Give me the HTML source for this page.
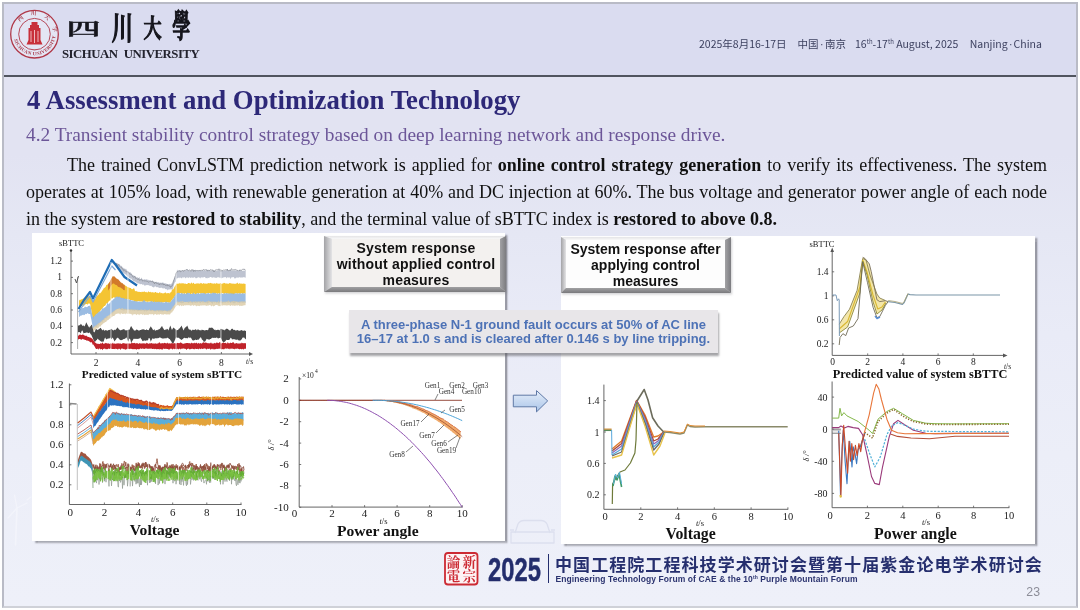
<!DOCTYPE html>
<html><head><meta charset="utf-8">
<style>
*{margin:0;padding:0;box-sizing:border-box}
html,body{width:1080px;height:610px;overflow:hidden;background:#fff;position:relative}
#slide{position:absolute;left:2px;top:2px;width:1076px;height:606px;border:2px solid #b9bbc6;border-bottom-color:#cfd1d8;background:linear-gradient(180deg,#e2e3f2 0px,#e2e3f2 150px,#e5e7f4 230px,#e9ebf7 330px,#eceef8 450px,#eef0f9 600px);overflow:hidden}
.abs{position:absolute}
#hdr{position:absolute;left:0;top:0;width:1072px;height:73px;background:#dadcf0;border-bottom:2px solid #50545f}
#title{left:23px;top:80.7px;font:bold 26.75px "Liberation Serif",serif;color:#2d2878;white-space:nowrap}
#sub{left:22px;top:120px;font:19.35px "Liberation Serif",serif;color:#6c5698;white-space:nowrap}
#para{left:22px;top:148px;width:1021px;font:18px/26.9px "Liberation Serif",serif;color:#111;text-align:justify}
#para .l{display:block;text-align-last:justify;white-space:nowrap}
#para .l3{display:inline-block;white-space:nowrap}
.panel{position:absolute;background:#fff;box-shadow:2.5px 2px 1.5px rgba(75,75,85,.5)}
.pg{position:absolute;white-space:nowrap;line-height:1}
.bevel{position:absolute;border-style:solid;text-align:center;font:bold 14px/16px "Liberation Sans",sans-serif;color:#111}
#boxA{left:324px;top:236px;width:182px;height:56px;border-width:3px 6px 5px 8px;border-color:transparent;padding-top:0.5px;letter-spacing:0.2px}
#boxB{left:561px;top:237px;width:170px;height:56px;border-width:3px 6px 5px 5px;border-color:transparent;padding-top:1px}
#fault{left:349px;top:310px;width:369px;height:43px;background:#e8e6e9;box-shadow:1px 2.5px 2px rgba(90,90,95,.55);font:bold 13px/14.4px "Liberation Sans",sans-serif;color:#4d72b6;text-align:center;padding-top:7.8px}
.cjk{font-family:"Noto Sans CJK SC",sans-serif}
#date span{position:absolute;top:0;white-space:nowrap;font:10.5px/1 "Noto Sans CJK SC","Liberation Sans",sans-serif;color:#3b3f5e;transform-origin:0 0}
#date sup{font-size:6px;vertical-align:4px}
</style></head><body>
<div id="slide">
  <div id="hdr"></div>
  <div id="title" class="abs">4 Assessment and Optimization Technology</div>
  <div id="sub" class="abs">4.2 Transient stability control strategy based on deep learning network and response drive.</div>
  <div id="para" class="abs"><span class="l" style="padding-left:41px">The trained ConvLSTM prediction network is applied for <b>online control strategy generation</b> to verify its effectiveness. The system</span><span class="l">operates at 105% load, with renewable generation at 40% and DC injection at 60%. The bus voltage and generator power angle of each node</span><span class="l3" id="l3">in the system are <b>restored to stability</b>, and the terminal value of sBTTC index is <b>restored to above 0.8.</b></span></div>
  <div class="panel" style="left:28px;top:229px;width:473px;height:308px"></div>
  <div class="panel" style="left:557px;top:232px;width:474px;height:308px"></div>
</div>
<svg id="charts" width="1080" height="610" viewBox="0 0 1080 610" style="position:absolute;left:0;top:0">
<path d="M71,250.5 L71,354 L249,354" fill="none" stroke="#555" stroke-width="0.9" stroke-linejoin="round"/>
<path d="M249,352 L253,354 L249,356Z" fill="#555"/>
<circle cx="71" cy="250.5" r="1.2" fill="#333"/>
<text x="71.5" y="246" font-family='"Liberation Serif",serif' font-size="8.5" text-anchor="middle" font-weight="normal" fill="#222">sBTTC</text>
<text x="62" y="264.1" font-family='"Liberation Serif",serif' font-size="9.5" text-anchor="end" font-weight="normal" fill="#222">1.2</text>
<path d="M71,261.1 L73,261.1" fill="none" stroke="#555" stroke-width="0.8" stroke-linejoin="round"/>
<text x="62" y="280.4" font-family='"Liberation Serif",serif' font-size="9.5" text-anchor="end" font-weight="normal" fill="#222">1</text>
<path d="M71,277.4 L73,277.4" fill="none" stroke="#555" stroke-width="0.8" stroke-linejoin="round"/>
<text x="62" y="296.7" font-family='"Liberation Serif",serif' font-size="9.5" text-anchor="end" font-weight="normal" fill="#222">0.8</text>
<path d="M71,293.7 L73,293.7" fill="none" stroke="#555" stroke-width="0.8" stroke-linejoin="round"/>
<text x="62" y="313" font-family='"Liberation Serif",serif' font-size="9.5" text-anchor="end" font-weight="normal" fill="#222">0.6</text>
<path d="M71,310 L73,310" fill="none" stroke="#555" stroke-width="0.8" stroke-linejoin="round"/>
<text x="62" y="329.3" font-family='"Liberation Serif",serif' font-size="9.5" text-anchor="end" font-weight="normal" fill="#222">0.4</text>
<path d="M71,326.3 L73,326.3" fill="none" stroke="#555" stroke-width="0.8" stroke-linejoin="round"/>
<text x="62" y="345.6" font-family='"Liberation Serif",serif' font-size="9.5" text-anchor="end" font-weight="normal" fill="#222">0.2</text>
<path d="M71,342.6 L73,342.6" fill="none" stroke="#555" stroke-width="0.8" stroke-linejoin="round"/>
<text x="96" y="366" font-family='"Liberation Serif",serif' font-size="9.5" text-anchor="middle" font-weight="normal" fill="#222">2</text>
<path d="M96,354 L96,352" fill="none" stroke="#555" stroke-width="0.8" stroke-linejoin="round"/>
<text x="137.8" y="366" font-family='"Liberation Serif",serif' font-size="9.5" text-anchor="middle" font-weight="normal" fill="#222">4</text>
<path d="M137.8,354 L137.8,352" fill="none" stroke="#555" stroke-width="0.8" stroke-linejoin="round"/>
<text x="179.6" y="366" font-family='"Liberation Serif",serif' font-size="9.5" text-anchor="middle" font-weight="normal" fill="#222">6</text>
<path d="M179.6,354 L179.6,352" fill="none" stroke="#555" stroke-width="0.8" stroke-linejoin="round"/>
<text x="221.4" y="366" font-family='"Liberation Serif",serif' font-size="9.5" text-anchor="middle" font-weight="normal" fill="#222">8</text>
<path d="M221.4,354 L221.4,352" fill="none" stroke="#555" stroke-width="0.8" stroke-linejoin="round"/>
<text x="246" y="364" font-family='"Liberation Serif",serif' font-size="7.5" text-anchor="start" font-weight="normal" fill="#222"><tspan font-style="italic">t</tspan>/s</text>
<text x="162" y="378" font-family='"Liberation Serif",serif' font-size="11.3" text-anchor="middle" font-weight="bold" fill="#111">Predicted value of system sBTTC</text>
<path d="M77.6,277 L77.6,349" fill="none" stroke="#999" stroke-width="0.8" stroke-linejoin="round"/>
<path d="M75,279 L76.5,283 L78.5,276" fill="none" stroke="#555" stroke-width="1.0" stroke-linejoin="round"/>
<path d="M112,261 L112.7,262.2 L113.4,261.6 L114.1,261.9 L114.8,262.8 L115.5,262.7 L116.2,263.4 L116.9,262.4 L117.6,263.6 L118.3,264.1 L119,263.8 L119.7,264.6 L120.4,265.7 L121.1,265.8 L121.8,266 L122.5,267.4 L123.2,267.8 L123.9,268.5 L124.6,268.5 L125.3,269.2 L126,268.5 L126.7,270.1 L127.4,270.9 L128.1,270.9 L128.8,271.7 L129.5,272.4 L130.2,272.2 L130.9,272.8 L131.6,273.8 L132.3,274.7 L133,275 L133.7,275.6 L134.4,275.9 L135.1,275.7 L135.8,276.8 L136.5,277.9 L137.2,277.3 L137.9,277.6 L138.6,278.4 L139.3,276.7 L140,279 L140.7,278.9 L141.4,277.4 L142.1,278.7 L142.8,279.5 L143.5,279.7 L144.2,279.6 L144.9,279.1 L145.6,279.8 L146.3,279.5 L147,278.9 L147.7,280.1 L148.4,279.8 L149.1,280.4 L149.8,279.9 L150.5,280.5 L151.2,280.7 L151.9,281 L152.6,280.6 L153.3,281.3 L154,281.8 L154.7,281.8 L155.4,282 L156.1,282.2 L156.8,281.5 L157.5,282.4 L158.2,282.1 L158.9,282.5 L159.6,282.7 L160.3,282.7 L161,282.4 L161.7,282.9 L162.4,282.2 L163.1,283.1 L163.8,282.6 L164.5,283.8 L165.2,283.3 L165.9,283.5 L166.6,283.8 L167.3,283.9 L168,284.1 L168.7,284.3 L169.4,283.8 L170.1,284.2 L170.8,284.2 L171.5,283.3 L172.2,283.9 L172.9,281.8 L173.6,280.5 L174.3,278.6 L175,276.4 L175.7,273.8 L176.4,272.2 L177.1,269.5 L177.8,270.7 L178.5,270.5 L179.2,270.7 L179.9,270.5 L180.6,270.1 L181.3,270.7 L182,270.3 L182.7,270.9 L183.4,270.8 L184.1,269.6 L184.8,270.7 L185.5,270.3 L186.2,270.3 L186.9,270.1 L187.6,268.7 L188.3,270.9 L189,270.6 L189.7,270.5 L190.4,270.9 L191.1,270.6 L191.8,270.6 L192.5,270.3 L193.2,269.4 L193.9,270.3 L194.6,270.8 L195.3,269.6 L196,270.6 L196.7,270.4 L197.4,270.8 L198.1,270.5 L198.8,270.5 L199.5,270.2 L200.2,270.2 L200.9,270.8 L201.6,270.9 L202.3,270.8 L203,269.8 L203.7,270.4 L204.4,270.2 L205.1,270.6 L205.8,270.9 L206.5,269.6 L207.2,269.5 L207.9,270.4 L208.6,271 L209.3,270.1 L210,270.9 L210.7,270.3 L211.4,270.3 L212.1,270.9 L212.8,269.2 L213.5,270.6 L214.2,270.8 L214.9,270 L215.6,270.6 L216.3,270.9 L217,270.8 L217.7,270.4 L218.4,270.1 L219.1,270.3 L219.8,270.3 L220.5,270.8 L221.2,270.4 L221.9,270.5 L222.6,270.5 L223.3,270.1 L224,271 L224.7,271 L225.4,270.7 L226.1,270 L226.8,270.6 L227.5,269.4 L228.2,270.5 L228.9,270.9 L229.6,270.5 L230.3,270.6 L231,270.7 L231.7,270.2 L232.4,270.4 L233.1,270.7 L233.8,270.8 L234.5,270.3 L235.2,270.4 L235.9,270.3 L236.6,270.8 L237.3,270.6 L238,270.7 L238.7,271 L239.4,269.6 L240.1,270 L240.8,270.5 L241.5,270.4 L242.2,271 L242.9,270.5 L243.6,270.7 L244.3,270.7 L245,270.6 L245.7,270.6 L245.7,277.7 L245,277.4 L244.3,277.3 L243.6,277.1 L242.9,277.7 L242.2,277.2 L241.5,277.4 L240.8,277.7 L240.1,277.3 L239.4,277.3 L238.7,277.3 L238,278.2 L237.3,277.2 L236.6,277.5 L235.9,278.1 L235.2,278.6 L234.5,278.6 L233.8,277.1 L233.1,277.3 L232.4,277.3 L231.7,277.6 L231,277.6 L230.3,279.3 L229.6,277.2 L228.9,277.3 L228.2,277.8 L227.5,277.1 L226.8,278.4 L226.1,277.5 L225.4,277.1 L224.7,277.3 L224,277.2 L223.3,277.5 L222.6,277.9 L221.9,277.4 L221.2,278.4 L220.5,277.7 L219.8,277.3 L219.1,277.9 L218.4,277.1 L217.7,277.3 L217,277.6 L216.3,278 L215.6,278.1 L214.9,277.1 L214.2,278.1 L213.5,277.1 L212.8,278.1 L212.1,277.3 L211.4,277.5 L210.7,277.1 L210,277 L209.3,277.7 L208.6,277.9 L207.9,277.4 L207.2,278.5 L206.5,278.1 L205.8,278.3 L205.1,277.3 L204.4,277.1 L203.7,277.1 L203,278.1 L202.3,277.3 L201.6,277.1 L200.9,278.4 L200.2,277.4 L199.5,277.7 L198.8,277.3 L198.1,277.2 L197.4,277.8 L196.7,277.9 L196,278.5 L195.3,277.7 L194.6,277.1 L193.9,277.8 L193.2,277.5 L192.5,277.8 L191.8,277.6 L191.1,277.6 L190.4,278.1 L189.7,277.3 L189,277.2 L188.3,278.3 L187.6,277.2 L186.9,277.8 L186.2,277.3 L185.5,278.4 L184.8,277.5 L184.1,277.1 L183.4,277.7 L182.7,277.1 L182,278.4 L181.3,277.9 L180.6,277.7 L179.9,277.2 L179.2,278.2 L178.5,277.5 L177.8,277.9 L177.1,278.6 L176.4,278.6 L175.7,282 L175,282 L174.3,283.6 L173.6,286 L172.9,288.6 L172.2,290 L171.5,289.3 L170.8,289.1 L170.1,289.7 L169.4,289.3 L168.7,289.7 L168,289.3 L167.3,290.5 L166.6,289.1 L165.9,289.2 L165.2,289 L164.5,287.9 L163.8,288.7 L163.1,287.7 L162.4,288.6 L161.7,287.7 L161,287.4 L160.3,288 L159.6,287.9 L158.9,287.5 L158.2,287.6 L157.5,286.9 L156.8,287.2 L156.1,287 L155.4,286.3 L154.7,286.5 L154,287.6 L153.3,287.3 L152.6,286.9 L151.9,286.6 L151.2,285.6 L150.5,286 L149.8,285.6 L149.1,285.7 L148.4,285.1 L147.7,285.1 L147,285.3 L146.3,285 L145.6,285.4 L144.9,285.3 L144.2,285.7 L143.5,284.2 L142.8,285 L142.1,284.3 L141.4,284 L140.7,284.1 L140,284.5 L139.3,283.4 L138.6,283.6 L137.9,283.3 L137.2,283.4 L136.5,282.6 L135.8,282.2 L135.1,281.6 L134.4,281.6 L133.7,281.5 L133,280.7 L132.3,280.1 L131.6,278.9 L130.9,278.2 L130.2,278.7 L129.5,278.1 L128.8,277.6 L128.1,276.3 L127.4,276.7 L126.7,275.4 L126,274.4 L125.3,274.2 L124.6,274.1 L123.9,272.8 L123.2,273 L122.5,272.1 L121.8,271.4 L121.1,270.6 L120.4,270.7 L119.7,269.6 L119,268.9 L118.3,268.4 L117.6,269.5 L116.9,267.3 L116.2,266.3 L115.5,266.2 L114.8,264.9 L114.1,265.2 L113.4,263.4 L112.7,263.3 L112,263.2Z" fill="#b7bccb" fill-opacity="0.9"/>
<path d="M116,263.2 L116.7,263.8 L117.4,265.9 L118.1,264.8 L118.8,264.7 L119.5,266.3 L120.2,266.7 L120.9,267.5 L121.6,267.4 L122.3,269 L123,269 L123.7,270.7 L124.4,270.1 L125.1,270.4 L125.8,271.6 L126.5,271.8 L127.2,271.3 L127.9,272.8 L128.6,272.4 L129.3,274.1 L130,273.5 L130.7,274.6 L131.4,274.4 L132.1,275.6 L132.8,276.8 L133.5,277.1 L134.2,276.6 L134.9,276.6 L135.6,278.4 L136.3,278.1 L137,278.5 L137.7,279.6 L138.4,278.6 L139.1,280 L139.8,280.3 L140.5,279.8 L141.2,279.4 L141.9,279.9 L142.6,281.1 L143.3,280.5 L144,281.3 L144.7,280.7 L145.4,280.9 L146.1,281.1 L146.8,281.2 L147.5,281.5 L148.2,281.9 L148.9,282.3 L149.6,281.6 L150.3,281.3 L151,281.6 L151.7,281.6 L152.4,281.1 L153.1,282.5 L153.8,282.1 L154.5,283.9 L155.2,282.6 L155.9,282.2 L156.6,283.5 L157.3,283.4 L158,284 L158.7,283.8 L159.4,285 L160.1,283.5 L160.8,284.3 L161.5,284 L162.2,284.1 L162.9,283.6 L163.6,285.1 L164.3,283.9 L165,285.2 L165.7,285.4 L166.4,285.6 L167.1,284.5 L167.8,286.1 L168.5,285.3 L169.2,286.2 L169.9,285.8 L170.6,287.4 L171.3,286 L172,286.4 L172.7,284.5 L173.4,281.1 L174.1,279.5 L174.8,277.4 L175.5,275.5 L176.2,272.9 L176.9,271.9 L177.6,271.7 L178.3,271.3 L179,270.5 L179.7,270.9 L180.4,271.8 L181.1,271.6 L181.8,270.9 L182.5,270.2 L183.2,271.2 L183.9,270.9 L184.6,270.5 L185.3,270.4 L186,269.6 L186.7,269.6 L187.4,269.7 L188.1,270.6 L188.8,270.6 L189.5,270 L190.2,270.3 L190.9,271.3 L191.6,269.7 L192.3,270.1 L193,269.7 L193.7,271.6 L194.4,270.2 L195.1,271.2 L195.8,270.8 L196.5,270 L197.2,270.8 L197.9,270.5 L198.6,270.7 L199.3,270.5 L200,270.7 L200.7,270.7 L201.4,269.9 L202.1,270.8 L202.8,269.9 L203.5,269.5 L204.2,270.1 L204.9,269.8 L205.6,269.9 L206.3,269.6 L207,270.8 L207.7,270.8 L208.4,269.9 L209.1,271.1 L209.8,270.2 L210.5,269.8 L211.2,269.6 L211.9,270.5 L212.6,270.2 L213.3,270.4 L214,272 L214.7,270.8 L215.4,270.2 L216.1,269.6 L216.8,270 L217.5,269.8 L218.2,269.8 L218.9,268.8 L219.6,270.3 L220.3,269.5 L221,271.5 L221.7,270 L222.4,270.7 L223.1,270.4 L223.8,269.7 L224.5,270.3 L225.2,269.9 L225.9,269.9 L226.6,270.1 L227.3,269 L228,271 L228.7,270.5 L229.4,270 L230.1,271 L230.8,269.5 L231.5,268.6 L232.2,270.3 L232.9,269.6 L233.6,270 L234.3,269.7 L235,269.9 L235.7,269.5 L236.4,270 L237.1,270.5 L237.8,270.3 L238.5,271.1 L239.2,270.4 L239.9,270.3 L240.6,270.2 L241.3,270.4 L242,269.9 L242.7,269.2 L243.4,269.4 L244.1,268.9 L244.8,269.9 L245.5,270.1" fill="none" stroke="#8c8f98" stroke-width="0.8" stroke-linejoin="round"/>
<path d="M79,299.4 L79.7,300.4 L80.4,299.8 L81.1,299.8 L81.8,299 L82.5,299.1 L83.2,298.5 L83.9,298.4 L84.6,297.6 L85.3,297.6 L86,297.7 L86.7,296.9 L87.4,296.1 L88.1,296 L88.8,296.5 L89.5,296.1 L90.2,293.9 L90.9,297.6 L91.6,298.2 L92.3,300.5 L93,301.9 L93.7,300 L94.4,299.9 L95.1,299.5 L95.8,297.9 L96.5,296.3 L97.2,295.7 L97.9,295.3 L98.6,294.8 L99.3,293.1 L100,293.6 L100.7,292.8 L101.4,292 L102.1,290.8 L102.8,289.9 L103.5,288.6 L104.2,287.9 L104.9,287.4 L105.6,287 L106.3,284.7 L107,285.3 L107.7,284.2 L108.4,283.5 L109.1,283 L109.8,281.9 L110.5,281.1 L111.2,279.9 L111.9,279.4 L112.6,278.7 L113.3,278.5 L114,279.3 L114.7,280 L115.4,279.4 L116.1,280.3 L116.8,281.3 L117.5,282.1 L118.2,282.2 L118.9,282.8 L119.6,282.9 L120.3,283 L121,283.1 L121.7,283.9 L122.4,284 L123.1,284.9 L123.8,284.4 L124.5,285 L125.2,285.6 L125.9,286.1 L126.6,286.2 L127.3,286.9 L128,286.9 L128.7,287.5 L129.4,287.7 L130.1,288 L130.8,288 L131.5,289.1 L132.2,289.2 L132.9,289.1 L133.6,288.3 L134.3,288.6 L135,290.9 L135.7,291.3 L136.4,290.8 L137.1,291.9 L137.8,291.3 L138.5,291.9 L139.2,291.8 L139.9,292.1 L140.6,291.9 L141.3,292.2 L142,291.5 L142.7,292 L143.4,292 L144.1,291.3 L144.8,291.7 L145.5,292.3 L146.2,291.8 L146.9,292.5 L147.6,292.4 L148.3,291.1 L149,292.3 L149.7,292.1 L150.4,291.8 L151.1,292.4 L151.8,292.3 L152.5,292.2 L153.2,292.3 L153.9,292.8 L154.6,292.6 L155.3,292 L156,292.1 L156.7,292.9 L157.4,292.6 L158.1,293.3 L158.8,293.1 L159.5,292.2 L160.2,292.3 L160.9,293.4 L161.6,292.8 L162.3,293.4 L163,293.1 L163.7,293.5 L164.4,292.9 L165.1,292.5 L165.8,292.5 L166.5,293.6 L167.2,293.3 L167.9,292.9 L168.6,293.1 L169.3,293.8 L170,292.5 L170.7,292.6 L171.4,291.7 L172.1,289.3 L172.8,289.8 L173.5,288.9 L174.2,287.5 L174.9,286.2 L175.6,285.3 L176.3,283.9 L177,283.3 L177.7,283.9 L178.4,283.4 L179.1,283.8 L179.8,282.8 L180.5,283.6 L181.2,283.8 L181.9,282.8 L182.6,283.6 L183.3,283.3 L184,283.6 L184.7,283.8 L185.4,283.4 L186.1,284 L186.8,283.9 L187.5,283.8 L188.2,283.1 L188.9,283 L189.6,283.2 L190.3,283.7 L191,283.2 L191.7,282.3 L192.4,283.9 L193.1,282.8 L193.8,283 L194.5,284 L195.2,284 L195.9,283.5 L196.6,283.4 L197.3,283.5 L198,283.3 L198.7,283.5 L199.4,284 L200.1,282.7 L200.8,283.4 L201.5,283 L202.2,283.7 L202.9,283.8 L203.6,283 L204.3,283.5 L205,283.8 L205.7,283.4 L206.4,283.8 L207.1,283.6 L207.8,283.4 L208.5,283.1 L209.2,283.3 L209.9,283.3 L210.6,282.7 L211.3,283.6 L212,283.1 L212.7,283.8 L213.4,283.7 L214.1,283.2 L214.8,283.6 L215.5,283.8 L216.2,283.5 L216.9,282.7 L217.6,283.7 L218.3,283.8 L219,283.5 L219.7,283.7 L220.4,283 L221.1,283.5 L221.8,283.9 L222.5,283.6 L223.2,283.5 L223.9,282.8 L224.6,283.1 L225.3,283.4 L226,283.6 L226.7,283.6 L227.4,283.5 L228.1,283.9 L228.8,283.6 L229.5,282.9 L230.2,283.2 L230.9,283.3 L231.6,283.4 L232.3,283.9 L233,282.9 L233.7,284 L234.4,283.7 L235.1,283.7 L235.8,283.7 L236.5,283.4 L237.2,282.5 L237.9,283.3 L238.6,283.9 L239.3,283.6 L240,282.7 L240.7,283.9 L241.4,283.5 L242.1,283.7 L242.8,283.8 L243.5,283.6 L244.2,283.7 L244.9,283.7 L245.6,284 L245.6,293.7 L244.9,293.4 L244.2,293.1 L243.5,293.5 L242.8,294 L242.1,293.6 L241.4,293.1 L240.7,293.7 L240,293.7 L239.3,293.5 L238.6,293.1 L237.9,294.6 L237.2,293.2 L236.5,293.2 L235.8,293.3 L235.1,293.6 L234.4,293.9 L233.7,294.9 L233,294.2 L232.3,294.2 L231.6,294.6 L230.9,293.4 L230.2,294.2 L229.5,293.8 L228.8,293.9 L228.1,293.5 L227.4,293.5 L226.7,294 L226,293.3 L225.3,293.3 L224.6,293.4 L223.9,294 L223.2,293.2 L222.5,293.1 L221.8,293.3 L221.1,293.5 L220.4,293.8 L219.7,294.7 L219,293.1 L218.3,293.5 L217.6,293.9 L216.9,293.3 L216.2,293.5 L215.5,293.3 L214.8,293.6 L214.1,294 L213.4,293.5 L212.7,293.1 L212,293.1 L211.3,293.9 L210.6,293.5 L209.9,293.2 L209.2,293.1 L208.5,293.1 L207.8,293.1 L207.1,293.6 L206.4,293.3 L205.7,294.1 L205,293.7 L204.3,294 L203.6,293.6 L202.9,293 L202.2,293.5 L201.5,293.1 L200.8,294 L200.1,293.1 L199.4,293 L198.7,294.8 L198,293.3 L197.3,293.2 L196.6,293.7 L195.9,294.2 L195.2,293.9 L194.5,293.5 L193.8,293.8 L193.1,293.8 L192.4,293.9 L191.7,293.2 L191,294 L190.3,294.4 L189.6,293.1 L188.9,293.1 L188.2,293.6 L187.5,294 L186.8,294.4 L186.1,294 L185.4,293.1 L184.7,293.8 L184,294.6 L183.3,293.1 L182.6,293.8 L181.9,293.8 L181.2,293.1 L180.5,293.2 L179.8,293 L179.1,293.7 L178.4,293.5 L177.7,293.5 L177,293.5 L176.3,294.3 L175.6,295.4 L174.9,296 L174.2,297.5 L173.5,298 L172.8,298.7 L172.1,300.6 L171.4,300.3 L170.7,301.7 L170,303.9 L169.3,302.3 L168.6,302.4 L167.9,302.4 L167.2,302 L166.5,302.4 L165.8,302.4 L165.1,302.2 L164.4,302 L163.7,302.3 L163,302.4 L162.3,302.6 L161.6,302.8 L160.9,301.9 L160.2,303.1 L159.5,302.3 L158.8,301.9 L158.1,302.3 L157.4,302.1 L156.7,302.4 L156,302.1 L155.3,302.7 L154.6,301.8 L153.9,302.4 L153.2,301.9 L152.5,301.5 L151.8,302.3 L151.1,301.8 L150.4,301.5 L149.7,301.5 L149,301.7 L148.3,301.5 L147.6,302 L146.9,301.6 L146.2,301.7 L145.5,301.4 L144.8,301.6 L144.1,301.5 L143.4,302.7 L142.7,302.1 L142,301.3 L141.3,301.6 L140.6,301.4 L139.9,301.6 L139.2,301.3 L138.5,301.1 L137.8,301.4 L137.1,301.5 L136.4,301.8 L135.7,301.7 L135,301.4 L134.3,301.4 L133.6,300.4 L132.9,300.7 L132.2,300.1 L131.5,300.1 L130.8,299.9 L130.1,300.1 L129.4,299.6 L128.7,299.4 L128,299.6 L127.3,299.3 L126.6,299.4 L125.9,299.3 L125.2,298.7 L124.5,299.3 L123.8,299 L123.1,299.4 L122.4,298.2 L121.7,298.4 L121,298.6 L120.3,297.8 L119.6,297.5 L118.9,297.5 L118.2,298.2 L117.5,297.5 L116.8,297.1 L116.1,297.2 L115.4,297.9 L114.7,297.9 L114,297.1 L113.3,297.5 L112.6,298.4 L111.9,298.1 L111.2,298.9 L110.5,300.6 L109.8,300.4 L109.1,300.9 L108.4,301.7 L107.7,303.2 L107,303.1 L106.3,303.8 L105.6,304.9 L104.9,305.9 L104.2,306 L103.5,307 L102.8,307.8 L102.1,308.5 L101.4,309.4 L100.7,310.3 L100,311.3 L99.3,311.9 L98.6,312.4 L97.9,313.9 L97.2,313.5 L96.5,314.3 L95.8,315.2 L95.1,316.8 L94.4,316.6 L93.7,318.8 L93,319.2 L92.3,316 L91.6,311.8 L90.9,307.9 L90.2,304.2 L89.5,303.5 L88.8,303.5 L88.1,303.7 L87.4,304.7 L86.7,304 L86,304.1 L85.3,304.5 L84.6,304.7 L83.9,306.9 L83.2,305.1 L82.5,305.2 L81.8,305.8 L81.1,306 L80.4,306.6 L79.7,305.9 L79,306.5Z" fill="#f3bf22" fill-opacity="0.92"/>
<path d="M108,284.6 L108.7,283.4 L109.4,282.3 L110.1,281 L110.8,279.6 L111.5,278.2 L112.2,277.3 L112.9,276.1 L113.6,276.5 L114.3,276.2 L115,277.1 L115.7,277.7 L116.4,278.5 L117.1,278.8 L117.8,279.3 L118.5,279.6 L119.2,280.4 L119.9,281.3 L120.6,282.2 L121.3,282.6 L122,283.4 L122.7,283 L123.4,284.6 L124.1,284.5 L124.8,285.4 L124.8,290.3 L124.1,289.9 L123.4,289.9 L122.7,288.9 L122,288.6 L121.3,288.2 L120.6,287.6 L119.9,287.6 L119.2,286.9 L118.5,287.1 L117.8,286.6 L117.1,285.6 L116.4,285 L115.7,284.7 L115,284.7 L114.3,283.8 L113.6,283.5 L112.9,283.5 L112.2,284.2 L111.5,285.1 L110.8,286.1 L110.1,287.6 L109.4,288.9 L108.7,289.4 L108,290.7Z" fill="#d27a2a"/>
<path d="M79,309.9 L79.7,309 L80.4,309.3 L81.1,307.7 L81.8,308.9 L82.5,307.8 L83.2,308 L83.9,307.9 L84.6,306.9 L85.3,306.4 L86,307.3 L86.7,307.1 L87.4,306.9 L88.1,306.1 L88.8,306.1 L89.5,305.8 L90.2,305.7 L90.9,307.8 L91.6,312.1 L92.3,314.8 L93,317.2 L93.7,316.9 L94.4,316 L95.1,315.5 L95.8,314.1 L96.5,314.2 L97.2,312.8 L97.9,313.5 L98.6,311.8 L99.3,311.6 L100,311.8 L100.7,310.8 L101.4,310.6 L102.1,308.6 L102.8,308.2 L103.5,308.4 L104.2,307.8 L104.9,307.4 L105.6,306.8 L106.3,306.2 L107,304.1 L107.7,302.3 L108.4,304.4 L109.1,303.7 L109.8,303 L110.5,302.3 L111.2,300.5 L111.9,300.7 L112.6,300.2 L113.3,299.3 L114,299 L114.7,298 L115.4,297.5 L116.1,296.6 L116.8,297.1 L117.5,296.2 L118.2,297.2 L118.9,296.6 L119.6,296.6 L120.3,297.6 L121,297.4 L121.7,297.9 L122.4,298 L123.1,298.2 L123.8,297.8 L124.5,298.9 L125.2,298.5 L125.9,298.8 L126.6,298.7 L127.3,299.3 L128,299.7 L128.7,298.7 L129.4,299.9 L130.1,300.1 L130.8,300.1 L131.5,300.5 L132.2,300.5 L132.9,300.5 L133.6,300.9 L134.3,300.7 L135,300.8 L135.7,301.6 L136.4,301.3 L137.1,301.5 L137.8,301.8 L138.5,301.6 L139.2,301.8 L139.9,301.6 L140.6,301.9 L141.3,301.7 L142,301.4 L142.7,301.8 L143.4,300.3 L144.1,300.5 L144.8,300.4 L145.5,301.7 L146.2,302.2 L146.9,301.8 L147.6,302.1 L148.3,302.3 L149,301.8 L149.7,302.3 L150.4,301.4 L151.1,300.9 L151.8,301.6 L152.5,301.2 L153.2,302.2 L153.9,302 L154.6,300.9 L155.3,302 L156,302.6 L156.7,301.2 L157.4,302.3 L158.1,301.2 L158.8,302 L159.5,301.4 L160.2,302.7 L160.9,301.6 L161.6,302.1 L162.3,302.7 L163,302 L163.7,302.8 L164.4,302.4 L165.1,302.6 L165.8,301.3 L166.5,302.1 L167.2,302.6 L167.9,302.3 L168.6,302.3 L169.3,302.7 L170,302.3 L170.7,301.9 L171.4,300.8 L172.1,299.5 L172.8,299.2 L173.5,298.1 L174.2,296.9 L174.9,295.5 L175.6,294.7 L176.3,294.3 L177,292.8 L177.7,293.2 L178.4,292.5 L179.1,293.3 L179.8,292.9 L180.5,293.9 L181.2,293 L181.9,293.1 L182.6,293.7 L183.3,293.9 L184,293.2 L184.7,293.6 L185.4,294 L186.1,293.7 L186.8,293.6 L187.5,292.5 L188.2,292.9 L188.9,293.3 L189.6,293 L190.3,293.9 L191,293.9 L191.7,293.9 L192.4,294 L193.1,293.3 L193.8,292.6 L194.5,294 L195.2,294 L195.9,294 L196.6,293.5 L197.3,293.5 L198,293.2 L198.7,293.2 L199.4,294 L200.1,293.5 L200.8,293.6 L201.5,292.9 L202.2,293.6 L202.9,292.9 L203.6,293.2 L204.3,292.8 L205,293.8 L205.7,293.7 L206.4,293.8 L207.1,293.3 L207.8,293.6 L208.5,292.7 L209.2,293.5 L209.9,294 L210.6,293.2 L211.3,293.6 L212,293.4 L212.7,292.5 L213.4,292.9 L214.1,292.5 L214.8,293.6 L215.5,292.7 L216.2,293.5 L216.9,293.8 L217.6,293.4 L218.3,293.9 L219,293.1 L219.7,293.6 L220.4,293.8 L221.1,293.5 L221.8,292.9 L222.5,293.9 L223.2,293.7 L223.9,294 L224.6,292.7 L225.3,293.8 L226,292.9 L226.7,293.3 L227.4,293.2 L228.1,293.7 L228.8,293.2 L229.5,293.6 L230.2,293.8 L230.9,292.7 L231.6,293.7 L232.3,293.3 L233,293.8 L233.7,293.7 L234.4,293.2 L235.1,293.9 L235.8,292.8 L236.5,293.6 L237.2,293.3 L237.9,293.8 L238.6,293.5 L239.3,293.3 L240,293.3 L240.7,293.8 L241.4,293.6 L242.1,293.4 L242.8,293.2 L243.5,293.5 L244.2,293.8 L244.9,292.8 L245.6,294 L245.6,303 L244.9,302.5 L244.2,302.5 L243.5,302.7 L242.8,302.6 L242.1,303.1 L241.4,302.2 L240.7,302.3 L240,303.5 L239.3,302.9 L238.6,302.2 L237.9,303.2 L237.2,302 L236.5,302.1 L235.8,302.3 L235.1,303.3 L234.4,303.2 L233.7,303.2 L233,303.3 L232.3,302.3 L231.6,302.2 L230.9,303.1 L230.2,303.2 L229.5,302.1 L228.8,302.2 L228.1,303 L227.4,302.4 L226.7,302 L226,302.6 L225.3,302.7 L224.6,302.8 L223.9,302.3 L223.2,302.8 L222.5,303.6 L221.8,303.3 L221.1,303.2 L220.4,302.6 L219.7,302.5 L219,303.8 L218.3,303.3 L217.6,302.1 L216.9,304 L216.2,302.6 L215.5,302.1 L214.8,302.9 L214.1,302.3 L213.4,302.1 L212.7,303.9 L212,303.2 L211.3,302.7 L210.6,302.1 L209.9,302.2 L209.2,302.3 L208.5,302.8 L207.8,303.2 L207.1,303.8 L206.4,302.5 L205.7,303 L205,302.6 L204.3,302.4 L203.6,302.5 L202.9,302.8 L202.2,302.3 L201.5,302.1 L200.8,302.9 L200.1,303.3 L199.4,302.5 L198.7,302.1 L198,302.5 L197.3,302.7 L196.6,302.6 L195.9,302.8 L195.2,303.1 L194.5,302.5 L193.8,302.6 L193.1,302.3 L192.4,303.9 L191.7,302.4 L191,303 L190.3,302.2 L189.6,302.3 L188.9,303.3 L188.2,303.1 L187.5,302.2 L186.8,302.3 L186.1,302.2 L185.4,302.2 L184.7,302 L184,302.6 L183.3,303 L182.6,303.1 L181.9,303.4 L181.2,303 L180.5,302.9 L179.8,302.8 L179.1,302.3 L178.4,302.7 L177.7,302.4 L177,302.3 L176.3,303 L175.6,304.4 L174.9,304.7 L174.2,305.9 L173.5,307.6 L172.8,308.2 L172.1,309.1 L171.4,309.4 L170.7,310.9 L170,311.7 L169.3,311.6 L168.6,311.3 L167.9,311.9 L167.2,311.6 L166.5,311.4 L165.8,311.1 L165.1,311.1 L164.4,311 L163.7,310.9 L163,311.2 L162.3,311.7 L161.6,310.9 L160.9,311.9 L160.2,310.8 L159.5,311.4 L158.8,311.9 L158.1,311 L157.4,311 L156.7,310.8 L156,312.2 L155.3,311 L154.6,311.5 L153.9,311.3 L153.2,311.1 L152.5,310.6 L151.8,311.1 L151.1,311.2 L150.4,311.1 L149.7,310.6 L149,310.7 L148.3,310.6 L147.6,311 L146.9,311.1 L146.2,311.8 L145.5,310.5 L144.8,311 L144.1,311.8 L143.4,310.3 L142.7,310.4 L142,310.5 L141.3,310.8 L140.6,310.7 L139.9,310.6 L139.2,310.8 L138.5,311.1 L137.8,310.6 L137.1,311.4 L136.4,310.1 L135.7,310.3 L135,310.5 L134.3,310.9 L133.6,310.2 L132.9,310.5 L132.2,310.4 L131.5,310.1 L130.8,310.5 L130.1,310.2 L129.4,310.1 L128.7,310.1 L128,309.7 L127.3,310.3 L126.6,310.3 L125.9,310 L125.2,309.8 L124.5,310.3 L123.8,311.2 L123.1,309.3 L122.4,310.5 L121.7,309.9 L121,309.8 L120.3,309.4 L119.6,309.3 L118.9,309.6 L118.2,309.1 L117.5,309.2 L116.8,309.8 L116.1,310.2 L115.4,310.6 L114.7,311.2 L114,312.2 L113.3,312.2 L112.6,313 L111.9,314.9 L111.2,314 L110.5,314.4 L109.8,315.5 L109.1,315.4 L108.4,316.1 L107.7,316.5 L107,318.4 L106.3,318.2 L105.6,318.2 L104.9,318.8 L104.2,320.5 L103.5,319.9 L102.8,321 L102.1,322.7 L101.4,321.6 L100.7,322.8 L100,323 L99.3,323.6 L98.6,325.2 L97.9,324.5 L97.2,326.6 L96.5,326.9 L95.8,326.7 L95.1,327.2 L94.4,326.9 L93.7,327.9 L93,328.2 L92.3,324.7 L91.6,320.8 L90.9,317.4 L90.2,313.9 L89.5,313.9 L88.8,314 L88.1,313.4 L87.4,313.1 L86.7,314.3 L86,313.7 L85.3,313.9 L84.6,315.2 L83.9,314.6 L83.2,315.3 L82.5,314.8 L81.8,315.6 L81.1,315.4 L80.4,315.7 L79.7,316.5 L79,317Z" fill="#93b6df" fill-opacity="0.92"/>
<path d="M93,328 L93.7,327.2 L94.4,326.3 L95.1,325.4 L95.8,325.7 L96.5,324.8 L97.2,324.5 L97.9,323.8 L98.6,323 L99.3,322.9 L100,322.1 L100.7,321.8 L101.4,321.2 L102.1,320.1 L102.8,319.9 L103.5,319.4 L104.2,318 L104.9,318.1 L105.6,317.4 L106.3,316.6 L107,316.3 L107.7,315.8 L108.4,315.5 L109.1,315.2 L109.8,313.9 L110.5,314 L111.2,313.1 L111.9,312.6 L112.6,312.1 L113.3,311.6 L114,310.8 L114.7,310.5 L115.4,310 L116.1,309.3 L116.8,309.1 L117.5,309 L118.2,308.8 L118.9,308.2 L119.6,307.9 L120.3,309 L121,308.7 L121.7,308.2 L122.4,308.1 L123.1,308.5 L123.8,309.2 L124.5,309.1 L125.2,308.3 L125.9,309.4 L126.6,309.1 L127.3,309.4 L128,309.5 L128.7,309 L129.4,309.6 L130.1,309.3 L130.8,309.5 L131.5,309.1 L132.2,309.7 L132.9,309.3 L133.6,309.7 L134.3,309.2 L135,309.9 L135.7,309.3 L136.4,310 L137.1,309.7 L137.8,309.6 L138.5,310 L139.2,309.9 L139.9,310 L140.6,309.4 L141.3,309.5 L142,309.4 L142.7,309.9 L143.4,309.9 L144.1,309.9 L144.8,309.1 L145.5,309.8 L146.2,310 L146.9,310 L147.6,309.8 L148.3,310.2 L149,310.1 L149.7,308.9 L150.4,310.3 L151.1,310.2 L151.8,309.6 L152.5,310.1 L153.2,310 L153.9,310.5 L154.6,310.5 L155.3,310.5 L156,310.4 L156.7,310.2 L157.4,310.1 L158.1,310.3 L158.8,310.4 L159.5,309.9 L160.2,310 L160.9,310.6 L161.6,310.2 L162.3,310.2 L163,310.4 L163.7,310.7 L164.4,309.7 L165.1,310.7 L165.8,310.3 L166.5,310.8 L167.2,310.8 L167.9,310.7 L168.6,310.3 L169.3,310.4 L170,309.9 L170.7,310.1 L171.4,308.9 L172.1,307.9 L172.8,306.5 L173.5,305.9 L174.2,305.4 L174.9,304.2 L175.6,302.5 L176.3,302.9 L177,301.7 L177.7,301.1 L178.4,301.8 L179.1,302 L179.8,301.4 L180.5,301.2 L181.2,301.6 L181.9,301.5 L182.6,300.7 L183.3,301.6 L184,301.8 L184.7,301.7 L185.4,301.9 L186.1,301.8 L186.8,301.7 L187.5,301.9 L188.2,301.5 L188.9,301.5 L189.6,301.8 L190.3,300.8 L191,301.6 L191.7,301.8 L192.4,301.9 L193.1,300.9 L193.8,301.7 L194.5,301.7 L195.2,301.4 L195.9,300.7 L196.6,301.9 L197.3,301.4 L198,301.6 L198.7,301.2 L199.4,301.6 L200.1,301.3 L200.8,301.3 L201.5,301.8 L202.2,301.6 L202.9,300.7 L203.6,301.5 L204.3,301.8 L205,301.9 L205.7,301.7 L206.4,301.7 L207.1,301 L207.8,301.8 L208.5,300.5 L209.2,300.7 L209.9,301.6 L210.6,301.6 L211.3,301.8 L212,301.2 L212.7,301.7 L213.4,301.6 L214.1,301.5 L214.8,301.7 L215.5,301.5 L216.2,301.7 L216.9,301.9 L217.6,301.9 L218.3,300.3 L219,301.7 L219.7,301.7 L220.4,301.2 L221.1,301.3 L221.8,301.1 L222.5,301.9 L223.2,301.7 L223.9,301.6 L224.6,301.7 L225.3,301.7 L226,301.3 L226.7,301.7 L227.4,301.5 L228.1,300.8 L228.8,300.5 L229.5,301.8 L230.2,301.4 L230.9,301.9 L231.6,301.1 L232.3,301.6 L233,301.1 L233.7,300.8 L234.4,301.2 L235.1,301.6 L235.8,301.3 L236.5,301.6 L237.2,301.2 L237.9,301.9 L238.6,301.7 L239.3,301.4 L240,301.5 L240.7,301.6 L241.4,301.4 L242.1,301 L242.8,301.5 L243.5,301.4 L244.2,301.4 L244.9,301.2 L245.6,301.2 L245.6,305 L244.9,305.5 L244.2,305 L243.5,305.4 L242.8,305.8 L242.1,305.8 L241.4,306.1 L240.7,305.4 L240,306.2 L239.3,305.7 L238.6,305.3 L237.9,305.1 L237.2,306 L236.5,305.3 L235.8,305.5 L235.1,305.7 L234.4,305.8 L233.7,305.7 L233,305 L232.3,306 L231.6,305.1 L230.9,305.8 L230.2,305.9 L229.5,305.3 L228.8,305.2 L228.1,305.2 L227.4,305.4 L226.7,305.4 L226,305.6 L225.3,305.3 L224.6,305.2 L223.9,305.6 L223.2,305 L222.5,305.8 L221.8,305.3 L221.1,305.7 L220.4,306.2 L219.7,305.9 L219,306.2 L218.3,305.7 L217.6,305.3 L216.9,305.1 L216.2,305.1 L215.5,305.1 L214.8,305.7 L214.1,305.9 L213.4,306.4 L212.7,305.4 L212,305.7 L211.3,306.4 L210.6,305.3 L209.9,305.3 L209.2,305.1 L208.5,305.7 L207.8,305.2 L207.1,306.1 L206.4,305.8 L205.7,305.7 L205,305.1 L204.3,305.4 L203.6,305.4 L202.9,305 L202.2,305.7 L201.5,305.4 L200.8,305.6 L200.1,305.5 L199.4,306.3 L198.7,305.8 L198,305.9 L197.3,305.6 L196.6,306.6 L195.9,305.6 L195.2,305.4 L194.5,305.1 L193.8,306 L193.1,305.4 L192.4,305 L191.7,305.4 L191,305.8 L190.3,305.8 L189.6,305.2 L188.9,305.3 L188.2,305.3 L187.5,305.3 L186.8,305.2 L186.1,305.3 L185.4,305.6 L184.7,305.1 L184,305.8 L183.3,306.1 L182.6,305.3 L181.9,306.2 L181.2,305.7 L180.5,305.1 L179.8,305.8 L179.1,306.2 L178.4,305 L177.7,305.1 L177,305.7 L176.3,306 L175.6,307.1 L174.9,307.7 L174.2,308.9 L173.5,310.6 L172.8,310.9 L172.1,312.4 L171.4,312.5 L170.7,313.3 L170,314.5 L169.3,314.5 L168.6,314.6 L167.9,314.1 L167.2,314.7 L166.5,314.5 L165.8,314.2 L165.1,314.2 L164.4,314.1 L163.7,314.7 L163,314.4 L162.3,314.6 L161.6,314.4 L160.9,314 L160.2,314.1 L159.5,314.7 L158.8,314.5 L158.1,314.3 L157.4,314.5 L156.7,315 L156,314.2 L155.3,314 L154.6,314 L153.9,315.4 L153.2,314.6 L152.5,314.1 L151.8,314.2 L151.1,314.2 L150.4,314.2 L149.7,314.3 L149,314.1 L148.3,315.3 L147.6,314.8 L146.9,314.7 L146.2,314.8 L145.5,314.8 L144.8,314.8 L144.1,315.2 L143.4,314 L142.7,315 L142,314.5 L141.3,314 L140.6,314.3 L139.9,314.2 L139.2,315.2 L138.5,314.4 L137.8,314.1 L137.1,314.6 L136.4,315.2 L135.7,314.1 L135,314.5 L134.3,313.9 L133.6,314.4 L132.9,314.3 L132.2,315.8 L131.5,313.9 L130.8,314 L130.1,313.8 L129.4,313.8 L128.7,313.7 L128,313.8 L127.3,314.1 L126.6,313.6 L125.9,313.5 L125.2,314.4 L124.5,313.5 L123.8,313.7 L123.1,314.1 L122.4,314 L121.7,313.5 L121,313.3 L120.3,314.7 L119.6,314 L118.9,313.3 L118.2,313.7 L117.5,313.6 L116.8,314 L116.1,313.8 L115.4,314.4 L114.7,315.4 L114,316 L113.3,316.1 L112.6,316.5 L111.9,316.8 L111.2,317.4 L110.5,318.6 L109.8,318.6 L109.1,319.1 L108.4,319.9 L107.7,320.3 L107,320.5 L106.3,321.8 L105.6,322 L104.9,322.2 L104.2,323.1 L103.5,323.2 L102.8,323.7 L102.1,324.7 L101.4,324.9 L100.7,326.4 L100,326.5 L99.3,326.6 L98.6,327.8 L97.9,328.7 L97.2,328.1 L96.5,328.5 L95.8,329.3 L95.1,330 L94.4,330.2 L93.7,330.7 L93,331.3Z" fill="#d9c9a4" fill-opacity="0.8"/>
<path d="M78.5,309 L84,300 L90,292 L93,298.5 L111.8,260 L115.5,264.5 L124.5,277 L137,285.5" fill="none" stroke="#1f6db5" stroke-width="2.2" stroke-linejoin="round"/>
<path d="M78.5,312 L84,304 L90,296 L93,302 L111.8,266 L115.5,270" fill="none" stroke="#7aa7d8" stroke-width="1.2" stroke-linejoin="round"/>
<path d="M78,325.9 L78.7,325.2 L79.4,325.2 L80.1,324.9 L80.8,323.7 L81.5,324.6 L82.2,325.6 L82.9,325.9 L83.6,325.3 L84.3,326.4 L85,325.4 L85.7,323.7 L86.4,322.2 L87.1,323.9 L87.8,325.3 L88.5,326.5 L89.2,327.8 L89.9,326.6 L90.6,326.2 L91.3,324.8 L92,325 L92.7,328 L93.4,331.3 L94.1,332.5 L94.8,331.8 L95.5,329.8 L96.2,329 L96.9,329.6 L97.6,330 L98.3,329.6 L99,329.2 L99.7,328.5 L100.4,327.8 L101.1,328.4 L101.8,329.5 L102.5,330.6 L103.2,329.2 L103.9,330.2 L104.6,330.8 L105.3,330.3 L106,329.9 L106.7,330.4 L107.4,330.8 L108.1,330.3 L108.8,329.9 L109.5,330 L110.2,329.4 L110.9,329.5 L111.6,328.7 L112.3,329.8 L113,330.2 L113.7,330.4 L114.4,329.6 L115.1,330.3 L115.8,329.5 L116.5,328.8 L117.2,327.7 L117.9,327.5 L118.6,328.9 L119.3,329.7 L120,329.7 L120.7,330.6 L121.4,329.9 L122.1,329.7 L122.8,329.4 L123.5,329.3 L124.2,329.1 L124.9,330.2 L125.6,330.3 L126.3,330.5 L127,330 L127.7,330.2 L128.4,329.6 L129.1,330.1 L129.8,328.9 L130.5,327 L131.2,326 L131.9,327.3 L132.6,328.5 L133.3,329.3 L134,330.4 L134.7,330.4 L135.4,330.4 L136.1,330 L136.8,329.3 L137.5,329.9 L138.2,330.1 L138.9,330.9 L139.6,330.3 L140.3,329.9 L141,330.1 L141.7,329.4 L142.4,329.3 L143.1,329.7 L143.8,328.9 L144.5,329.7 L145.2,330 L145.9,329.9 L146.6,329.3 L147.3,330 L148,330 L148.7,330.2 L149.4,328.5 L150.1,327.4 L150.8,326.2 L151.5,327.6 L152.2,328.6 L152.9,329.7 L153.6,330.2 L154.3,329.1 L155,330.7 L155.7,330.5 L156.4,329.9 L157.1,330.3 L157.8,329.8 L158.5,329.4 L159.2,329.3 L159.9,328.7 L160.6,327.7 L161.3,327.1 L162,325.8 L162.7,327.6 L163.4,328.6 L164.1,329.8 L164.8,330.1 L165.5,329.6 L166.2,329.7 L166.9,328.7 L167.6,329 L168.3,330.6 L169,328.9 L169.7,327 L170.4,325.5 L171.1,327.7 L171.8,329.7 L172.5,329.3 L173.2,327.6 L173.9,328.1 L174.6,328.6 L175.3,329.2 L176,329.4 L176.7,330.5 L177.4,329.9 L178.1,330.1 L178.8,328.8 L179.5,328.5 L180.2,327.4 L180.9,326.8 L181.6,325.6 L182.3,327.6 L183,329.2 L183.7,330.5 L184.4,328.6 L185.1,327.6 L185.8,327.3 L186.5,326.4 L187.2,325.6 L187.9,326.9 L188.6,329.1 L189.3,329.7 L190,329.2 L190.7,330 L191.4,330.7 L192.1,330.2 L192.8,329.6 L193.5,329.9 L194.2,329.8 L194.9,330 L195.6,329 L196.3,329.8 L197,330.6 L197.7,329.3 L198.4,329.4 L199.1,329.9 L199.8,330.2 L200.5,330.3 L201.2,330.5 L201.9,329.4 L202.6,330.1 L203.3,330 L204,330.3 L204.7,330.6 L205.4,330.3 L206.1,330.1 L206.8,330 L207.5,330.2 L208.2,329.9 L208.9,327.7 L209.6,327.7 L210.3,327.9 L211,327.5 L211.7,327.7 L212.4,327.7 L213.1,328.4 L213.8,329.3 L214.5,330.1 L215.2,329.6 L215.9,330.5 L216.6,330 L217.3,329.9 L218,329.5 L218.7,330.1 L219.4,330.5 L220.1,329.4 L220.8,328.7 L221.5,329 L222.2,329.5 L222.9,329.6 L223.6,329.8 L224.3,330.5 L225,329.6 L225.7,329.4 L226.4,328.6 L227.1,329 L227.8,328.8 L228.5,329.7 L229.2,329.9 L229.9,330.7 L230.6,330.2 L231.3,329.1 L232,328.7 L232.7,328.7 L233.4,329.9 L234.1,329.7 L234.8,330.1 L235.5,330.6 L236.2,330.4 L236.9,330.2 L237.6,330 L238.3,330.5 L239,330.8 L239.7,330.8 L240.4,330.4 L241.1,330.3 L241.8,330 L242.5,330.7 L243.2,330.5 L243.9,330.9 L244.6,330.2 L245.3,330.9 L246,330.7 L246,339.4 L245.3,338.8 L244.6,338.3 L243.9,337.1 L243.2,337.9 L242.5,337.6 L241.8,339.3 L241.1,339.7 L240.4,340.5 L239.7,340.8 L239,340.1 L238.3,340.5 L237.6,339.6 L236.9,339.4 L236.2,339.9 L235.5,339.5 L234.8,339.5 L234.1,338.9 L233.4,339.3 L232.7,339.2 L232,339.5 L231.3,337.9 L230.6,337.7 L229.9,339.1 L229.2,340 L228.5,340 L227.8,340 L227.1,339.9 L226.4,339.8 L225.7,340.7 L225,341.4 L224.3,342 L223.6,342.7 L222.9,341.7 L222.2,341.1 L221.5,339.3 L220.8,337.7 L220.1,337.8 L219.4,338.1 L218.7,338.2 L218,338.4 L217.3,337.8 L216.6,337.5 L215.9,337.8 L215.2,337.9 L214.5,337.7 L213.8,338.1 L213.1,337.7 L212.4,337.7 L211.7,338.1 L211,338.9 L210.3,339.1 L209.6,339.6 L208.9,339.8 L208.2,339.2 L207.5,339.2 L206.8,338.7 L206.1,339.8 L205.4,341.2 L204.7,341.2 L204,342.4 L203.3,340.7 L202.6,339.9 L201.9,339.4 L201.2,337.8 L200.5,337.2 L199.8,338.1 L199.1,339.2 L198.4,339.7 L197.7,339.4 L197,339.9 L196.3,340.1 L195.6,339.5 L194.9,340.1 L194.2,340.2 L193.5,340.5 L192.8,340.6 L192.1,339.7 L191.4,338.5 L190.7,337.2 L190,338.3 L189.3,337.5 L188.6,337.2 L187.9,338.1 L187.2,338.5 L186.5,338.1 L185.8,338.3 L185.1,337.9 L184.4,337.7 L183.7,338 L183,338.9 L182.3,339.2 L181.6,340 L180.9,339.6 L180.2,339 L179.5,338.4 L178.8,337.7 L178.1,337.8 L177.4,337.7 L176.7,337.5 L176,337.5 L175.3,339.3 L174.6,340.7 L173.9,342.3 L173.2,344 L172.5,343.3 L171.8,342.6 L171.1,341.1 L170.4,340.3 L169.7,339 L169,338.9 L168.3,337.9 L167.6,337.8 L166.9,337.8 L166.2,338.4 L165.5,338.2 L164.8,338.3 L164.1,338.5 L163.4,338.4 L162.7,338.4 L162,338.6 L161.3,337.9 L160.6,337.7 L159.9,337.2 L159.2,337.7 L158.5,338.1 L157.8,338.6 L157.1,337.8 L156.4,338.5 L155.7,338.2 L155,338.3 L154.3,338.7 L153.6,339 L152.9,338 L152.2,339.1 L151.5,339.9 L150.8,341.8 L150.1,339.5 L149.4,337.9 L148.7,338.1 L148,340.5 L147.3,340.3 L146.6,340.3 L145.9,340.9 L145.2,340.4 L144.5,340.6 L143.8,340.6 L143.1,341.3 L142.4,341.1 L141.7,339.6 L141,338.8 L140.3,337.4 L139.6,338.2 L138.9,338.9 L138.2,338.5 L137.5,339.1 L136.8,338.8 L136.1,339 L135.4,338.7 L134.7,338.9 L134,338.6 L133.3,339.2 L132.6,340.5 L131.9,341.5 L131.2,343.3 L130.5,339.9 L129.8,338.4 L129.1,339 L128.4,341.7 L127.7,340.4 L127,338.5 L126.3,337.3 L125.6,338.3 L124.9,338.7 L124.2,339.1 L123.5,339.1 L122.8,339.7 L122.1,339.8 L121.4,340.3 L120.7,339.9 L120,340.2 L119.3,339 L118.6,338.4 L117.9,337.6 L117.2,338 L116.5,338.6 L115.8,339.8 L115.1,340.4 L114.4,341.4 L113.7,339.5 L113,338.2 L112.3,337.4 L111.6,339.3 L110.9,338.5 L110.2,337.3 L109.5,338.5 L108.8,338.6 L108.1,338.5 L107.4,338.8 L106.7,339.3 L106,339.3 L105.3,337.6 L104.6,338.4 L103.9,340.7 L103.2,342 L102.5,341.5 L101.8,341.7 L101.1,341.4 L100.4,340.9 L99.7,340.6 L99,339.7 L98.3,339.5 L97.6,338.4 L96.9,340 L96.2,340.2 L95.5,341.2 L94.8,342.3 L94.1,341.1 L93.4,339.8 L92.7,338 L92,336.6 L91.3,334.8 L90.6,334.3 L89.9,332.8 L89.2,332.6 L88.5,333.2 L87.8,332.7 L87.1,332.5 L86.4,332.5 L85.7,332.8 L85,333 L84.3,333.1 L83.6,333.6 L82.9,331.6 L82.2,330.2 L81.5,331.3 L80.8,333.6 L80.1,332.4 L79.4,332.1 L78.7,331.9 L78,332.5Z" fill="#4a4a4a"/>
<path d="M78,335.7 L78.7,335.4 L79.4,334.8 L80.1,334.6 L80.8,334.7 L81.5,335.1 L82.2,335.1 L82.9,334.1 L83.6,335 L84.3,335.4 L85,335.6 L85.7,335.9 L86.4,335.6 L87.1,336.6 L87.8,336.8 L88.5,337.1 L89.2,337 L89.9,337.8 L90.6,337.5 L91.3,338.1 L92,338.4 L92.7,339.3 L93.4,340.2 L94.1,341.2 L94.8,342.3 L95.5,342.8 L96.2,343.3 L96.9,343.8 L97.6,343.7 L98.3,343.7 L99,344 L99.7,344 L100.4,343.3 L101.1,343.6 L101.8,343.6 L102.5,342.2 L103.2,343.4 L103.9,344 L104.6,343.5 L105.3,342.7 L106,343.4 L106.7,342.9 L107.4,343.8 L108.1,343 L108.8,343.7 L109.5,343.9 L110.2,342.9 L110.9,343.9 L111.6,343.4 L112.3,343.6 L113,342.6 L113.7,343.9 L114.4,343.3 L115.1,343.9 L115.8,343.6 L116.5,343.6 L117.2,343.8 L117.9,343.1 L118.6,343.4 L119.3,343.5 L120,343.4 L120.7,343.5 L121.4,343.9 L122.1,343.7 L122.8,342.9 L123.5,343.2 L124.2,343 L124.9,343.8 L125.6,343.4 L126.3,343.4 L127,343.7 L127.7,343.2 L128.4,343.4 L129.1,343.4 L129.8,343.6 L130.5,343.7 L131.2,343.2 L131.9,342.6 L132.6,343.2 L133.3,343.1 L134,343.2 L134.7,342.8 L135.4,343.4 L136.1,343.5 L136.8,342.9 L137.5,343.3 L138.2,343.7 L138.9,343.7 L139.6,342.9 L140.3,343.4 L141,343.6 L141.7,343.5 L142.4,343.2 L143.1,343.7 L143.8,342.9 L144.5,343.4 L145.2,343.5 L145.9,343.7 L146.6,342.8 L147.3,342.9 L148,343.7 L148.7,343.8 L149.4,343.2 L150.1,343.6 L150.8,343.2 L151.5,343.1 L152.2,343.5 L152.9,343.4 L153.6,343.5 L154.3,343.7 L155,343.3 L155.7,343.5 L156.4,343.8 L157.1,343.6 L157.8,343.6 L158.5,343.3 L159.2,342.1 L159.9,342.9 L160.6,343.6 L161.3,343.6 L162,343 L162.7,343.3 L163.4,343.6 L164.1,342.8 L164.8,343.1 L165.5,343.3 L166.2,343 L166.9,343.7 L167.6,342.5 L168.3,343.6 L169,343.6 L169.7,343.3 L170.4,343.5 L171.1,343.6 L171.8,342.9 L172.5,343.3 L173.2,343.5 L173.9,343.4 L174.6,343.1 L175.3,343.6 L176,343.3 L176.7,343.5 L177.4,342.8 L178.1,343.3 L178.8,343.1 L179.5,343.2 L180.2,342.6 L180.9,342.4 L181.6,343.1 L182.3,343.6 L183,343.7 L183.7,343.7 L184.4,343.6 L185.1,343.3 L185.8,343.3 L186.5,343 L187.2,343.1 L187.9,342.9 L188.6,343.2 L189.3,342.9 L190,343.5 L190.7,343.4 L191.4,342.6 L192.1,343.4 L192.8,343.1 L193.5,343.2 L194.2,343.3 L194.9,342.5 L195.6,343.4 L196.3,342.6 L197,343.3 L197.7,343.7 L198.4,342.8 L199.1,343.6 L199.8,343.6 L200.5,342.9 L201.2,343.4 L201.9,343.4 L202.6,342.7 L203.3,342.2 L204,342.6 L204.7,343.1 L205.4,342.5 L206.1,342.6 L206.8,343 L207.5,343.3 L208.2,343 L208.9,343.6 L209.6,343.3 L210.3,343.2 L211,342.2 L211.7,343.5 L212.4,343.4 L213.1,343.4 L213.8,343.4 L214.5,342.8 L215.2,343.6 L215.9,343 L216.6,342.6 L217.3,342.7 L218,342.8 L218.7,343.2 L219.4,342.3 L220.1,341.7 L220.8,343.4 L221.5,343.4 L222.2,343 L222.9,342.7 L223.6,342.8 L224.3,343 L225,343 L225.7,342.8 L226.4,343.4 L227.1,343.5 L227.8,342 L228.5,343.3 L229.2,343.3 L229.9,343.3 L230.6,342.4 L231.3,343.1 L232,343 L232.7,342.3 L233.4,341.9 L234.1,343.5 L234.8,343.5 L235.5,343.5 L236.2,343 L236.9,343.2 L237.6,343.4 L238.3,343.4 L239,343.4 L239.7,343.4 L240.4,343.2 L241.1,343.4 L241.8,342.5 L242.5,343.3 L243.2,343 L243.9,343.4 L244.6,343 L245.3,343.4 L246,342.8 L246,348.8 L245.3,348.7 L244.6,348.7 L243.9,349.1 L243.2,349.7 L242.5,348.8 L241.8,349.2 L241.1,349.3 L240.4,348.8 L239.7,349.4 L239,348.7 L238.3,349 L237.6,348.5 L236.9,348.6 L236.2,349 L235.5,348.5 L234.8,349.4 L234.1,348.7 L233.4,349 L232.7,348.8 L232,348.6 L231.3,348.7 L230.6,348.6 L229.9,349.5 L229.2,348.6 L228.5,349.1 L227.8,348.6 L227.1,348.5 L226.4,348.7 L225.7,348.6 L225,348.6 L224.3,349.2 L223.6,349.3 L222.9,349.2 L222.2,349.1 L221.5,349.4 L220.8,348.6 L220.1,348.9 L219.4,348.5 L218.7,348.8 L218,348.7 L217.3,348.9 L216.6,348.8 L215.9,349 L215.2,349.2 L214.5,349.4 L213.8,348.8 L213.1,349.8 L212.4,348.8 L211.7,348.8 L211,349.4 L210.3,349.5 L209.6,348.5 L208.9,348.8 L208.2,349 L207.5,348.6 L206.8,349.4 L206.1,349.2 L205.4,348.5 L204.7,348.5 L204,348.6 L203.3,348.7 L202.6,349.1 L201.9,348.7 L201.2,348.6 L200.5,349.2 L199.8,348.7 L199.1,348.5 L198.4,349.4 L197.7,348.8 L197,348.9 L196.3,349.1 L195.6,348.7 L194.9,348.7 L194.2,349.5 L193.5,349.1 L192.8,348.9 L192.1,348.5 L191.4,348.9 L190.7,349.2 L190,349.1 L189.3,349.5 L188.6,348.6 L187.9,348.8 L187.2,349 L186.5,350 L185.8,349 L185.1,348.8 L184.4,348.7 L183.7,348.5 L183,348.6 L182.3,348.7 L181.6,348.7 L180.9,348.7 L180.2,349.5 L179.5,348.6 L178.8,348.9 L178.1,349.5 L177.4,348.5 L176.7,349.5 L176,348.8 L175.3,348.9 L174.6,349.3 L173.9,348.6 L173.2,348.9 L172.5,349.4 L171.8,349 L171.1,348.5 L170.4,348.7 L169.7,349.3 L169,349.7 L168.3,349.2 L167.6,349 L166.9,348.9 L166.2,348.7 L165.5,348.8 L164.8,349.1 L164.1,348.8 L163.4,348.6 L162.7,349.2 L162,349.9 L161.3,349 L160.6,349.3 L159.9,348.8 L159.2,349.7 L158.5,348.9 L157.8,349 L157.1,349.3 L156.4,349.3 L155.7,348.9 L155,348.8 L154.3,349.3 L153.6,348.8 L152.9,349.1 L152.2,348.9 L151.5,348.6 L150.8,348.8 L150.1,348.5 L149.4,348.7 L148.7,348.8 L148,348.7 L147.3,348.8 L146.6,348.5 L145.9,348.6 L145.2,348.6 L144.5,349.1 L143.8,349.1 L143.1,348.6 L142.4,348.6 L141.7,348.9 L141,348.6 L140.3,348.6 L139.6,348.9 L138.9,349.4 L138.2,349.1 L137.5,348.9 L136.8,349.6 L136.1,349.5 L135.4,348.9 L134.7,349.2 L134,348.9 L133.3,349.3 L132.6,349.2 L131.9,348.8 L131.2,349 L130.5,348.7 L129.8,348.7 L129.1,349.2 L128.4,348.8 L127.7,348.5 L127,349.6 L126.3,348.9 L125.6,349.9 L124.9,348.7 L124.2,349.6 L123.5,349.1 L122.8,348.7 L122.1,348.6 L121.4,348.6 L120.7,349.9 L120,348.9 L119.3,348.8 L118.6,348.8 L117.9,349.8 L117.2,349 L116.5,348.9 L115.8,348.5 L115.1,349.2 L114.4,349.1 L113.7,349.1 L113,348.9 L112.3,348.9 L111.6,349.1 L110.9,348.6 L110.2,348.6 L109.5,349 L108.8,348.6 L108.1,348.7 L107.4,349.2 L106.7,348.9 L106,349.6 L105.3,348.7 L104.6,348.6 L103.9,349.1 L103.2,348.7 L102.5,350.3 L101.8,348.9 L101.1,348.9 L100.4,349.6 L99.7,348.6 L99,348.6 L98.3,349.7 L97.6,348.5 L96.9,348.9 L96.2,349.1 L95.5,348.2 L94.8,346.7 L94.1,345.7 L93.4,344.4 L92.7,344.7 L92,342.7 L91.3,342.1 L90.6,342.5 L89.9,342 L89.2,341.2 L88.5,341 L87.8,340.6 L87.1,340.7 L86.4,340.4 L85.7,340 L85,340.1 L84.3,339.4 L83.6,339.4 L82.9,338.7 L82.2,339.2 L81.5,339.7 L80.8,339.5 L80.1,339 L79.4,338.9 L78.7,339 L78,340.1Z" fill="#c0232a"/>
<rect x="110.5" y="262" width="0.9" height="88" fill="#fff" fill-opacity="0.75"/>
<rect x="127.5" y="262" width="0.9" height="88" fill="#fff" fill-opacity="0.75"/>
<rect x="175.6" y="262" width="0.9" height="88" fill="#fff" fill-opacity="0.75"/>
<rect x="220.5" y="262" width="0.9" height="88" fill="#fff" fill-opacity="0.75"/>
<path d="M69.4,383.5 L69.4,504.5 L241.5,504.5" fill="none" stroke="#555" stroke-width="0.9" stroke-linejoin="round"/>
<text x="63.5" y="388.3" font-family='"Liberation Serif",serif' font-size="11" text-anchor="end" font-weight="normal" fill="#222">1.2</text>
<path d="M69.4,384.8 L71.4,384.8" fill="none" stroke="#555" stroke-width="0.8" stroke-linejoin="round"/>
<text x="63.5" y="408.3" font-family='"Liberation Serif",serif' font-size="11" text-anchor="end" font-weight="normal" fill="#222">1</text>
<path d="M69.4,404.8 L71.4,404.8" fill="none" stroke="#555" stroke-width="0.8" stroke-linejoin="round"/>
<text x="63.5" y="428.3" font-family='"Liberation Serif",serif' font-size="11" text-anchor="end" font-weight="normal" fill="#222">0.8</text>
<path d="M69.4,424.8 L71.4,424.8" fill="none" stroke="#555" stroke-width="0.8" stroke-linejoin="round"/>
<text x="63.5" y="448.3" font-family='"Liberation Serif",serif' font-size="11" text-anchor="end" font-weight="normal" fill="#222">0.6</text>
<path d="M69.4,444.8 L71.4,444.8" fill="none" stroke="#555" stroke-width="0.8" stroke-linejoin="round"/>
<text x="63.5" y="468.3" font-family='"Liberation Serif",serif' font-size="11" text-anchor="end" font-weight="normal" fill="#222">0.4</text>
<path d="M69.4,464.8 L71.4,464.8" fill="none" stroke="#555" stroke-width="0.8" stroke-linejoin="round"/>
<text x="63.5" y="488.3" font-family='"Liberation Serif",serif' font-size="11" text-anchor="end" font-weight="normal" fill="#222">0.2</text>
<path d="M69.4,484.8 L71.4,484.8" fill="none" stroke="#555" stroke-width="0.8" stroke-linejoin="round"/>
<text x="70.2" y="516" font-family='"Liberation Serif",serif' font-size="11" text-anchor="middle" font-weight="normal" fill="#222">0</text>
<text x="104.4" y="516" font-family='"Liberation Serif",serif' font-size="11" text-anchor="middle" font-weight="normal" fill="#222">2</text>
<path d="M104.4,504.5 L104.4,502.5" fill="none" stroke="#555" stroke-width="0.8" stroke-linejoin="round"/>
<text x="138.5" y="516" font-family='"Liberation Serif",serif' font-size="11" text-anchor="middle" font-weight="normal" fill="#222">4</text>
<path d="M138.5,504.5 L138.5,502.5" fill="none" stroke="#555" stroke-width="0.8" stroke-linejoin="round"/>
<text x="172.7" y="516" font-family='"Liberation Serif",serif' font-size="11" text-anchor="middle" font-weight="normal" fill="#222">6</text>
<path d="M172.7,504.5 L172.7,502.5" fill="none" stroke="#555" stroke-width="0.8" stroke-linejoin="round"/>
<text x="206.8" y="516" font-family='"Liberation Serif",serif' font-size="11" text-anchor="middle" font-weight="normal" fill="#222">8</text>
<path d="M206.8,504.5 L206.8,502.5" fill="none" stroke="#555" stroke-width="0.8" stroke-linejoin="round"/>
<text x="241" y="516" font-family='"Liberation Serif",serif' font-size="11" text-anchor="middle" font-weight="normal" fill="#222">10</text>
<path d="M241,504.5 L241,502.5" fill="none" stroke="#555" stroke-width="0.8" stroke-linejoin="round"/>
<text x="155" y="522" font-family='"Liberation Serif",serif' font-size="8.5" text-anchor="middle" font-weight="normal" fill="#222"><tspan font-style="italic">t</tspan>/s</text>
<text x="154.6" y="535.3" font-family='"Liberation Serif",serif' font-size="15.6" text-anchor="middle" font-weight="bold" fill="#111">Voltage</text>
<path d="M70,403.5 L76.6,404" fill="none" stroke="#8a8a8a" stroke-width="1.6" stroke-linejoin="round"/>
<path d="M77.3,404 L77.3,490" fill="none" stroke="#b0b0b0" stroke-width="0.8" stroke-linejoin="round"/>
<path d="M93.2,416.4 L93.9,415.3 L94.6,414 L95.3,413.2 L96,411.7 L96.7,410.7 L97.4,409.1 L98.1,408.7 L98.8,406.3 L99.5,406 L100.2,405.1 L100.9,403.8 L101.6,402.7 L102.3,401.1 L103,399.6 L103.7,398.6 L104.4,397.4 L105.1,396.5 L105.8,394.1 L106.5,394.1 L107.2,393.2 L107.9,392.2 L108.6,391 L109.3,389.6 L110,388.2 L110.7,389.3 L111.4,389.7 L112.1,390.2 L112.8,390.6 L113.5,391.6 L114.2,391.8 L114.9,391.9 L115.6,392.9 L116.3,393.3 L117,393.7 L117.7,393.6 L118.4,394.1 L119.1,394.2 L119.8,394.6 L120.5,395.3 L121.2,394.8 L121.9,395.6 L122.6,396.2 L123.3,396.2 L124,395.7 L124.7,397.1 L125.4,397.5 L126.1,397.8 L126.8,397.5 L127.5,398.2 L128.2,398 L128.9,398 L129.6,397.8 L130.3,398.8 L131,398.3 L131.7,399.2 L132.4,399.3 L133.1,399.1 L133.8,399.2 L134.5,399.6 L135.2,398.7 L135.9,400.1 L136.6,400.3 L137.3,400.1 L138,400.3 L138.7,400.5 L139.4,400 L140.1,400.8 L140.8,401 L141.5,401 L142.2,401.4 L142.9,401.5 L143.6,401.6 L144.3,401.4 L145,401.5 L145.7,402.1 L146.4,402.4 L147.1,401.6 L147.8,402.4 L148.5,402.3 L149.2,402.3 L149.9,402.5 L150.6,402.9 L151.3,403.5 L152,403.7 L152.7,403.6 L153.4,403.6 L154.1,403.4 L154.8,403.6 L155.5,404.1 L156.2,404.4 L156.9,404.3 L157.6,404.4 L158.3,404.2 L159,405.3 L159.7,405.4 L160.4,404.7 L161.1,404.9 L161.8,405 L162.5,405.4 L163.2,405.6 L163.9,405 L164.6,405.9 L165.3,405.7 L166,405.9 L166.7,405.5 L167.4,405.1 L168.1,405.8 L168.8,406.1 L169.5,405.9 L170.2,406 L170.9,406 L171.6,406.1 L172.3,405.4 L173,404.2 L173.7,403 L174.4,401.3 L175.1,400.2 L175.8,398.5 L176.5,397.1 L177.2,396.9 L177.9,397.4 L178.6,397.4 L179.3,397.3 L180,397.2 L180.7,397.2 L181.4,397.4 L182.1,397.3 L182.8,397.4 L183.5,397.1 L184.2,396.9 L184.9,397 L185.6,397.3 L186.3,397.1 L187,396.9 L187.7,397.3 L188.4,397.3 L189.1,397.2 L189.8,396.8 L190.5,396.7 L191.2,397.2 L191.9,396.7 L192.6,397 L193.3,396.6 L194,396.9 L194.7,396.7 L195.4,396.8 L196.1,397.2 L196.8,397.2 L197.5,396.8 L198.2,397.1 L198.9,396 L199.6,396.5 L200.3,396.9 L201,397 L201.7,396.8 L202.4,396.5 L203.1,397.2 L203.8,397.2 L204.5,397.2 L205.2,396.8 L205.9,397.1 L206.6,396.5 L207.3,396.9 L208,396.7 L208.7,397.1 L209.4,397.1 L210.1,397 L210.8,396.9 L211.5,396.9 L212.2,397.1 L212.9,396.6 L213.6,397 L214.3,396.6 L215,396.9 L215.7,396.6 L216.4,397.1 L217.1,396.6 L217.8,396.5 L218.5,396.7 L219.2,397.1 L219.9,396.7 L220.6,396.1 L221.3,397.1 L222,396.8 L222.7,396.7 L223.4,396.7 L224.1,396.9 L224.8,396.9 L225.5,397.1 L226.2,397 L226.9,397 L227.6,396.7 L228.3,396.5 L229,396.7 L229.7,397.1 L230.4,396.6 L231.1,396.7 L231.8,396.8 L232.5,396.9 L233.2,396.7 L233.9,396.7 L234.6,396.8 L235.3,397 L236,396.7 L236.7,396.6 L237.4,396.7 L238.1,396.8 L238.8,397 L239.5,397 L240.2,396.8 L240.9,397 L241.6,396.4 L242.3,396.7 L243,396.6 L243.7,396.8 L243.7,400.6 L243,401.5 L242.3,400.5 L241.6,401 L240.9,400.8 L240.2,401 L239.5,400.8 L238.8,401.3 L238.1,400.7 L237.4,402.3 L236.7,401.6 L236,400.8 L235.3,401.5 L234.6,400.9 L233.9,401.1 L233.2,401 L232.5,401.3 L231.8,400.6 L231.1,401 L230.4,400.7 L229.7,400.9 L229,401 L228.3,401.1 L227.6,401.2 L226.9,401 L226.2,401 L225.5,400.7 L224.8,400.8 L224.1,401.3 L223.4,400.7 L222.7,401.6 L222,401 L221.3,401.2 L220.6,401 L219.9,400.8 L219.2,400.9 L218.5,400.9 L217.8,401.2 L217.1,400.8 L216.4,400.8 L215.7,400.8 L215,400.9 L214.3,400.8 L213.6,401.7 L212.9,401.6 L212.2,401.2 L211.5,401.3 L210.8,401.2 L210.1,401.5 L209.4,401.4 L208.7,400.8 L208,401 L207.3,401.4 L206.6,400.9 L205.9,401 L205.2,401.5 L204.5,401.1 L203.8,401 L203.1,400.8 L202.4,401.1 L201.7,401.1 L201,401.2 L200.3,401.8 L199.6,401 L198.9,401 L198.2,401.9 L197.5,401.5 L196.8,401.8 L196.1,401.1 L195.4,401.1 L194.7,401.5 L194,401.3 L193.3,401.7 L192.6,401.3 L191.9,401.2 L191.2,401 L190.5,401.4 L189.8,401.5 L189.1,401.5 L188.4,401.4 L187.7,401.2 L187,401 L186.3,401 L185.6,401.2 L184.9,402.1 L184.2,401.5 L183.5,401.3 L182.8,401.1 L182.1,401.3 L181.4,401 L180.7,401 L180,401.8 L179.3,401.6 L178.6,401.1 L177.9,401 L177.2,401.1 L176.5,401.9 L175.8,402.7 L175.1,404 L174.4,404.9 L173.7,406.3 L173,408.4 L172.3,409.3 L171.6,409.4 L170.9,409.2 L170.2,409.3 L169.5,409.9 L168.8,409.4 L168.1,409.5 L167.4,409.2 L166.7,409.2 L166,409 L165.3,409.4 L164.6,408.8 L163.9,409.4 L163.2,409.2 L162.5,408.7 L161.8,408.7 L161.1,409 L160.4,408.9 L159.7,409.2 L159,408.9 L158.3,408.3 L157.6,408.5 L156.9,408.4 L156.2,408.3 L155.5,408.3 L154.8,408.1 L154.1,408.2 L153.4,408.1 L152.7,408.4 L152,408 L151.3,408.2 L150.6,407.3 L149.9,408.6 L149.2,406.9 L148.5,406.8 L147.8,407.8 L147.1,406.6 L146.4,406.4 L145.7,406.8 L145,406.2 L144.3,406.8 L143.6,406 L142.9,406.2 L142.2,405.7 L141.5,405.5 L140.8,405.6 L140.1,405.5 L139.4,405.5 L138.7,405.2 L138,405.6 L137.3,405 L136.6,405.6 L135.9,405.4 L135.2,404.8 L134.5,404.5 L133.8,404.7 L133.1,405.3 L132.4,405.2 L131.7,404.2 L131,404.3 L130.3,403.9 L129.6,404 L128.9,403.6 L128.2,403.7 L127.5,403.9 L126.8,403.4 L126.1,403.1 L125.4,403.2 L124.7,402.9 L124,403.2 L123.3,402.7 L122.6,402.5 L121.9,402.8 L121.2,401.8 L120.5,401.8 L119.8,401.6 L119.1,401.6 L118.4,401.6 L117.7,400.8 L117,400.8 L116.3,400.4 L115.6,400.3 L114.9,400 L114.2,399.8 L113.5,399.7 L112.8,399.4 L112.1,398.9 L111.4,398.9 L110.7,398.3 L110,398.3 L109.3,399.1 L108.6,400.2 L107.9,400.8 L107.2,401.9 L106.5,403.2 L105.8,403.6 L105.1,404.6 L104.4,405.5 L103.7,406.5 L103,407.8 L102.3,408.5 L101.6,409.7 L100.9,410.4 L100.2,411.4 L99.5,412.8 L98.8,413.4 L98.1,414.3 L97.4,415.7 L96.7,416.4 L96,417.8 L95.3,418.6 L94.6,419.1 L93.9,420.3 L93.2,421.2Z" fill="#d6561f"/>
<path d="M93.2,417 L109.8,388.5 L115.3,392" fill="none" stroke="#f2c14e" stroke-width="1.2" stroke-linejoin="round"/>
<path d="M110,390.6 L110.7,390.6 L111.4,391.5 L112.1,391.2 L112.8,391.3 L113.5,392.3 L114.2,392.4 L114.9,392.8 L115.6,392.6 L116.3,393.3 L117,393.3 L117.7,393.4 L118.4,393.8 L119.1,394.6 L119.8,394.8 L120.5,395.6 L121.2,395.6 L121.9,395.4 L122.6,396 L123.3,395.8 L124,396.5 L124.7,396.5 L125.4,396.7 L126.1,397.2 L126.8,398.1 L127.5,397.3 L128.2,398 L128.9,398.2 L129.6,398 L130.3,398.5 L131,398.6 L131.7,399.7 L132.4,398.9 L133.1,399 L133.8,399.7 L134.5,399.4 L135.2,400.3 L135.9,399.4 L136.6,399.6 L137.3,399.3 L138,399.7 L138.7,400.3 L139.4,400.6 L140.1,400.4 L140.8,400.5 L141.5,400.3 L142.2,401.5 L142.9,401.8 L143.6,401.9 L144.3,402.5 L145,401.7 L145.7,401.4 L146.4,401.1 L147.1,401.6 L147.8,402.2 L148.5,402.7 L149.2,402.3 L149.9,402 L150.6,403.3 L151.3,403.7 L152,402.8 L152.7,403.8 L153.4,402.6 L154.1,403.9 L154.8,403 L155.5,403.6 L156.2,404.4 L156.9,404.3 L157.6,405.2 L158.3,404.5 L159,405.2" fill="none" stroke="#b8402a" stroke-width="1.2" stroke-linejoin="round"/>
<path d="M93.2,420.3 L93.9,419.9 L94.6,418.6 L95.3,418 L96,416.9 L96.7,415.5 L97.4,414.9 L98.1,413.6 L98.8,412.4 L99.5,411.6 L100.2,411 L100.9,410.3 L101.6,408.3 L102.3,408.2 L103,406.2 L103.7,406.1 L104.4,405.2 L105.1,404.3 L105.8,403.5 L106.5,402.1 L107.2,401.2 L107.9,400.2 L108.6,399.6 L109.3,398.5 L110,397.3 L110.7,398 L111.4,398.3 L112.1,398.6 L112.8,398.7 L113.5,399.1 L114.2,398.7 L114.9,399.3 L115.6,400 L116.3,399.6 L117,400 L117.7,400.3 L118.4,400.4 L119.1,400.6 L119.8,400.7 L120.5,401.3 L121.2,400.3 L121.9,400.5 L122.6,401.4 L123.3,401.9 L124,402.3 L124.7,402.1 L125.4,402.7 L126.1,402.9 L126.8,402.4 L127.5,401.4 L128.2,403.2 L128.9,403 L129.6,403.2 L130.3,403.6 L131,403.1 L131.7,403.8 L132.4,403.8 L133.1,403.8 L133.8,404 L134.5,403.6 L135.2,404.4 L135.9,404.5 L136.6,404.4 L137.3,404.1 L138,404.6 L138.7,403.8 L139.4,404.5 L140.1,404.1 L140.8,405.4 L141.5,404.6 L142.2,405.5 L142.9,405.5 L143.6,405.8 L144.3,405.2 L145,405.3 L145.7,405.3 L146.4,405.5 L147.1,406.3 L147.8,406.3 L148.5,406 L149.2,406.1 L149.9,406.5 L150.6,406.9 L151.3,407.1 L152,406.9 L152.7,407.2 L153.4,407.2 L154.1,407.5 L154.8,407.3 L155.5,407.3 L156.2,407.6 L156.9,407.8 L157.6,408.1 L158.3,408.2 L159,408.1 L159.7,408.3 L160.4,408.3 L161.1,407.8 L161.8,408.3 L162.5,407.9 L163.2,408.6 L163.9,408.1 L164.6,408.6 L165.3,408.7 L166,408.4 L166.7,408.2 L167.4,408.6 L168.1,408.8 L168.8,408.4 L169.5,408.8 L170.2,408.8 L170.9,409 L171.6,408.8 L172.3,407.8 L173,406.4 L173.7,405.6 L174.4,404.2 L175.1,403.1 L175.8,402.1 L176.5,400.7 L177.2,400.6 L177.9,400.6 L178.6,400.9 L179.3,400.9 L180,400.4 L180.7,400.1 L181.4,400.3 L182.1,400.4 L182.8,400.9 L183.5,400.3 L184.2,400.7 L184.9,400.5 L185.6,400.6 L186.3,400.5 L187,400.8 L187.7,400.7 L188.4,400.5 L189.1,400.3 L189.8,400.4 L190.5,400.2 L191.2,400.7 L191.9,400.5 L192.6,400.6 L193.3,400.4 L194,400.8 L194.7,400.3 L195.4,400.4 L196.1,400.1 L196.8,400.4 L197.5,400.2 L198.2,400.7 L198.9,400.6 L199.6,400.7 L200.3,400.4 L201,400.2 L201.7,399.8 L202.4,400 L203.1,400.7 L203.8,400.6 L204.5,400.5 L205.2,400.8 L205.9,400.4 L206.6,400.8 L207.3,399.8 L208,399.9 L208.7,400.3 L209.4,400.4 L210.1,400.1 L210.8,400.4 L211.5,399.9 L212.2,400.3 L212.9,400.5 L213.6,399.7 L214.3,400.4 L215,400.3 L215.7,400.5 L216.4,400.2 L217.1,400.3 L217.8,399.9 L218.5,400.7 L219.2,400 L219.9,400.5 L220.6,400 L221.3,400.2 L222,400.5 L222.7,400.2 L223.4,400.1 L224.1,400.4 L224.8,400.5 L225.5,400.3 L226.2,400.2 L226.9,400.3 L227.6,400.1 L228.3,400.5 L229,400.5 L229.7,400.6 L230.4,399.9 L231.1,400.3 L231.8,400.4 L232.5,400.6 L233.2,400.1 L233.9,400.1 L234.6,400 L235.3,400.1 L236,400.1 L236.7,400.4 L237.4,400.5 L238.1,400.5 L238.8,400.2 L239.5,400.4 L240.2,400.5 L240.9,399.8 L241.6,399.5 L242.3,400.3 L243,400.2 L243.7,400.4 L243.7,404.4 L243,404.4 L242.3,404.2 L241.6,404.8 L240.9,404.6 L240.2,404.1 L239.5,404.5 L238.8,404.6 L238.1,404.6 L237.4,404.6 L236.7,404.8 L236,404.1 L235.3,404.2 L234.6,404.1 L233.9,404.3 L233.2,404.5 L232.5,404.3 L231.8,404.9 L231.1,404.5 L230.4,404 L229.7,404.9 L229,404.2 L228.3,404.2 L227.6,404.4 L226.9,404.6 L226.2,404.2 L225.5,404.3 L224.8,404.4 L224.1,404.4 L223.4,404 L222.7,404 L222,404.4 L221.3,404.2 L220.6,404.2 L219.9,404.2 L219.2,404.5 L218.5,404.5 L217.8,404.2 L217.1,404.4 L216.4,404.5 L215.7,404.3 L215,404.4 L214.3,404 L213.6,405.1 L212.9,404.4 L212.2,404.7 L211.5,404.1 L210.8,404 L210.1,404.4 L209.4,405.1 L208.7,404.2 L208,404.1 L207.3,404.8 L206.6,404.2 L205.9,404.1 L205.2,404.5 L204.5,404.1 L203.8,405.1 L203.1,404 L202.4,404.2 L201.7,404.9 L201,404.5 L200.3,404 L199.6,404.1 L198.9,404.1 L198.2,404.2 L197.5,404.5 L196.8,404.2 L196.1,404.2 L195.4,404.6 L194.7,404.3 L194,404.4 L193.3,404.3 L192.6,404.4 L191.9,404.4 L191.2,404.6 L190.5,404.1 L189.8,404.1 L189.1,404.5 L188.4,404.5 L187.7,404.4 L187,404.3 L186.3,404.7 L185.6,404 L184.9,404.1 L184.2,405 L183.5,404.7 L182.8,404.3 L182.1,404.6 L181.4,404.7 L180.7,404.3 L180,404.1 L179.3,404.4 L178.6,404.3 L177.9,404.3 L177.2,404.3 L176.5,404.3 L175.8,405.5 L175.1,406.6 L174.4,407.5 L173.7,408.3 L173,409.7 L172.3,410.3 L171.6,410.9 L170.9,410.7 L170.2,411.1 L169.5,410.8 L168.8,410.5 L168.1,410.9 L167.4,410.9 L166.7,410.6 L166,411.2 L165.3,411 L164.6,411.1 L163.9,411.2 L163.2,411.1 L162.5,411.1 L161.8,411 L161.1,410.5 L160.4,411.6 L159.7,411 L159,410.7 L158.3,410.4 L157.6,410.7 L156.9,410.6 L156.2,410.3 L155.5,410.2 L154.8,410.2 L154.1,410.7 L153.4,410.6 L152.7,409.9 L152,410.4 L151.3,410.1 L150.6,410 L149.9,409.9 L149.2,409.6 L148.5,409.6 L147.8,409.6 L147.1,409.3 L146.4,409.3 L145.7,409.7 L145,409.5 L144.3,409 L143.6,409.5 L142.9,409.1 L142.2,409.3 L141.5,409.2 L140.8,409 L140.1,409.1 L139.4,408.6 L138.7,408.8 L138,408.4 L137.3,408.9 L136.6,408.8 L135.9,408.4 L135.2,408.3 L134.5,407.9 L133.8,409 L133.1,408.7 L132.4,407.8 L131.7,408.8 L131,407.6 L130.3,408 L129.6,408 L128.9,408.1 L128.2,407.2 L127.5,407.3 L126.8,407.2 L126.1,407 L125.4,407.3 L124.7,406.7 L124,407.7 L123.3,406.7 L122.6,407.3 L121.9,406.3 L121.2,406.3 L120.5,406.3 L119.8,406 L119.1,406.3 L118.4,405.7 L117.7,406.1 L117,405.7 L116.3,405.7 L115.6,405.6 L114.9,405.3 L114.2,405.2 L113.5,405.5 L112.8,405.5 L112.1,405.2 L111.4,405.7 L110.7,405.4 L110,405.1 L109.3,407 L108.6,406.7 L107.9,408 L107.2,408.9 L106.5,410.4 L105.8,410.7 L105.1,411.7 L104.4,412.8 L103.7,413.8 L103,414.5 L102.3,415.4 L101.6,416.8 L100.9,417.4 L100.2,418.7 L99.5,419.6 L98.8,420.6 L98.1,422.1 L97.4,422.6 L96.7,423.4 L96,424.8 L95.3,426 L94.6,426.1 L93.9,427.3 L93.2,428.1Z" fill="#2b72c0"/>
<path d="M159.6,408 L160.3,408.8 L161,407.7 L161.7,407.2 L162.4,408.3 L163.1,408.5 L163.8,408.4 L164.5,408.5 L165.2,408.2 L165.9,408 L166.6,407.9 L167.3,408.2 L168,408.2 L168.7,408.9 L169.4,408.8 L170.1,407.8 L170.8,408.9 L171.5,408.5 L172.2,408.6 L172.9,407.2 L173.6,405.1 L174.3,402.3 L175,401.9 L175.7,399.1 L176.4,399.1 L177.1,397.7 L177.8,398 L178.5,399 L179.2,397.2 L179.9,398.1 L180.6,397.5 L181.3,397.8 L182,397.7 L182.7,398.4 L183.4,397.9 L184.1,398.2 L184.8,398.4 L185.5,397.2 L186.2,398.8 L186.9,397.9 L187.6,397.2 L188.3,397.7 L189,398.5 L189.7,398.6 L190.4,397.7 L191.1,398.1 L191.8,398.2 L192.5,398.6 L193.2,398 L193.9,398.6 L194.6,397.6 L195.3,397.7 L196,398.4 L196.7,398.4 L197.4,398 L198.1,398.4 L198.8,398.2 L199.5,398.4 L200.2,398.7 L200.9,398.3 L201.6,398.5 L202.3,397.9 L203,397.8 L203.7,396.9 L204.4,398.3 L205.1,398.1 L205.8,398.3 L206.5,397.1 L207.2,397.8 L207.9,397.8 L208.6,397.1 L209.3,398.5 L210,398.7 L210.7,397.4 L211.4,398.3 L212.1,398.9 L212.8,397.4 L213.5,398.6 L214.2,398.9 L214.9,399 L215.6,397.4 L216.3,397.5 L217,398.2 L217.7,398.7 L218.4,397.4 L219.1,397.7 L219.8,397.5 L220.5,398.6 L221.2,397.8 L221.9,398.4 L222.6,398.4 L223.3,398.7 L224,398.3 L224.7,398.2 L225.4,398.7 L226.1,398.3 L226.8,397.4 L227.5,397.8 L228.2,398.5 L228.9,398.1 L229.6,397.9 L230.3,398.2 L231,399.8 L231.7,398 L232.4,398.3 L233.1,398.3 L233.8,397.9 L234.5,398.7 L235.2,398.5 L235.9,398.3 L236.6,397.4 L237.3,398.7 L238,398.5 L238.7,398 L239.4,396.7 L240.1,398 L240.8,397.4 L241.5,397.9 L242.2,397.8 L242.9,397.6 L243.6,398.6" fill="none" stroke="#e5a531" stroke-width="1.3" stroke-linejoin="round"/>
<path d="M77.7,423 L84,418 L91,412 L93.2,417" fill="none" stroke="#c0502a" stroke-width="1.1" stroke-linejoin="round"/>
<path d="M77.7,425.5 L84,420.5 L91,414.5 L93.2,420" fill="none" stroke="#3a78c0" stroke-width="0.9" stroke-linejoin="round"/>
<path d="M77.7,428 L84,423 L91,417 L93.2,424" fill="none" stroke="#d08a8a" stroke-width="0.8" stroke-linejoin="round"/>
<path d="M77.7,434 L84,430 L91,425 L93,433" fill="none" stroke="#b5534a" stroke-width="0.9" stroke-linejoin="round"/>
<path d="M77.7,436.5 L84,432.5 L91,427.5 L93,437" fill="none" stroke="#5aaedb" stroke-width="0.9" stroke-linejoin="round"/>
<path d="M77.7,439 L84,435 L91,430 L93,441" fill="none" stroke="#e3a33b" stroke-width="1.1" stroke-linejoin="round"/>
<path d="M77.7,441 L84,437 L91,432 L93,444" fill="none" stroke="#c8a080" stroke-width="0.8" stroke-linejoin="round"/>
<path d="M93,432.3 L93.7,431.5 L94.4,431.5 L95.1,430.8 L95.8,429.9 L96.5,428.7 L97.2,428.5 L97.9,427.6 L98.6,427.3 L99.3,426.5 L100,425.2 L100.7,424.9 L101.4,424.2 L102.1,423.5 L102.8,422.6 L103.5,421.9 L104.2,420.8 L104.9,421 L105.6,419.7 L106.3,419.6 L107,418.5 L107.7,418.1 L108.4,417.4 L109.1,416.6 L109.8,416.1 L110.5,415.5 L111.2,414.8 L111.9,413.8 L112.6,412.5 L113.3,412.4 L114,412.5 L114.7,413 L115.4,412.8 L116.1,412.4 L116.8,413.1 L117.5,413.3 L118.2,412.7 L118.9,413.1 L119.6,413.3 L120.3,413.4 L121,413.8 L121.7,413.6 L122.4,414.1 L123.1,413.7 L123.8,413.5 L124.5,414.1 L125.2,414.2 L125.9,414.2 L126.6,414.5 L127.3,414.4 L128,414.8 L128.7,414.4 L129.4,414.9 L130.1,414.3 L130.8,414.2 L131.5,414 L132.2,414.9 L132.9,414.6 L133.6,415.4 L134.3,414.8 L135,415.6 L135.7,415.1 L136.4,415.7 L137.1,415.6 L137.8,415.6 L138.5,415.3 L139.2,415.3 L139.9,416.2 L140.6,416 L141.3,416.3 L142,416.4 L142.7,416.3 L143.4,416.1 L144.1,415.8 L144.8,416.3 L145.5,416.2 L146.2,416.9 L146.9,415.9 L147.6,416.2 L148.3,416.5 L149,416.3 L149.7,415.8 L150.4,416.6 L151.1,417.3 L151.8,417.4 L152.5,417.3 L153.2,417.7 L153.9,416.8 L154.6,417.2 L155.3,417.5 L156,418.1 L156.7,418.1 L157.4,417.8 L158.1,416.9 L158.8,417.4 L159.5,418 L160.2,417.7 L160.9,418.2 L161.6,417.5 L162.3,418.2 L163,417.5 L163.7,417.5 L164.4,418.1 L165.1,417.8 L165.8,417.9 L166.5,418.2 L167.2,418.8 L167.9,418.4 L168.6,418.3 L169.3,418.6 L170,418.9 L170.7,418.7 L171.4,418 L172.1,418.7 L172.8,417.6 L173.5,416.6 L174.2,415.9 L174.9,415.4 L175.6,414.5 L176.3,413.1 L177,412.9 L177.7,412.5 L178.4,413.1 L179.1,413.3 L179.8,413.1 L180.5,412.7 L181.2,413.3 L181.9,413.2 L182.6,412.6 L183.3,412.7 L184,412.5 L184.7,413 L185.4,412.8 L186.1,413.2 L186.8,412.4 L187.5,413.3 L188.2,412.7 L188.9,413.2 L189.6,413 L190.3,412.8 L191,412.9 L191.7,413 L192.4,413.2 L193.1,413.2 L193.8,412.6 L194.5,413.4 L195.2,413.3 L195.9,413.4 L196.6,413.4 L197.3,412.5 L198,413.3 L198.7,413.2 L199.4,412.5 L200.1,413 L200.8,412.7 L201.5,412.7 L202.2,412.6 L202.9,412.9 L203.6,413.3 L204.3,413 L205,412.9 L205.7,412.7 L206.4,412.9 L207.1,413.1 L207.8,413.4 L208.5,412.5 L209.2,413.4 L209.9,413.4 L210.6,413 L211.3,413.5 L212,412.5 L212.7,412.3 L213.4,413.2 L214.1,412.9 L214.8,412.9 L215.5,412.1 L216.2,413.1 L216.9,412.7 L217.6,412.6 L218.3,413.4 L219,413.4 L219.7,413.2 L220.4,413.5 L221.1,413.4 L221.8,413.5 L222.5,412.5 L223.2,413.2 L223.9,412.9 L224.6,413.2 L225.3,413.4 L226,413.5 L226.7,413.1 L227.4,412.1 L228.1,413.1 L228.8,412.3 L229.5,412.6 L230.2,412.4 L230.9,412.2 L231.6,412.2 L232.3,413.4 L233,413.4 L233.7,413 L234.4,413.1 L235.1,413.2 L235.8,413.5 L236.5,413.3 L237.2,412.9 L237.9,412.2 L238.6,413.1 L239.3,413.1 L240,413.4 L240.7,412.7 L241.4,413.4 L242.1,412 L242.8,412.2 L243.5,413.4 L243.5,420.6 L242.8,420.5 L242.1,420.2 L241.4,421 L240.7,420 L240,420.4 L239.3,420.2 L238.6,420.3 L237.9,420.4 L237.2,420.1 L236.5,420.3 L235.8,420 L235.1,420.6 L234.4,420.2 L233.7,420 L233,420 L232.3,420.2 L231.6,419.9 L230.9,420.5 L230.2,421.2 L229.5,420.2 L228.8,420.3 L228.1,420 L227.4,419.9 L226.7,420.4 L226,419.9 L225.3,420.9 L224.6,421.4 L223.9,420.3 L223.2,420.3 L222.5,419.9 L221.8,420.3 L221.1,420.2 L220.4,420.7 L219.7,419.9 L219,420.2 L218.3,420.2 L217.6,420 L216.9,421 L216.2,421.2 L215.5,420.3 L214.8,420.7 L214.1,419.9 L213.4,419.9 L212.7,420.4 L212,419.8 L211.3,420 L210.6,420 L209.9,419.8 L209.2,419.9 L208.5,419.9 L207.8,420.4 L207.1,420.1 L206.4,419.8 L205.7,420.1 L205,419.8 L204.3,420.1 L203.6,421 L202.9,420.1 L202.2,420.2 L201.5,420.5 L200.8,420.6 L200.1,420.2 L199.4,419.9 L198.7,419.9 L198,420.1 L197.3,420.2 L196.6,420.7 L195.9,420.3 L195.2,419.8 L194.5,420.2 L193.8,420.4 L193.1,420.6 L192.4,419.8 L191.7,419.7 L191,419.6 L190.3,420.5 L189.6,420.2 L188.9,420 L188.2,419.7 L187.5,420.1 L186.8,420.3 L186.1,419.7 L185.4,419.7 L184.7,420.5 L184,420.7 L183.3,419.6 L182.6,419.7 L181.9,419.6 L181.2,420.8 L180.5,420.4 L179.8,420.3 L179.1,420 L178.4,420.1 L177.7,419.7 L177,420 L176.3,420.4 L175.6,421 L174.9,422.3 L174.2,422.5 L173.5,424 L172.8,424.8 L172.1,424.9 L171.4,425.6 L170.7,425.3 L170,425.5 L169.3,425.3 L168.6,425.5 L167.9,425.5 L167.2,425.1 L166.5,425.1 L165.8,425.4 L165.1,425.5 L164.4,425.3 L163.7,425.5 L163,425.2 L162.3,426.5 L161.6,425.3 L160.9,425.1 L160.2,426.2 L159.5,425.4 L158.8,425.6 L158.1,425 L157.4,424.8 L156.7,424.8 L156,425.6 L155.3,426.2 L154.6,424.6 L153.9,424.8 L153.2,424.5 L152.5,424.8 L151.8,424.8 L151.1,424.4 L150.4,425 L149.7,424.9 L149,424.8 L148.3,424.3 L147.6,424.3 L146.9,424.4 L146.2,424.5 L145.5,424 L144.8,424.4 L144.1,424.8 L143.4,424.3 L142.7,423.9 L142,423.8 L141.3,423.8 L140.6,423.5 L139.9,423.9 L139.2,424 L138.5,423.4 L137.8,423.5 L137.1,423.9 L136.4,423.3 L135.7,423.1 L135,424.3 L134.3,423.2 L133.6,423.3 L132.9,422.9 L132.2,423.1 L131.5,422.6 L130.8,422.9 L130.1,422.8 L129.4,423 L128.7,422.6 L128,423.1 L127.3,422.6 L126.6,422.6 L125.9,422.2 L125.2,422.4 L124.5,423.4 L123.8,422 L123.1,422 L122.4,422.4 L121.7,422.2 L121,422.1 L120.3,421.8 L119.6,422.2 L118.9,421.7 L118.2,421.6 L117.5,422.1 L116.8,421.5 L116.1,422.3 L115.4,421.3 L114.7,421.3 L114,421.1 L113.3,421.2 L112.6,421.5 L111.9,422.1 L111.2,423 L110.5,423.5 L109.8,424.3 L109.1,424.7 L108.4,426.4 L107.7,426.7 L107,427.2 L106.3,427.6 L105.6,428.5 L104.9,429 L104.2,430.1 L103.5,430.1 L102.8,430.8 L102.1,431.6 L101.4,432.4 L100.7,433.4 L100,433.6 L99.3,434.3 L98.6,435.8 L97.9,435.7 L97.2,436.3 L96.5,437.3 L95.8,438.2 L95.1,438.9 L94.4,439.1 L93.7,440.5 L93,440.6Z" fill="#5aaedb"/>
<path d="M93,433.1 L93.7,432.3 L94.4,431.6 L95.1,430.6 L95.8,430.3 L96.5,429.5 L97.2,429.3 L97.9,427.6 L98.6,428.7 L99.3,425.1 L100,426 L100.7,425.8 L101.4,424.5 L102.1,423.5 L102.8,423.2 L103.5,422.9 L104.2,422.4 L104.9,420.3 L105.6,420.5 L106.3,419.4 L107,419.5 L107.7,418 L108.4,417.7 L109.1,417.4 L109.8,416 L110.5,415.6 L111.2,414.4 L111.9,413.9 L112.6,412.4 L113.3,412.5 L114,412.8 L114.7,412.8 L115.4,414.4 L116.1,412.1 L116.8,412.2 L117.5,413.6 L118.2,413.9 L118.9,413.7 L119.6,414.3 L120.3,414.9 L121,413.7 L121.7,413.3 L122.4,414 L123.1,414.8 L123.8,414.4 L124.5,414.2 L125.2,414.6 L125.9,414.6 L126.6,413.7 L127.3,414.9 L128,414.3 L128.7,414.7 L129.4,414.6 L130.1,415 L130.8,415.5 L131.5,415 L132.2,415.3 L132.9,415.8 L133.6,415.6 L134.3,415.1 L135,416 L135.7,415.4 L136.4,415.6 L137.1,415.9 L137.8,416.7 L138.5,415.5 L139.2,415.8 L139.9,416.2 L140.6,415.8 L141.3,416.4 L142,417 L142.7,415.5 L143.4,416.6 L144.1,416.3 L144.8,417.8 L145.5,417.1 L146.2,417.2 L146.9,416.9 L147.6,416.5 L148.3,417.2 L149,417.4 L149.7,417.3 L150.4,418.3 L151.1,417.9 L151.8,417.1 L152.5,417.4 L153.2,417.9 L153.9,417.2 L154.6,417.8 L155.3,417.6 L156,418.1 L156.7,418.2 L157.4,417.9 L158.1,418.9 L158.8,418.1 L159.5,418.8 L160.2,417.9 L160.9,418 L161.6,418.2 L162.3,418.4 L163,419 L163.7,417.9 L164.4,419.5 L165.1,418.1 L165.8,419.5 L166.5,418.8 L167.2,418.5 L167.9,419.2 L168.6,418.6 L169.3,418.9 L170,418.9 L170.7,420.4 L171.4,418.4 L172.1,419.8 L172.8,417.8 L173.5,416.8 L174.2,416 L174.9,416.1 L175.6,414.5 L176.3,413.3 L177,413.8 L177.7,413.6 L178.4,414 L179.1,412.9 L179.8,414.2 L180.5,414.1 L181.2,413.1 L181.9,413.3 L182.6,413.7 L183.3,413.3 L184,413.9 L184.7,413.8 L185.4,413.5 L186.1,412.9 L186.8,412.4 L187.5,413.6 L188.2,412.8 L188.9,414 L189.6,414.4 L190.3,413.5 L191,413.9 L191.7,414.1 L192.4,413.9 L193.1,412.9 L193.8,412.9 L194.5,413.2 L195.2,413.5 L195.9,413 L196.6,413.6 L197.3,414.1 L198,413.3 L198.7,413.5 L199.4,412.9 L200.1,413.4 L200.8,413.9 L201.5,414.2 L202.2,413.6 L202.9,413.1 L203.6,414.5 L204.3,412.4 L205,413.2 L205.7,413.1 L206.4,413.5 L207.1,413.8 L207.8,413.2 L208.5,415.3 L209.2,414.5 L209.9,413.9 L210.6,413.2 L211.3,412.7 L212,414.1 L212.7,413.9 L213.4,413.7 L214.1,414.2 L214.8,413.7 L215.5,412.7 L216.2,412.5 L216.9,413.3 L217.6,413.5 L218.3,413.8 L219,413.6 L219.7,413.4 L220.4,413 L221.1,413.8 L221.8,413.8 L222.5,413.2 L223.2,413 L223.9,413.3 L224.6,412.9 L225.3,413.6 L226,412.8 L226.7,413.6 L227.4,413 L228.1,413.7 L228.8,414.7 L229.5,412.9 L230.2,413.5 L230.9,414.7 L231.6,413.9 L232.3,413.6 L233,413.7 L233.7,413.3 L234.4,412.7 L235.1,412.1 L235.8,413.1 L236.5,413.1 L237.2,414 L237.9,413.6 L238.6,412.6 L239.3,413.7 L240,412.8 L240.7,414.1 L241.4,412.9 L242.1,413.9 L242.8,413.5 L243.5,413.2" fill="none" stroke="#b5534a" stroke-width="0.8" stroke-linejoin="round"/>
<path d="M93,439.1 L93.7,438.9 L94.4,438.4 L95.1,437.4 L95.8,436 L96.5,435.3 L97.2,434.9 L97.9,434 L98.6,432.9 L99.3,432.9 L100,432.8 L100.7,432.1 L101.4,430.9 L102.1,430.7 L102.8,429.8 L103.5,429.2 L104.2,428.1 L104.9,428 L105.6,427.7 L106.3,427 L107,425.8 L107.7,424.4 L108.4,424.9 L109.1,423.7 L109.8,423.4 L110.5,423.1 L111.2,421.1 L111.9,420.9 L112.6,420 L113.3,419.3 L114,420.2 L114.7,420.2 L115.4,419.4 L116.1,419.3 L116.8,420.5 L117.5,420.8 L118.2,421.4 L118.9,420.9 L119.6,421.2 L120.3,421.3 L121,421.3 L121.7,421 L122.4,421.5 L123.1,420.5 L123.8,420.3 L124.5,421.4 L125.2,421.5 L125.9,422 L126.6,421.6 L127.3,420.3 L128,420.7 L128.7,421.1 L129.4,421.6 L130.1,419.6 L130.8,421.8 L131.5,420.6 L132.2,422 L132.9,421.8 L133.6,421.5 L134.3,421.1 L135,420.5 L135.7,421.1 L136.4,421.1 L137.1,421.7 L137.8,422.9 L138.5,422 L139.2,420.4 L139.9,421.6 L140.6,421.1 L141.3,421.5 L142,422.2 L142.7,422.5 L143.4,422.5 L144.1,423.1 L144.8,422.7 L145.5,421.9 L146.2,421.4 L146.9,422.8 L147.6,423.4 L148.3,422.3 L149,422.8 L149.7,422.8 L150.4,422.9 L151.1,423.7 L151.8,423.3 L152.5,423.9 L153.2,423.6 L153.9,422.1 L154.6,423.4 L155.3,424 L156,423.2 L156.7,423.6 L157.4,424.1 L158.1,424 L158.8,424.7 L159.5,424.6 L160.2,424.6 L160.9,424.6 L161.6,423.5 L162.3,424.4 L163,423.6 L163.7,424.2 L164.4,424.7 L165.1,424.3 L165.8,423.1 L166.5,424.2 L167.2,424.2 L167.9,422.5 L168.6,423.1 L169.3,423.2 L170,423.3 L170.7,424.8 L171.4,424.3 L172.1,423.3 L172.8,423.2 L173.5,422.6 L174.2,421.2 L174.9,421.1 L175.6,417.3 L176.3,418.3 L177,417.5 L177.7,417.9 L178.4,417.9 L179.1,418 L179.8,417.1 L180.5,417.3 L181.2,418.4 L181.9,418.3 L182.6,419.4 L183.3,417.7 L184,418.4 L184.7,419.1 L185.4,418.9 L186.1,418.7 L186.8,417.9 L187.5,417.7 L188.2,417.7 L188.9,418.4 L189.6,418.8 L190.3,418.3 L191,419.1 L191.7,419.5 L192.4,419.2 L193.1,419.4 L193.8,419.1 L194.5,418.5 L195.2,419.3 L195.9,417.7 L196.6,418.4 L197.3,418.9 L198,418.5 L198.7,419 L199.4,418.9 L200.1,418.9 L200.8,418.1 L201.5,419.1 L202.2,417.9 L202.9,418.2 L203.6,418 L204.3,419.5 L205,419.2 L205.7,418.9 L206.4,419.2 L207.1,419.1 L207.8,417.5 L208.5,418.6 L209.2,418 L209.9,418.5 L210.6,418.5 L211.3,418.5 L212,418.7 L212.7,419 L213.4,418.6 L214.1,418.9 L214.8,419.2 L215.5,418 L216.2,418.9 L216.9,419.7 L217.6,419.6 L218.3,419.1 L219,419.2 L219.7,419.7 L220.4,419.3 L221.1,419.4 L221.8,419 L222.5,418.7 L223.2,419.3 L223.9,418.8 L224.6,417.8 L225.3,419.4 L226,419 L226.7,418.9 L227.4,418.5 L228.1,418.6 L228.8,418.9 L229.5,419.7 L230.2,419.3 L230.9,419.3 L231.6,419.4 L232.3,419.8 L233,419.2 L233.7,419.5 L234.4,418.3 L235.1,419.2 L235.8,418.2 L236.5,418.8 L237.2,418.2 L237.9,418.6 L238.6,418.7 L239.3,418.7 L240,418.5 L240.7,418.7 L241.4,419 L242.1,419.1 L242.8,419.5 L243.5,419.4 L243.5,424.6 L242.8,426 L242.1,425.5 L241.4,424.6 L240.7,424.8 L240,425.1 L239.3,425.3 L238.6,425.8 L237.9,425.3 L237.2,425.4 L236.5,425.2 L235.8,425.3 L235.1,425.4 L234.4,425.5 L233.7,426.2 L233,426.1 L232.3,426.1 L231.6,425.6 L230.9,425.1 L230.2,424.9 L229.5,425 L228.8,425 L228.1,425.7 L227.4,424.9 L226.7,424.3 L226,424.8 L225.3,425 L224.6,427.3 L223.9,424.9 L223.2,424.5 L222.5,424.4 L221.8,425 L221.1,425.2 L220.4,424.9 L219.7,425.9 L219,424.2 L218.3,424.8 L217.6,425.1 L216.9,425.2 L216.2,425.2 L215.5,425.7 L214.8,425.3 L214.1,424.3 L213.4,424.2 L212.7,424.1 L212,424.3 L211.3,424 L210.6,424 L209.9,425.8 L209.2,425.2 L208.5,424.8 L207.8,424.5 L207.1,424.8 L206.4,425.5 L205.7,425.6 L205,426.6 L204.3,425.6 L203.6,425.6 L202.9,425.2 L202.2,426 L201.5,424.6 L200.8,425.2 L200.1,425.4 L199.4,425.9 L198.7,424.6 L198,424.9 L197.3,424.2 L196.6,424.2 L195.9,424.2 L195.2,424.6 L194.5,424.2 L193.8,423.9 L193.1,425.1 L192.4,423.8 L191.7,424 L191,424.5 L190.3,424.3 L189.6,424.5 L188.9,425.6 L188.2,424.2 L187.5,424.5 L186.8,424.7 L186.1,426 L185.4,425 L184.7,425.6 L184,425.2 L183.3,423.9 L182.6,424.5 L181.9,424.5 L181.2,424.3 L180.5,424.7 L179.8,423.8 L179.1,424.3 L178.4,423.6 L177.7,424.6 L177,424.3 L176.3,424.5 L175.6,425.3 L174.9,425.8 L174.2,427.4 L173.5,428.1 L172.8,429.3 L172.1,429.9 L171.4,431.2 L170.7,429.9 L170,430.6 L169.3,431.5 L168.6,430.9 L167.9,431.6 L167.2,430.3 L166.5,429.8 L165.8,429.3 L165.1,429.7 L164.4,429.9 L163.7,429.1 L163,429.1 L162.3,429.5 L161.6,430 L160.9,429.3 L160.2,429.6 L159.5,430.7 L158.8,429.8 L158.1,429.6 L157.4,429.7 L156.7,430.3 L156,431 L155.3,430.4 L154.6,429.4 L153.9,429.4 L153.2,429.1 L152.5,428.5 L151.8,428.6 L151.1,429.2 L150.4,429.3 L149.7,430 L149,429.9 L148.3,429.9 L147.6,430.3 L146.9,429.3 L146.2,429.2 L145.5,428.8 L144.8,430.1 L144.1,428.4 L143.4,429.5 L142.7,427.8 L142,428.6 L141.3,428.3 L140.6,428.1 L139.9,428.6 L139.2,427.9 L138.5,427.9 L137.8,427.4 L137.1,427.5 L136.4,428.1 L135.7,428.2 L135,428.1 L134.3,427.9 L133.6,428.2 L132.9,427.4 L132.2,427.1 L131.5,427.9 L130.8,427.8 L130.1,427.5 L129.4,427.8 L128.7,427.2 L128,427.4 L127.3,427.5 L126.6,426.6 L125.9,427.2 L125.2,426.6 L124.5,426.3 L123.8,427 L123.1,426.8 L122.4,427.7 L121.7,427.6 L121,427 L120.3,427.1 L119.6,427.4 L118.9,426.6 L118.2,426.7 L117.5,427.1 L116.8,426.1 L116.1,425.8 L115.4,426.2 L114.7,425.3 L114,427.3 L113.3,427 L112.6,427.8 L111.9,428.2 L111.2,428 L110.5,430.3 L109.8,430 L109.1,430.7 L108.4,430.8 L107.7,430.7 L107,431.7 L106.3,432.3 L105.6,433.1 L104.9,434.5 L104.2,435.6 L103.5,436 L102.8,436.2 L102.1,437.5 L101.4,437.3 L100.7,438.7 L100,439 L99.3,440.3 L98.6,440.7 L97.9,440.5 L97.2,441 L96.5,441.8 L95.8,442.9 L95.1,443.4 L94.4,444.3 L93.7,444.8 L93,446.2Z" fill="#e3a33b"/>
<path d="M78,459.8 L78.7,457.6 L79.4,455.5 L80.1,453.7 L80.8,452 L81.5,451.7 L82.2,452.1 L82.9,452.7 L83.6,453.3 L84.3,453.5 L85,453.6 L85.7,454 L86.4,455.2 L87.1,456 L87.8,456.4 L88.5,456.9 L89.2,457.8 L89.9,458.6 L90.6,459.2 L91.3,460.6 L92,462.8 L92.7,464.7 L92.7,470.4 L92,467.8 L91.3,465.8 L90.6,464 L89.9,463.1 L89.2,463.4 L88.5,462.4 L87.8,461.5 L87.1,461.1 L86.4,460.1 L85.7,459.5 L85,459.1 L84.3,458.8 L83.6,458.1 L82.9,457.5 L82.2,457.2 L81.5,456.9 L80.8,457.1 L80.1,458.5 L79.4,460.6 L78.7,462.9 L78,464.2Z" fill="#a0553f"/>
<path d="M78,462.9 L78.7,461.2 L79.4,459.4 L80.1,457.6 L80.8,455.9 L81.5,455.8 L82.2,456.1 L82.9,456.5 L83.6,457.2 L84.3,457.8 L85,458.1 L85.7,458.7 L86.4,459 L87.1,459.7 L87.8,460.1 L88.5,460.8 L89.2,460.5 L89.9,461.8 L90.6,462.4 L91.3,463.6 L92,466 L92.7,468.1 L92.7,475.1 L92,472.1 L91.3,469.6 L90.6,468.1 L89.9,467.4 L89.2,466.6 L88.5,466.4 L87.8,465.6 L87.1,464.6 L86.4,464 L85.7,463.5 L85,463.4 L84.3,462.4 L83.6,462.3 L82.9,461.7 L82.2,460.9 L81.5,460.8 L80.8,460.6 L80.1,462.5 L79.4,464.9 L78.7,466.4 L78,468.1Z" fill="#3f95b5"/>
<path d="M92.5,470 L93,488" fill="none" stroke="#7a9a7a" stroke-width="0.8" stroke-linejoin="round"/>
<path d="M93,470.4 L93.5,469.9 L94,482.5 L94.5,479.3 L95,476.9 L95.5,470.7 L96,481.1 L96.5,483.1 L97,477.3 L97.5,480.2 L98,478.2 L98.5,473.1 L99,484.5 L99.5,478.1 L100,475.3 L100.5,476.9 L101,479.5 L101.5,467.6 L102,469 L102.5,482.6 L103,477.9 L103.5,471.8 L104,467.4 L104.5,481.2 L105,474.9 L105.5,469.8 L106,482.2 L106.5,470.8 L107,477.7 L107.5,477 L108,470.6 L108.5,479.1 L109,486.4 L109.5,469.8 L110,477.9 L110.5,478.7 L111,473.3 L111.5,485.9 L112,478 L112.5,473 L113,477.8 L113.5,472.6 L114,477.5 L114.5,470.2 L115,474.6 L115.5,476.9 L116,481.3 L116.5,473.5 L117,476.5 L117.5,476.8 L118,486.8 L118.5,487 L119,471.5 L119.5,481 L120,472.3 L120.5,482.4 L121,480.8 L121.5,471.4 L122,476.1 L122.5,488.5 L123,476.5 L123.5,483.2 L124,485.2 L124.5,482.9 L125,469.1 L125.5,470.4 L126,475.1 L126.5,477.7 L127,471.4 L127.5,486.2 L128,479.8 L128.5,474.7 L129,474.1 L129.5,484.5 L130,486.4 L130.5,483.9 L131,477.3 L131.5,475.3 L132,469.9 L132.5,486.1 L133,478.1 L133.5,471.1 L134,469.1 L134.5,472.9 L135,481.5 L135.5,467.3 L136,484.2 L136.5,476.8 L137,483.3 L137.5,478.8 L138,483.2 L138.5,473.2 L139,482.9 L139.5,486.8 L140,478.5 L140.5,485 L141,471.9 L141.5,484.8 L142,477.7 L142.5,473 L143,475.6 L143.5,480 L144,477.3 L144.5,482.2 L145,476.5 L145.5,477 L146,481 L146.5,478.4 L147,473 L147.5,485.2 L148,476.4 L148.5,475.4 L149,479.4 L149.5,482.8 L150,471.4 L150.5,482.4 L151,469.7 L151.5,481.5 L152,473.6 L152.5,470.7 L153,472.9 L153.5,472.6 L154,477.7 L154.5,475.5 L155,474.9 L155.5,483.8 L156,471.4 L156.5,474.5 L157,469.9 L157.5,473.9 L158,485.1 L158.5,483.9 L159,478.4 L159.5,483.5 L160,473.1 L160.5,480.4 L161,478.7 L161.5,475.7 L162,473 L162.5,476.3 L163,482.8 L163.5,475.8 L164,478.6 L164.5,469.2 L165,484.1 L165.5,473.8 L166,476.9 L166.5,479.9 L167,470.3 L167.5,471.9 L168,478.8 L168.5,470.8 L169,478.4 L169.5,470.9 L170,470.6 L170.5,478.1 L171,471.8 L171.5,476.8 L172,474.8 L172.5,473 L173,483.2 L173.5,471.1 L174,479.1 L174.5,481.2 L175,472.3 L175.5,476.3 L176,484.2 L176.5,480.7 L177,474.1 L177.5,474.9 L178,480.7 L178.5,474.9 L179,474.6 L179.5,484.2 L180,471.1 L180.5,478.7 L181,485 L181.5,475.2 L182,481.6 L182.5,470.8 L183,477.6 L183.5,485.4 L184,477 L184.5,478.6 L185,476.7 L185.5,476.9 L186,484.1 L186.5,485.9 L187,473.1 L187.5,484.6 L188,479.2 L188.5,474.7 L189,471.8 L189.5,473.2 L190,472.8 L190.5,484.4 L191,480 L191.5,472.3 L192,479.9 L192.5,475 L193,465.7 L193.5,480.4 L194,478.9 L194.5,476.6 L195,476.9 L195.5,470.5 L196,470.4 L196.5,477.8 L197,475.7 L197.5,478.6 L198,480.4 L198.5,471.9 L199,478.8 L199.5,479.2 L200,470.5 L200.5,478.7 L201,480.1 L201.5,481.7 L202,472.6 L202.5,478.6 L203,475 L203.5,481.7 L204,483.1 L204.5,481.9 L205,480.8 L205.5,479.7 L206,480.4 L206.5,484.3 L207,471.1 L207.5,474.7 L208,481.5 L208.5,478.2 L209,469.3 L209.5,482.7 L210,478.8 L210.5,482.3 L211,482.6 L211.5,470.5 L212,475.5 L212.5,478.6 L213,468.8 L213.5,473.8 L214,478.2 L214.5,479.6 L215,470 L215.5,474.7 L216,472 L216.5,469.6 L217,469.9 L217.5,470.7 L218,473.6 L218.5,477.1 L219,476.9 L219.5,471.6 L220,475.1 L220.5,484.3 L221,471.3 L221.5,472.6 L222,472.4 L222.5,473.5 L223,484.3 L223.5,478.2 L224,479.4 L224.5,471.3 L225,481.6 L225.5,476.5 L226,475.4 L226.5,480.2 L227,481.6 L227.5,470.9 L228,476.8 L228.5,479.3 L229,471.9 L229.5,480.7 L230,475.8 L230.5,476 L231,472 L231.5,484.2 L232,474 L232.5,476.6 L233,479.6 L233.5,477.3 L234,475.8 L234.5,480 L235,481 L235.5,477.9 L236,484.2 L236.5,485.8 L237,479.4 L237.5,482.5 L238,484.8 L238.5,477.9 L239,482.9 L239.5,478.4 L240,483.2 L240.5,472.1 L241,481.4 L241.5,471.7 L242,474 L242.5,473.5 L243,475 L243.5,474.5 L244,472.5" fill="none" stroke="#8f9a8f" stroke-width="0.7"/>
<path d="M93,464.8 L93.4,466.3 L93.8,464.5 L94.2,467.6 L94.6,469.8 L95,467.4 L95.4,466.1 L95.8,464.8 L96.2,465.6 L96.6,465.1 L97,465.1 L97.4,465.6 L97.8,470.4 L98.2,467.6 L98.6,469.5 L99,470.1 L99.4,469.3 L99.8,463.4 L100.2,470.5 L100.6,463.9 L101,469.4 L101.4,469.5 L101.8,467.5 L102.2,465 L102.6,461.9 L103,461.4 L103.4,466.2 L103.8,463.5 L104.2,466.2 L104.6,464.4 L105,464 L105.4,465 L105.8,468.4 L106.2,466.5 L106.6,465.7 L107,466.4 L107.4,467.3 L107.8,467.4 L108.2,467.3 L108.6,471.8 L109,470.5 L109.4,466.2 L109.8,466.7 L110.2,465.4 L110.6,466.5 L111,463.7 L111.4,469.2 L111.8,467.8 L112.2,466.6 L112.6,470.3 L113,465.8 L113.4,467.5 L113.8,470 L114.2,466.9 L114.6,467.1 L115,465 L115.4,469.9 L115.8,467.9 L116.2,464.4 L116.6,464.7 L117,466.6 L117.4,466.3 L117.8,466.6 L118.2,464.2 L118.6,467.5 L119,468.8 L119.4,469.6 L119.8,467.6 L120.2,468 L120.6,468.9 L121,469.5 L121.4,468 L121.8,463.4 L122.2,464.4 L122.6,469 L123,466.8 L123.4,463.7 L123.8,465.6 L124.2,461.1 L124.6,461.3 L125,463 L125.4,465.9 L125.8,462.2 L126.2,467.1 L126.6,472 L127,471.2 L127.4,474.1 L127.8,467 L128.2,473.2 L128.6,472.5 L129,466.1 L129.4,469.8 L129.8,471.2 L130.2,466.7 L130.6,469.8 L131,471 L131.4,470.5 L131.8,467.6 L132.2,464.6 L132.6,468.3 L133,465.5 L133.4,467.9 L133.8,465.6 L134.2,466 L134.6,467.3 L135,469.1 L135.4,470.4 L135.8,466 L136.2,462.9 L136.6,468.7 L137,465.5 L137.4,468.5 L137.8,468.8 L138.2,462.4 L138.6,467.5 L139,463.8 L139.4,464.7 L139.8,465.3 L140.2,467.5 L140.6,465.8 L141,468.3 L141.4,466.4 L141.8,464.9 L142.2,465.6 L142.6,468.7 L143,465.6 L143.4,464.2 L143.8,464.9 L144.2,463.2 L144.6,468.6 L145,466.5 L145.4,462.1 L145.8,463.7 L146.2,465.2 L146.6,466.4 L147,465.7 L147.4,466.8 L147.8,468.6 L148.2,463.9 L148.6,467 L149,464 L149.4,466.8 L149.8,465.1 L150.2,468.8 L150.6,469.3 L151,469.9 L151.4,466.5 L151.8,468.9 L152.2,466.3 L152.6,471.3 L153,472.6 L153.4,469.7 L153.8,468.6 L154.2,471.7 L154.6,471.3 L155,471.4 L155.4,466.2 L155.8,464.5 L156.2,463.3 L156.6,461.5 L157,458.7 L157.4,460.8 L157.8,464.7 L158.2,465.4 L158.6,470 L159,467.3 L159.4,465.9 L159.8,471.9 L160.2,465.6 L160.6,467.8 L161,471.2 L161.4,467.9 L161.8,472.8 L162.2,471.3 L162.6,468.1 L163,472.3 L163.4,472.6 L163.8,469.4 L164.2,466.4 L164.6,466 L165,471.2 L165.4,470.8 L165.8,468.2 L166.2,468.2 L166.6,467.5 L167,462.4 L167.4,463.1 L167.8,469 L168.2,469.7 L168.6,467.6 L169,467.2 L169.4,465.5 L169.8,467.7 L170.2,471.2 L170.6,465.7 L171,466.3 L171.4,464.6 L171.8,469.1 L172.2,465.7 L172.6,470.8 L173,469.8 L173.4,469 L173.8,467.5 L174.2,467.5 L174.6,471.6 L175,471.6 L175.4,469.6 L175.8,465 L176.2,464.3 L176.6,464.8 L177,468 L177.4,469.6 L177.8,465.4 L178.2,469.4 L178.6,468.6 L179,470.2 L179.4,467.4 L179.8,470.3 L180.2,469.8 L180.6,470 L181,465.6 L181.4,466.1 L181.8,468.3 L182.2,465.2 L182.6,471.5 L183,471.4 L183.4,467.2 L183.8,468.3 L184.2,468.7 L184.6,471.2 L185,469.8 L185.4,466.1 L185.8,471.1 L186.2,470.6 L186.6,469.8 L187,466.7 L187.4,466.1 L187.8,465 L188.2,468.7 L188.6,464.5 L189,467.5 L189.4,462.2 L189.8,461.5 L190.2,465.2 L190.6,463.7 L191,464.5 L191.4,462.9 L191.8,463.5 L192.2,465.9 L192.6,463.3 L193,464.8 L193.4,467.3 L193.8,465 L194.2,465.6 L194.6,466.3 L195,465.7 L195.4,467.9 L195.8,469.5 L196.2,464 L196.6,467.7 L197,467.7 L197.4,471 L197.8,470.1 L198.2,467.5 L198.6,470.6 L199,473.2 L199.4,473.2 L199.8,471.5 L200.2,466.3 L200.6,467.9 L201,468.3 L201.4,467.4 L201.8,470.8 L202.2,469.1 L202.6,472.9 L203,466.1 L203.4,471.1 L203.8,465.4 L204.2,467.6 L204.6,464.1 L205,465.1 L205.4,467 L205.8,469.7 L206.2,463.3 L206.6,466.1 L207,464.3 L207.4,469.3 L207.8,465.4 L208.2,466.2 L208.6,471.1 L209,466 L209.4,472.1 L209.8,467.6 L210.2,472.9 L210.6,466.5 L211,466.5 L211.4,469.1 L211.8,467.8 L212.2,470.2 L212.6,467.6 L213,467.7 L213.4,465.1 L213.8,465.3 L214.2,464.3 L214.6,467.2 L215,469.9 L215.4,467.2 L215.8,465.5 L216.2,466.3 L216.6,468.3 L217,468.9 L217.4,464.2 L217.8,469 L218.2,467.4 L218.6,472.9 L219,472.3 L219.4,470.6 L219.8,470.3 L220.2,470.2 L220.6,464.5 L221,465.5 L221.4,463.6 L221.8,464.5 L222.2,470.2 L222.6,467.7 L223,465.2 L223.4,466.4 L223.8,468 L224.2,466.2 L224.6,472 L225,469.5 L225.4,466.8 L225.8,469.5 L226.2,468.4 L226.6,470.4 L227,466.4 L227.4,466 L227.8,467.6 L228.2,466.7 L228.6,464.5 L229,468.6 L229.4,470 L229.8,470.2 L230.2,469.5 L230.6,468.6 L231,471.3 L231.4,466.9 L231.8,465.8 L232.2,466.2 L232.6,468.2 L233,465.6 L233.4,467.7 L233.8,470.8 L234.2,469.9 L234.6,467.4 L235,467.4 L235.4,466.1 L235.8,466 L236.2,467 L236.6,469.7 L237,470.1 L237.4,466.8 L237.8,464.1 L238.2,467.5 L238.6,470.1 L239,463.3 L239.4,468.6 L239.8,472.3 L240.2,468.6 L240.6,471.5 L241,474.1 L241.4,472.7 L241.8,468.8 L242.2,472.8 L242.6,471 L243,471.1 L243.4,470.3 L243.8,471.6" fill="none" stroke="#9a5a44" stroke-width="0.9"/>
<path d="M93,464.7 L93.5,466.9 L94,468.2 L94.5,469.5 L95,466.8 L95.5,468.7 L96,466.2 L96.5,470.2 L97,466.7 L97.5,468.4 L98,468.8 L98.5,467.8 L99,466.6 L99.5,468.2 L100,467.7 L100.5,468.7 L101,470.1 L101.5,466.3 L102,465.9 L102.5,465.4 L103,466.2 L103.5,468.6 L104,465.8 L104.5,467.2 L105,470.2 L105.5,466 L106,464.7 L106.5,463.9 L107,467.5 L107.5,463.1 L108,464.3 L108.5,466.5 L109,465.7 L109.5,466.3 L110,467.1 L110.5,463.9 L111,467.2 L111.5,467.2 L112,468.9 L112.5,465.5 L113,465.7 L113.5,463.8 L114,466.5 L114.5,465.3 L115,469 L115.5,467.3 L116,471.3 L116.5,468.4 L117,468.4 L117.5,470 L118,473 L118.5,469.9 L119,472.6 L119.5,470.5 L120,466.9 L120.5,469.5 L121,465.6 L121.5,468.7 L122,467.2 L122.5,467.2 L123,468.8 L123.5,466.9 L124,466.3 L124.5,465.9 L125,468 L125.5,469 L126,467.1 L126.5,467.6 L127,468 L127.5,466.4 L128,463.6 L128.5,467.1 L129,464.4 L129.5,466.5 L130,468.2 L130.5,467.8 L131,470.5 L131.5,467.4 L132,469.1 L132.5,470.8 L133,470 L133.5,468 L134,470.6 L134.5,470.7 L135,468.5 L135.5,470 L136,469.8 L136.5,466.1 L137,463.9 L137.5,464.5 L138,468.5 L138.5,467.1 L139,463.2 L139.5,467.5 L140,468 L140.5,467.1 L141,467.3 L141.5,467.3 L142,463.7 L142.5,466 L143,462.8 L143.5,466.2 L144,466 L144.5,466.6 L145,466.5 L145.5,467.3 L146,462.4 L146.5,466.6 L147,467.1 L147.5,464.9 L148,464.8 L148.5,463.9 L149,465.2 L149.5,464.9 L150,468 L150.5,466.5 L151,466.4 L151.5,471.4 L152,466.9 L152.5,470.6 L153,467.8 L153.5,470.3 L154,467.5 L154.5,465.5 L155,464.8 L155.5,464.1 L156,467.1 L156.5,467.9 L157,467.2 L157.5,468.8 L158,468.4 L158.5,467.4 L159,465.2 L159.5,468.2 L160,470.1 L160.5,470.3 L161,467.4 L161.5,468.9 L162,470.8 L162.5,466.8 L163,468.1 L163.5,467.1 L164,468.6 L164.5,465.3 L165,464.2 L165.5,467.7 L166,465.4 L166.5,467.4 L167,467.6 L167.5,468.7 L168,467.6 L168.5,467.2 L169,470.2 L169.5,467.7 L170,466.7 L170.5,466.4 L171,469.4 L171.5,467.4 L172,466.9 L172.5,468.4 L173,464.2 L173.5,468.5 L174,467 L174.5,465.7 L175,469.7 L175.5,467.2 L176,466.1 L176.5,467.8 L177,466.1 L177.5,467.5 L178,468.2 L178.5,467.7 L179,470.4 L179.5,466.6 L180,469.4 L180.5,467.4 L181,466.4 L181.5,464.7 L182,463.7 L182.5,463.2 L183,463.5 L183.5,465.7 L184,465.4 L184.5,466.7 L185,467.4 L185.5,464.9 L186,466.2 L186.5,467.7 L187,467.5 L187.5,467.3 L188,466.8 L188.5,466.9 L189,464.7 L189.5,467.1 L190,465.3 L190.5,464.2 L191,465.5 L191.5,465.2 L192,469.6 L192.5,470.4 L193,468.7 L193.5,467.7 L194,470.8 L194.5,467.1 L195,465.8 L195.5,470.1 L196,469 L196.5,466.1 L197,469.2 L197.5,466.4 L198,467.7 L198.5,468.4 L199,470.3 L199.5,467.8 L200,467.3 L200.5,464.5 L201,467.8 L201.5,468.5 L202,466 L202.5,468 L203,468.7 L203.5,466.1 L204,465.7 L204.5,470.2 L205,467.2 L205.5,468.3 L206,470.4 L206.5,471.2 L207,470.5 L207.5,470.6 L208,471.3 L208.5,470.1 L209,468.7 L209.5,469.1 L210,466.3 L210.5,465.9 L211,462.6 L211.5,465.3 L212,465.9 L212.5,468.2 L213,465.9 L213.5,467.8 L214,465.7 L214.5,464.7 L215,467.5 L215.5,468 L216,466.8 L216.5,469 L217,468.8 L217.5,469 L218,465.3 L218.5,466.3 L219,464.6 L219.5,467.4 L220,467.3 L220.5,467.1 L221,467.8 L221.5,464.4 L222,462.9 L222.5,463.4 L223,467.1 L223.5,467.7 L224,464.8 L224.5,469.4 L225,470 L225.5,470.8 L226,469.7 L226.5,467.2 L227,464.9 L227.5,465.1 L228,467.2 L228.5,465.3 L229,467.8 L229.5,465.9 L230,463.2 L230.5,464.1 L231,465.4 L231.5,465.5 L232,465.9 L232.5,468.3 L233,468.8 L233.5,468.9 L234,465.9 L234.5,466.5 L235,469.3 L235.5,468.3 L236,466.9 L236.5,466.8 L237,468 L237.5,467.7 L238,467.6 L238.5,469.1 L239,467.7 L239.5,464.9 L240,465.5 L240.5,465.8 L241,467 L241.5,470.8 L242,468 L242.5,467.9 L243,467.3 L243.5,466.6 L244,470.2" fill="none" stroke="#8a4a3a" stroke-width="0.9"/>
<path d="M93,479.4 L93.4,477.6 L93.8,475.7 L94.2,482.2 L94.6,470.5 L95,478.5 L95.4,481.4 L95.8,475.3 L96.2,479.6 L96.6,470.3 L97,473.2 L97.4,470.7 L97.8,472.1 L98.2,476.5 L98.6,469 L99,471.9 L99.4,479.2 L99.8,471.9 L100.2,469.7 L100.6,481.3 L101,474.6 L101.4,466.9 L101.8,474.1 L102.2,467.8 L102.6,467.6 L103,475.9 L103.4,475 L103.8,472.2 L104.2,473.7 L104.6,474.6 L105,473.6 L105.4,468.3 L105.8,477.2 L106.2,476.9 L106.6,471.9 L107,471.3 L107.4,473.9 L107.8,472.3 L108.2,471.8 L108.6,478.4 L109,479.1 L109.4,469.1 L109.8,469.7 L110.2,478 L110.6,480.4 L111,477.2 L111.4,471.2 L111.8,467.9 L112.2,478.4 L112.6,480 L113,477.8 L113.4,477.7 L113.8,481.2 L114.2,475.3 L114.6,481 L115,471.6 L115.4,468.9 L115.8,478.9 L116.2,476.8 L116.6,477.8 L117,468.5 L117.4,470.7 L117.8,474.4 L118.2,467.3 L118.6,470.7 L119,474.3 L119.4,478.6 L119.8,475.7 L120.2,471.4 L120.6,471.5 L121,473 L121.4,476 L121.8,479.5 L122.2,466 L122.6,478.1 L123,476.3 L123.4,465.9 L123.8,468.6 L124.2,468.6 L124.6,468.6 L125,468.7 L125.4,469.2 L125.8,477.2 L126.2,474.8 L126.6,471.2 L127,480.1 L127.4,479.2 L127.8,470.7 L128.2,477.4 L128.6,475.8 L129,471.7 L129.4,466.3 L129.8,475 L130.2,477.7 L130.6,478.3 L131,479.6 L131.4,469.6 L131.8,480.6 L132.2,469.1 L132.6,472.8 L133,475.3 L133.4,476.8 L133.8,475.5 L134.2,480.3 L134.6,478.3 L135,479.2 L135.4,476.6 L135.8,473.4 L136.2,467.5 L136.6,475.4 L137,478.9 L137.4,468.9 L137.8,479.1 L138.2,466 L138.6,470.7 L139,475.8 L139.4,475.7 L139.8,474.4 L140.2,470.9 L140.6,470.9 L141,470 L141.4,476.8 L141.8,468.9 L142.2,470.6 L142.6,478.5 L143,475.2 L143.4,469.9 L143.8,475.1 L144.2,481.6 L144.6,476.2 L145,473 L145.4,471.3 L145.8,476 L146.2,472 L146.6,471.7 L147,468.3 L147.4,474.7 L147.8,476.4 L148.2,472 L148.6,473.8 L149,470.1 L149.4,479.5 L149.8,470.8 L150.2,479.3 L150.6,468 L151,476.5 L151.4,479.3 L151.8,475.6 L152.2,471.3 L152.6,470.8 L153,481.5 L153.4,482 L153.8,472.8 L154.2,475.5 L154.6,481.3 L155,482.3 L155.4,472.1 L155.8,478 L156.2,473.6 L156.6,470.8 L157,477.9 L157.4,474.7 L157.8,470.5 L158.2,477.5 L158.6,472 L159,471.3 L159.4,471.8 L159.8,470.6 L160.2,478.8 L160.6,472.6 L161,480.6 L161.4,477.8 L161.8,476.2 L162.2,481 L162.6,474.8 L163,469.8 L163.4,476.9 L163.8,468.7 L164.2,478.9 L164.6,478.7 L165,470.7 L165.4,467.1 L165.8,478.3 L166.2,469.8 L166.6,478.9 L167,473 L167.4,478.4 L167.8,477.8 L168.2,468.4 L168.6,470.3 L169,471.1 L169.4,467.9 L169.8,476.6 L170.2,468 L170.6,468.7 L171,468.4 L171.4,468.4 L171.8,477 L172.2,469.8 L172.6,474.5 L173,468.7 L173.4,477.1 L173.8,476.7 L174.2,478.5 L174.6,467.5 L175,475.1 L175.4,475.9 L175.8,471.1 L176.2,475.5 L176.6,471 L177,474.3 L177.4,477.9 L177.8,477.9 L178.2,472.2 L178.6,471.6 L179,480.5 L179.4,472 L179.8,474.9 L180.2,474.2 L180.6,473.5 L181,475.6 L181.4,470.5 L181.8,474.7 L182.2,477.2 L182.6,479.3 L183,474.8 L183.4,471.6 L183.8,472.2 L184.2,471 L184.6,470.3 L185,472 L185.4,472.8 L185.8,479.4 L186.2,476.9 L186.6,478.7 L187,473.4 L187.4,469.7 L187.8,474.2 L188.2,475.7 L188.6,479.2 L189,469.9 L189.4,476.1 L189.8,478.3 L190.2,471.3 L190.6,472.7 L191,467.5 L191.4,474.1 L191.8,467.1 L192.2,476.3 L192.6,476.4 L193,477.7 L193.4,478.3 L193.8,469.4 L194.2,479.1 L194.6,477.1 L195,480.1 L195.4,479.5 L195.8,474.6 L196.2,479.1 L196.6,471 L197,480 L197.4,476.2 L197.8,477.6 L198.2,474.2 L198.6,474.3 L199,470.2 L199.4,476.7 L199.8,473.2 L200.2,469.5 L200.6,475.7 L201,473.5 L201.4,471.7 L201.8,476.2 L202.2,471.6 L202.6,474.7 L203,473.1 L203.4,471 L203.8,471.2 L204.2,474.4 L204.6,470 L205,470.3 L205.4,472.4 L205.8,477.5 L206.2,471.4 L206.6,478.4 L207,473.4 L207.4,480.8 L207.8,471.1 L208.2,480 L208.6,479.6 L209,479.6 L209.4,477.2 L209.8,473.2 L210.2,480.8 L210.6,472.2 L211,477.3 L211.4,473.3 L211.8,468.9 L212.2,472.4 L212.6,470.8 L213,475.8 L213.4,469.1 L213.8,476.4 L214.2,467.3 L214.6,468 L215,474.3 L215.4,478 L215.8,474.3 L216.2,469 L216.6,477.5 L217,474.7 L217.4,466.9 L217.8,468.3 L218.2,471.9 L218.6,474.1 L219,475.2 L219.4,478.9 L219.8,477 L220.2,481.6 L220.6,475 L221,474 L221.4,477.4 L221.8,479.9 L222.2,474.3 L222.6,469.7 L223,473 L223.4,470.6 L223.8,478.1 L224.2,471.2 L224.6,472.2 L225,473.7 L225.4,467.7 L225.8,468.5 L226.2,473.7 L226.6,471.1 L227,469.3 L227.4,477.5 L227.8,477.3 L228.2,475.9 L228.6,470.4 L229,478.1 L229.4,480.1 L229.8,470.1 L230.2,476.5 L230.6,469.4 L231,470 L231.4,472.5 L231.8,479.6 L232.2,473.9 L232.6,474.8 L233,478.7 L233.4,473.2 L233.8,472.1 L234.2,469.8 L234.6,471.5 L235,475.5 L235.4,478.2 L235.8,479.1 L236.2,470.8 L236.6,475 L237,470.9 L237.4,473.5 L237.8,467.4 L238.2,477.5 L238.6,475.7 L239,475.4 L239.4,474 L239.8,471.6 L240.2,477.1 L240.6,473.8 L241,475.9 L241.4,472 L241.8,471.5 L242.2,477.7 L242.6,473.6 L243,471 L243.4,474.2 L243.8,475.9" fill="none" stroke="#6cb53a" stroke-width="0.9"/>
<path d="M93,469.4 L93.4,470.6 L93.8,474.2 L94.2,474.6 L94.6,469.2 L95,468.8 L95.4,472.2 L95.8,473.4 L96.2,468.4 L96.6,471.8 L97,470.6 L97.4,469.2 L97.8,470 L98.2,471.1 L98.6,472.7 L99,470.1 L99.4,474.4 L99.8,476.6 L100.2,475.3 L100.6,469.9 L101,474 L101.4,473.4 L101.8,467.9 L102.2,470.4 L102.6,472 L103,475.3 L103.4,476.1 L103.8,474.2 L104.2,475.3 L104.6,479.2 L105,474.2 L105.4,476.1 L105.8,472.2 L106.2,477.4 L106.6,475.9 L107,472 L107.4,471.4 L107.8,474.2 L108.2,476.1 L108.6,471.4 L109,473 L109.4,474.6 L109.8,472.8 L110.2,477.6 L110.6,476.2 L111,477.9 L111.4,475.3 L111.8,475.5 L112.2,472.2 L112.6,474.1 L113,473.7 L113.4,474.3 L113.8,471.2 L114.2,477.5 L114.6,472.2 L115,474.4 L115.4,477.8 L115.8,474.3 L116.2,476.9 L116.6,471.9 L117,473.3 L117.4,472.8 L117.8,472.6 L118.2,473.2 L118.6,474 L119,477.3 L119.4,478.5 L119.8,471.7 L120.2,476.1 L120.6,475.1 L121,474.2 L121.4,471.2 L121.8,473.8 L122.2,473.4 L122.6,473.7 L123,475.5 L123.4,473.7 L123.8,473.1 L124.2,472.9 L124.6,478.2 L125,473.4 L125.4,477.7 L125.8,471.2 L126.2,474.9 L126.6,473.8 L127,475.4 L127.4,474.2 L127.8,477.3 L128.2,475.4 L128.6,471.6 L129,476.9 L129.4,476.1 L129.8,473 L130.2,476.6 L130.6,477.2 L131,472.6 L131.4,471.4 L131.8,472.6 L132.2,474.9 L132.6,473.9 L133,471 L133.4,474 L133.8,474.8 L134.2,475 L134.6,473.3 L135,476.6 L135.4,475.8 L135.8,472.6 L136.2,473.3 L136.6,477.9 L137,472.6 L137.4,474.5 L137.8,473.6 L138.2,475.9 L138.6,477.7 L139,472 L139.4,472.1 L139.8,470.6 L140.2,470.6 L140.6,473.2 L141,472.4 L141.4,476.4 L141.8,473.1 L142.2,474.1 L142.6,470.7 L143,472.7 L143.4,473.8 L143.8,473.2 L144.2,477.2 L144.6,474.2 L145,471.9 L145.4,474.8 L145.8,471.8 L146.2,471.7 L146.6,474.7 L147,470.5 L147.4,475.3 L147.8,472.6 L148.2,469.5 L148.6,474.6 L149,477.3 L149.4,476 L149.8,477.3 L150.2,478.5 L150.6,473.8 L151,475.4 L151.4,477.3 L151.8,474.6 L152.2,478.8 L152.6,474.6 L153,471.5 L153.4,471.9 L153.8,474.2 L154.2,470.9 L154.6,475.2 L155,478 L155.4,477.3 L155.8,477.5 L156.2,471.7 L156.6,471 L157,470 L157.4,476.3 L157.8,469.2 L158.2,469.7 L158.6,474.3 L159,476.5 L159.4,473.5 L159.8,470 L160.2,469.9 L160.6,475.8 L161,474.8 L161.4,471.9 L161.8,476.9 L162.2,471.6 L162.6,470.5 L163,477.1 L163.4,470.7 L163.8,473.5 L164.2,472.6 L164.6,476.5 L165,475.9 L165.4,473.6 L165.8,475.9 L166.2,471.4 L166.6,477.5 L167,475.5 L167.4,470.7 L167.8,473.9 L168.2,471.8 L168.6,474.4 L169,472.7 L169.4,472.3 L169.8,474.7 L170.2,471 L170.6,477.2 L171,475.1 L171.4,470.3 L171.8,472.5 L172.2,468.7 L172.6,469.1 L173,471.3 L173.4,474.3 L173.8,469.9 L174.2,476.9 L174.6,472.3 L175,471.9 L175.4,474.5 L175.8,477.8 L176.2,474.4 L176.6,475.5 L177,479.1 L177.4,475.4 L177.8,473.8 L178.2,472.3 L178.6,474.5 L179,475 L179.4,474.4 L179.8,471.2 L180.2,469.5 L180.6,476.3 L181,473.9 L181.4,474.7 L181.8,474.4 L182.2,471.6 L182.6,470.1 L183,476.1 L183.4,475.9 L183.8,470 L184.2,474.5 L184.6,473.7 L185,470.3 L185.4,474.5 L185.8,475.2 L186.2,473.9 L186.6,472.6 L187,477.1 L187.4,475.4 L187.8,472.4 L188.2,475.9 L188.6,476.8 L189,472.8 L189.4,474.1 L189.8,470.6 L190.2,470.9 L190.6,476.2 L191,476.9 L191.4,476.8 L191.8,471.1 L192.2,475.2 L192.6,473 L193,471.7 L193.4,476.8 L193.8,471 L194.2,470.9 L194.6,472.8 L195,471.3 L195.4,473.1 L195.8,474.8 L196.2,474 L196.6,476.7 L197,473.3 L197.4,470.7 L197.8,473.4 L198.2,469.4 L198.6,473.8 L199,470.5 L199.4,473.2 L199.8,473.1 L200.2,477 L200.6,471.4 L201,472.8 L201.4,473.2 L201.8,474.7 L202.2,473.9 L202.6,478.3 L203,478 L203.4,478.2 L203.8,476.2 L204.2,477.1 L204.6,475.3 L205,472.8 L205.4,472.5 L205.8,472.7 L206.2,476.5 L206.6,475.5 L207,470.5 L207.4,472 L207.8,470.1 L208.2,473 L208.6,471.9 L209,473.1 L209.4,472.5 L209.8,472.9 L210.2,473.5 L210.6,476.1 L211,471.2 L211.4,476.5 L211.8,475.6 L212.2,477.4 L212.6,473.1 L213,474.4 L213.4,478.3 L213.8,478.1 L214.2,472.6 L214.6,472.8 L215,471.9 L215.4,471.3 L215.8,476.1 L216.2,473.3 L216.6,473.1 L217,476.9 L217.4,475.3 L217.8,477.8 L218.2,475.6 L218.6,473.9 L219,471 L219.4,473.8 L219.8,473.8 L220.2,474.3 L220.6,476.2 L221,473 L221.4,474.6 L221.8,476.9 L222.2,478.1 L222.6,477.5 L223,473.3 L223.4,477.1 L223.8,475.9 L224.2,473.2 L224.6,474.7 L225,476.3 L225.4,476.6 L225.8,472.8 L226.2,474.7 L226.6,476.2 L227,472.9 L227.4,477.3 L227.8,477.4 L228.2,475.9 L228.6,478.6 L229,474 L229.4,473.7 L229.8,478.6 L230.2,475.8 L230.6,471.3 L231,474.1 L231.4,473.1 L231.8,476.5 L232.2,477.3 L232.6,471.5 L233,475.4 L233.4,476.8 L233.8,471.7 L234.2,474.1 L234.6,471.3 L235,473.5 L235.4,474.9 L235.8,475.7 L236.2,472.4 L236.6,475 L237,474.1 L237.4,473 L237.8,474.3 L238.2,476.6 L238.6,476.7 L239,474.4 L239.4,477.3 L239.8,474.5 L240.2,474.6 L240.6,472.6 L241,474.3 L241.4,471 L241.8,476.3 L242.2,472.8 L242.6,472.5 L243,475.8 L243.4,474.4 L243.8,472.6" fill="none" stroke="#64ad34" stroke-width="1.0"/>
<path d="M93,477.2 L93.4,478 L93.8,475.7 L94.2,479.2 L94.6,480.5 L95,476.6 L95.4,474.3 L95.8,479 L96.2,473.5 L96.6,471.4 L97,479.9 L97.4,473.7 L97.8,472 L98.2,477.8 L98.6,471 L99,477.5 L99.4,478.4 L99.8,472 L100.2,477.7 L100.6,476 L101,472.6 L101.4,472.5 L101.8,472.7 L102.2,477 L102.6,481.5 L103,476.8 L103.4,476.5 L103.8,475.1 L104.2,477.3 L104.6,477.3 L105,473.3 L105.4,472.7 L105.8,471.2 L106.2,477.7 L106.6,476.5 L107,471.7 L107.4,479.2 L107.8,477.7 L108.2,471.1 L108.6,477.6 L109,471.4 L109.4,475.8 L109.8,480.3 L110.2,477 L110.6,471.9 L111,470.9 L111.4,478.5 L111.8,468.8 L112.2,470.9 L112.6,470.5 L113,472.5 L113.4,473.9 L113.8,479.1 L114.2,475.5 L114.6,477.2 L115,480.1 L115.4,477.1 L115.8,473.6 L116.2,480.6 L116.6,479.1 L117,473.2 L117.4,477 L117.8,481.2 L118.2,472.3 L118.6,479.2 L119,479.7 L119.4,475.5 L119.8,479.5 L120.2,479.4 L120.6,476.6 L121,480.1 L121.4,474.8 L121.8,476.1 L122.2,471.5 L122.6,477 L123,474.9 L123.4,472.5 L123.8,475.9 L124.2,472.9 L124.6,474.5 L125,470.7 L125.4,474.2 L125.8,470.9 L126.2,474.5 L126.6,475.5 L127,474.5 L127.4,475.8 L127.8,478.9 L128.2,474 L128.6,478.7 L129,479 L129.4,474.2 L129.8,472.1 L130.2,478.7 L130.6,480.2 L131,477.7 L131.4,472.4 L131.8,477.5 L132.2,476.5 L132.6,475.6 L133,475.8 L133.4,476.5 L133.8,479.3 L134.2,480 L134.6,472.8 L135,475.9 L135.4,477.1 L135.8,478.3 L136.2,479.4 L136.6,475.6 L137,477.7 L137.4,470.3 L137.8,479.1 L138.2,478.2 L138.6,473.8 L139,476.6 L139.4,471.9 L139.8,473.7 L140.2,475.9 L140.6,478.1 L141,479.2 L141.4,477.3 L141.8,476 L142.2,478.8 L142.6,480.3 L143,479.2 L143.4,474.4 L143.8,481 L144.2,480.8 L144.6,475.9 L145,482.1 L145.4,474.5 L145.8,483 L146.2,474.3 L146.6,476.2 L147,480 L147.4,474.4 L147.8,472.2 L148.2,472.7 L148.6,480.3 L149,472.5 L149.4,479.3 L149.8,475.2 L150.2,476.9 L150.6,474.6 L151,472.4 L151.4,472.9 L151.8,471.6 L152.2,474.3 L152.6,479.5 L153,476.9 L153.4,473.4 L153.8,473.8 L154.2,474.3 L154.6,477.6 L155,478.9 L155.4,480 L155.8,471.9 L156.2,472.4 L156.6,474.9 L157,475.5 L157.4,473.7 L157.8,478.8 L158.2,474.3 L158.6,479.2 L159,475.6 L159.4,473.6 L159.8,471.8 L160.2,475.4 L160.6,475 L161,479.3 L161.4,479.7 L161.8,478.1 L162.2,479 L162.6,483.3 L163,474.5 L163.4,473.5 L163.8,479.5 L164.2,474.1 L164.6,477.1 L165,477.8 L165.4,471 L165.8,479.2 L166.2,478.5 L166.6,477.6 L167,480.8 L167.4,474.5 L167.8,475.5 L168.2,478.2 L168.6,480.8 L169,478.6 L169.4,480.3 L169.8,480.7 L170.2,478.5 L170.6,476.8 L171,476 L171.4,473.2 L171.8,479.7 L172.2,473.6 L172.6,476 L173,474.8 L173.4,480.1 L173.8,474.2 L174.2,479.3 L174.6,472.9 L175,476.6 L175.4,473.5 L175.8,480.5 L176.2,475.8 L176.6,474.4 L177,475.2 L177.4,474.8 L177.8,473.3 L178.2,480 L178.6,476.8 L179,479.7 L179.4,475.5 L179.8,477.7 L180.2,472.2 L180.6,475.5 L181,479.4 L181.4,475.1 L181.8,474.5 L182.2,475.6 L182.6,473.5 L183,475.6 L183.4,477.1 L183.8,476.1 L184.2,473.6 L184.6,475.1 L185,480.7 L185.4,473.5 L185.8,480.8 L186.2,476.9 L186.6,477.8 L187,473.1 L187.4,480.5 L187.8,475.1 L188.2,471.8 L188.6,477.6 L189,471.6 L189.4,471.4 L189.8,477.1 L190.2,479 L190.6,475.6 L191,472.8 L191.4,473.8 L191.8,473 L192.2,477.5 L192.6,474.2 L193,478.8 L193.4,478.2 L193.8,474.9 L194.2,479.1 L194.6,475 L195,476.1 L195.4,472.3 L195.8,480.6 L196.2,479.2 L196.6,479.9 L197,478.4 L197.4,478.7 L197.8,476.2 L198.2,471.8 L198.6,472.1 L199,476.6 L199.4,477.3 L199.8,478.6 L200.2,477.9 L200.6,475.5 L201,471.8 L201.4,476.8 L201.8,472.7 L202.2,475.5 L202.6,478.8 L203,476.5 L203.4,479.3 L203.8,477.5 L204.2,477.6 L204.6,474.5 L205,478.9 L205.4,477.5 L205.8,473.5 L206.2,473.3 L206.6,476.5 L207,471.9 L207.4,477.3 L207.8,478 L208.2,476.7 L208.6,474.6 L209,477.3 L209.4,471.7 L209.8,473.2 L210.2,471 L210.6,475.7 L211,471.2 L211.4,473.8 L211.8,476.7 L212.2,473.9 L212.6,475.5 L213,472.7 L213.4,474.6 L213.8,476 L214.2,476.7 L214.6,473.9 L215,478.4 L215.4,479.9 L215.8,476.5 L216.2,478.6 L216.6,479.5 L217,474.2 L217.4,481 L217.8,475.2 L218.2,476.4 L218.6,479 L219,477 L219.4,477.1 L219.8,476 L220.2,471.9 L220.6,478.2 L221,476.3 L221.4,479.1 L221.8,476.7 L222.2,480 L222.6,476.7 L223,474.2 L223.4,474.6 L223.8,480.1 L224.2,478.2 L224.6,477.8 L225,472.3 L225.4,475.3 L225.8,478.2 L226.2,478.5 L226.6,479.4 L227,473.6 L227.4,474.8 L227.8,478.2 L228.2,474.7 L228.6,477 L229,478.6 L229.4,471.5 L229.8,471.9 L230.2,473.6 L230.6,472.1 L231,476.9 L231.4,470.4 L231.8,471.6 L232.2,476.4 L232.6,470.2 L233,471.9 L233.4,473.6 L233.8,473.1 L234.2,476.1 L234.6,476 L235,473.7 L235.4,477.2 L235.8,476.3 L236.2,473.1 L236.6,479.4 L237,474.3 L237.4,477.8 L237.8,475.8 L238.2,477.1 L238.6,474.5 L239,480.3 L239.4,475.1 L239.8,478.2 L240.2,479.5 L240.6,479.2 L241,479.2 L241.4,478.2 L241.8,479.5 L242.2,478.3 L242.6,475 L243,475.2 L243.4,478.3 L243.8,477.4" fill="none" stroke="#7cc244" stroke-width="0.9"/>
<rect x="107" y="388" width="0.9" height="100" fill="#fff" fill-opacity="0.6"/>
<rect x="129" y="388" width="0.9" height="100" fill="#fff" fill-opacity="0.6"/>
<rect x="148" y="388" width="0.9" height="100" fill="#fff" fill-opacity="0.6"/>
<rect x="178" y="388" width="0.9" height="100" fill="#fff" fill-opacity="0.6"/>
<rect x="211" y="388" width="0.9" height="100" fill="#fff" fill-opacity="0.6"/>
<path d="M299.2,377 L299.2,507.1 L462.5,507.1" fill="none" stroke="#555" stroke-width="0.9" stroke-linejoin="round"/>
<text x="288.7" y="382.4" font-family='"Liberation Serif",serif' font-size="11" text-anchor="end" font-weight="normal" fill="#222">2</text>
<path d="M299.2,378.9 L301.2,378.9" fill="none" stroke="#555" stroke-width="0.8" stroke-linejoin="round"/>
<text x="288.7" y="403.8" font-family='"Liberation Serif",serif' font-size="11" text-anchor="end" font-weight="normal" fill="#222">0</text>
<path d="M299.2,400.3 L301.2,400.3" fill="none" stroke="#555" stroke-width="0.8" stroke-linejoin="round"/>
<text x="288.7" y="425.2" font-family='"Liberation Serif",serif' font-size="11" text-anchor="end" font-weight="normal" fill="#222">-2</text>
<path d="M299.2,421.7 L301.2,421.7" fill="none" stroke="#555" stroke-width="0.8" stroke-linejoin="round"/>
<text x="288.7" y="446.6" font-family='"Liberation Serif",serif' font-size="11" text-anchor="end" font-weight="normal" fill="#222">-4</text>
<path d="M299.2,443.1 L301.2,443.1" fill="none" stroke="#555" stroke-width="0.8" stroke-linejoin="round"/>
<text x="288.7" y="468" font-family='"Liberation Serif",serif' font-size="11" text-anchor="end" font-weight="normal" fill="#222">-6</text>
<path d="M299.2,464.5 L301.2,464.5" fill="none" stroke="#555" stroke-width="0.8" stroke-linejoin="round"/>
<text x="288.7" y="489.4" font-family='"Liberation Serif",serif' font-size="11" text-anchor="end" font-weight="normal" fill="#222">-8</text>
<path d="M299.2,485.9 L301.2,485.9" fill="none" stroke="#555" stroke-width="0.8" stroke-linejoin="round"/>
<text x="288.7" y="510.8" font-family='"Liberation Serif",serif' font-size="11" text-anchor="end" font-weight="normal" fill="#222">-10</text>
<path d="M299.2,507.3 L301.2,507.3" fill="none" stroke="#555" stroke-width="0.8" stroke-linejoin="round"/>
<text x="294.5" y="517" font-family='"Liberation Serif",serif' font-size="11" text-anchor="middle" font-weight="normal" fill="#222">0</text>
<text x="332" y="517" font-family='"Liberation Serif",serif' font-size="11" text-anchor="middle" font-weight="normal" fill="#222">2</text>
<path d="M332,507.1 L332,505.1" fill="none" stroke="#555" stroke-width="0.8" stroke-linejoin="round"/>
<text x="364.6" y="517" font-family='"Liberation Serif",serif' font-size="11" text-anchor="middle" font-weight="normal" fill="#222">4</text>
<path d="M364.6,507.1 L364.6,505.1" fill="none" stroke="#555" stroke-width="0.8" stroke-linejoin="round"/>
<text x="397.1" y="517" font-family='"Liberation Serif",serif' font-size="11" text-anchor="middle" font-weight="normal" fill="#222">6</text>
<path d="M397.1,507.1 L397.1,505.1" fill="none" stroke="#555" stroke-width="0.8" stroke-linejoin="round"/>
<text x="429.7" y="517" font-family='"Liberation Serif",serif' font-size="11" text-anchor="middle" font-weight="normal" fill="#222">8</text>
<path d="M429.7,507.1 L429.7,505.1" fill="none" stroke="#555" stroke-width="0.8" stroke-linejoin="round"/>
<text x="462.2" y="517" font-family='"Liberation Serif",serif' font-size="11" text-anchor="middle" font-weight="normal" fill="#222">10</text>
<path d="M462.2,507.1 L462.2,505.1" fill="none" stroke="#555" stroke-width="0.8" stroke-linejoin="round"/>
<text x="302" y="378" font-family='"Liberation Serif",serif' font-size="7.5" text-anchor="start" font-weight="normal" fill="#222">×10</text>
<text x="315" y="373" font-family='"Liberation Serif",serif' font-size="5.5" text-anchor="start" font-weight="normal" fill="#222">4</text>
<text x="274" y="445" font-family='"Liberation Serif",serif' font-size="8" text-anchor="middle" font-weight="normal" fill="#222" transform="rotate(-90 274 445)" font-style="italic">δ /°</text>
<text x="383.5" y="524" font-family='"Liberation Serif",serif' font-size="8.5" text-anchor="middle" font-weight="normal" fill="#222"><tspan font-style="italic">t</tspan>/s</text>
<text x="377.8" y="536" font-family='"Liberation Serif",serif' font-size="15.6" text-anchor="middle" font-weight="bold" fill="#111">Power angle</text>
<path d="M299.2,400.3 L462,400.3" fill="none" stroke="#8b3a2a" stroke-width="0.9" stroke-linejoin="round"/>
<path d="M375,400.2 L375.8,400.1 L376.6,400.2 L377.4,400.3 L378.2,400.1 L379,400.2 L379.8,400.1 L380.6,399.7 L381.4,400.3 L382.2,400.1 L383,400.3 L383.8,400 L384.6,400.3 L385.4,400.2 L386.2,400.1 L387,400.4 L387.8,400.2 L388.6,400.3 L389.4,400.5 L390.2,400.7 L391,400.8 L391.8,400.8 L392.6,400.8 L393.4,401 L394.2,401 L395,400.8 L395.8,401.1 L396.6,401.5 L397.4,401.5 L398.2,401.7 L399,401.8 L399.8,401.8 L400.6,402.1 L401.4,402.1 L402.2,402.4 L403,402.4 L403.8,402.6 L404.6,403 L405.4,402.8 L406.2,403.4 L407,403.5 L407.8,403.7 L408.6,403.7 L409.4,404.3 L410.2,404.3 L411,404.7 L411.8,404.8 L412.6,405.1 L413.4,405.5 L414.2,405.7 L415,406 L415.8,406.2 L416.6,406.6 L417.4,406.6 L418.2,406.9 L419,407.4 L419.8,407.7 L420.6,408 L421.4,408.3 L422.2,408.6 L423,408.7 L423.8,409.1 L424.6,409.6 L425.4,409.8 L426.2,410.4 L427,410.7 L427.8,411 L428.6,411.4 L429.4,411.8 L430.2,412.2 L431,412.6 L431.8,413.1 L432.6,413.5 L433.4,413.7 L434.2,414.2 L435,414.7 L435.8,415.1 L436.6,415.5 L437.4,416 L438.2,416.3 L439,416.7 L439.8,417.3 L440.6,417.7 L441.4,417.9 L442.2,418.8 L443,419.1 L443.8,419.8 L444.6,420.3 L445.4,420.6 L446.2,421.2 L447,421.7 L447.8,422.4 L448.6,422.6 L449.4,423.3 L450.2,423.8 L451,424.5 L451.8,424.7 L452.6,425.6 L453.4,426.2 L454.2,426.6 L455,427.3 L455.8,427.7 L456.6,428.6 L457.4,428.7 L458.2,429.7 L459,430.1 L459.8,430.9 L460.6,431 L460.6,439 L459.8,438.3 L459,437.6 L458.2,437 L457.4,436.3 L456.6,435.8 L455.8,435 L455,434.2 L454.2,433.6 L453.4,432.9 L452.6,432.4 L451.8,431.6 L451,431 L450.2,430.4 L449.4,429.6 L448.6,429.2 L447.8,428.5 L447,427.8 L446.2,427.6 L445.4,426.8 L444.6,426 L443.8,425.6 L443,424.9 L442.2,424.4 L441.4,423.7 L440.6,423.3 L439.8,422.6 L439,422.3 L438.2,421.8 L437.4,421.1 L436.6,420.6 L435.8,420.1 L435,419.8 L434.2,419 L433.4,418.5 L432.6,418.3 L431.8,417.8 L431,417.2 L430.2,416.7 L429.4,416.2 L428.6,415.7 L427.8,415.5 L427,415 L426.2,414.8 L425.4,414.1 L424.6,413.5 L423.8,413.1 L423,412.7 L422.2,412.4 L421.4,412 L420.6,411.6 L419.8,411.2 L419,410.8 L418.2,410.4 L417.4,410.2 L416.6,409.6 L415.8,409.4 L415,408.9 L414.2,409.1 L413.4,408.4 L412.6,408.4 L411.8,407.8 L411,407.3 L410.2,407.2 L409.4,406.9 L408.6,406.4 L407.8,406.3 L407,406.1 L406.2,405.7 L405.4,405.6 L404.6,405.1 L403.8,404.9 L403,404.7 L402.2,404.3 L401.4,404.3 L400.6,404 L399.8,403.9 L399,403.9 L398.2,403.3 L397.4,403.2 L396.6,403 L395.8,402.7 L395,402.7 L394.2,402.7 L393.4,402.4 L392.6,402.1 L391.8,402 L391,401.9 L390.2,402 L389.4,401.7 L388.6,401.4 L387.8,401.8 L387,401.2 L386.2,401.1 L385.4,401.1 L384.6,401 L383.8,401.1 L383,400.9 L382.2,400.7 L381.4,400.6 L380.6,400.9 L379.8,400.5 L379,400.5 L378.2,400.6 L377.4,400.7 L376.6,400.4 L375.8,400.5 L375,400.3Z" fill="#f0ab6c"/>
<path d="M380,400.4 L381,400.4 L382,400.2 L383,400.7 L384,400 L385,400.4 L386,400.6 L387,400.6 L388,400.7 L389,400.4 L390,401.1 L391,400.7 L392,400.9 L393,401 L394,401.2 L395,401.2 L396,401.8 L397,401.6 L398,402 L399,401.6 L400,402.2 L401,402.3 L402,402.6 L403,402.8 L404,403 L405,403.2 L406,403.4 L407,403.7 L408,404 L409,404.2 L410,404.4 L411,404.9 L412,404.9 L413,405.8 L414,405.9 L415,406.4 L416,406.4 L417,406.5 L418,406.8 L419,407.3 L420,407.7 L421,408.2 L422,408.6 L423,409.2 L424,409 L425,410.3 L426,410.3 L427,410.8 L428,410.9 L429,411.8 L430,411.9 L431,412.8 L432,413.3 L433,413.8 L434,414.2 L435,414.7 L436,415.2 L437,416 L438,416.4 L439,417 L440,418 L441,418.2 L442,418.6 L443,418.9 L444,419.5 L445,420.6 L446,421.4 L447,421.7 L448,422.3 L449,423.2 L450,423.9 L451,424.8 L452,425.2 L453,425.8 L454,426.8 L455,427.2 L456,427.9 L457,428.7 L458,429.6 L459,430.3 L460,431.2 L461,432" fill="none" stroke="#d0603a" stroke-width="0.7" stroke-linejoin="round"/>
<path d="M299.5,400.3 L301.1,400.3 L302.8,400.3 L304.4,400.3 L306,400.3 L307.6,400.3 L309.3,400.3 L310.9,400.3 L312.5,400.3 L314.1,400.3 L315.8,400.3 L317.4,400.3 L319,400.3 L320.7,400.3 L322.3,400.3 L323.9,400.3 L325.5,400.3 L327.2,400.3 L328.8,400.3 L330.4,400.3 L332,400.3 L333.7,400.3 L335.3,400.3 L336.9,400.3 L338.5,400.3 L340.2,400.3 L341.8,400.3 L343.4,400.3 L345.1,400.3 L346.7,400.3 L348.3,400.3 L349.9,400.3 L351.6,400.3 L353.2,400.3 L354.8,400.3 L356.4,400.3 L358.1,400.3 L359.7,400.3 L361.3,400.3 L363,400.3 L364.6,400.3 L366.2,400.3 L367.8,400.3 L369.5,400.3 L371.1,400.3 L372.7,400.3 L374.3,400.3 L376,400.3 L377.6,400.3 L379.2,400.3 L380.9,400.4 L382.5,400.4 L384.1,400.5 L385.7,400.6 L387.4,400.8 L389,401 L390.6,401.2 L392.2,401.4 L393.9,401.6 L395.5,401.9 L397.1,402.2 L398.7,402.6 L400.4,402.9 L402,403.3 L403.6,403.7 L405.3,404.2 L406.9,404.7 L408.5,405.2 L410.1,405.7 L411.8,406.2 L413.4,406.8 L415,407.4 L416.6,408 L418.3,408.7 L419.9,409.4 L421.5,410.1 L423.2,410.8 L424.8,411.6 L426.4,412.4 L428,413.2 L429.7,414.1 L431.3,415 L432.9,415.9 L434.5,416.8 L436.2,417.7 L437.8,418.7 L439.4,419.7 L441,420.8 L442.7,421.8 L444.3,422.9 L445.9,424 L447.6,425.2 L449.2,426.3 L450.8,427.5 L452.4,428.8 L454.1,430 L455.7,431.3 L457.3,432.6 L458.9,433.9 L460.6,435.3 L462.2,436.7" fill="none" stroke="#8a2b1a" stroke-width="0.6" stroke-linejoin="round"/>
<path d="M372.7,400.3 L374.3,400.3 L376,400.3 L377.6,400.3 L379.2,400.3 L380.9,400.4 L382.5,400.4 L384.1,400.5 L385.7,400.6 L387.4,400.7 L389,400.8 L390.6,400.9 L392.2,401 L393.9,401.2 L395.5,401.3 L397.1,401.5 L398.7,401.7 L400.4,401.9 L402,402.2 L403.6,402.4 L405.3,402.6 L406.9,402.9 L408.5,403.2 L410.1,403.5 L411.8,403.8 L413.4,404.1 L415,404.5 L416.6,404.8 L418.3,405.2 L419.9,405.6 L421.5,406 L423.2,406.4 L424.8,406.8 L426.4,407.3 L428,407.7 L429.7,408.2 L431.3,408.7 L432.9,409.2 L434.5,409.7 L436.2,410.2 L437.8,410.8 L439.4,411.3 L441,411.9 L442.7,412.5 L444.3,413.1 L445.9,413.7 L447.6,414.3 L449.2,415 L450.8,415.6 L452.4,416.3 L454.1,417 L455.7,417.7 L457.3,418.4 L458.9,419.1 L460.6,419.9 L462.2,420.6" fill="none" stroke="#4aa3d8" stroke-width="1.0" stroke-linejoin="round"/>
<path d="M327.2,400.3 L328.8,400.3 L330.4,400.4 L332,400.4 L333.7,400.5 L335.3,400.7 L336.9,400.9 L338.5,401.1 L340.2,401.3 L341.8,401.6 L343.4,401.9 L345.1,402.2 L346.7,402.5 L348.3,402.9 L349.9,403.3 L351.6,403.8 L353.2,404.3 L354.8,404.8 L356.4,405.3 L358.1,405.9 L359.7,406.5 L361.3,407.1 L363,407.8 L364.6,408.5 L366.2,409.2 L367.8,410 L369.5,410.8 L371.1,411.6 L372.7,412.5 L374.3,413.4 L376,414.3 L377.6,415.2 L379.2,416.2 L380.9,417.2 L382.5,418.3 L384.1,419.3 L385.7,420.4 L387.4,421.6 L389,422.7 L390.6,423.9 L392.2,425.2 L393.9,426.4 L395.5,427.7 L397.1,429 L398.7,430.4 L400.4,431.8 L402,433.2 L403.6,434.6 L405.3,436.1 L406.9,437.6 L408.5,439.1 L410.1,440.7 L411.8,442.3 L413.4,443.9 L415,445.6 L416.6,447.3 L418.3,449 L419.9,450.8 L421.5,452.5 L423.2,454.4 L424.8,456.2 L426.4,458.1 L428,460 L429.7,461.9 L431.3,463.9 L432.9,465.9 L434.5,468 L436.2,470 L437.8,472.1 L439.4,474.2 L441,476.4 L442.7,478.6 L444.3,480.8 L445.9,483.1 L447.6,485.4 L449.2,487.7 L450.8,490 L452.4,492.4 L454.1,494.8 L455.7,497.2 L457.3,499.7 L458.9,502.2 L460.6,504.7 L462.2,507.3" fill="none" stroke="#8e4fb0" stroke-width="1.0" stroke-linejoin="round"/>
<text x="432.5" y="387.5" font-family='"Liberation Serif",serif' font-size="7.2" text-anchor="middle" font-weight="normal" fill="#333">Gen1</text>
<text x="457" y="387.5" font-family='"Liberation Serif",serif' font-size="7.2" text-anchor="middle" font-weight="normal" fill="#333">Gen2</text>
<text x="480.5" y="387.5" font-family='"Liberation Serif",serif' font-size="7.2" text-anchor="middle" font-weight="normal" fill="#333">Gen3</text>
<text x="446.5" y="393.5" font-family='"Liberation Serif",serif' font-size="7.2" text-anchor="middle" font-weight="normal" fill="#333">Gen4</text>
<text x="471.5" y="393.5" font-family='"Liberation Serif",serif' font-size="7.2" text-anchor="middle" font-weight="normal" fill="#333">Gen10</text>
<text x="457" y="411.5" font-family='"Liberation Serif",serif' font-size="7.2" text-anchor="middle" font-weight="normal" fill="#333">Gen5</text>
<text x="410" y="425.5" font-family='"Liberation Serif",serif' font-size="7.2" text-anchor="middle" font-weight="normal" fill="#333">Gen17</text>
<text x="427" y="437.5" font-family='"Liberation Serif",serif' font-size="7.2" text-anchor="middle" font-weight="normal" fill="#333">Gen7</text>
<text x="439" y="446" font-family='"Liberation Serif",serif' font-size="7.2" text-anchor="middle" font-weight="normal" fill="#333">Gen6</text>
<text x="446.5" y="453" font-family='"Liberation Serif",serif' font-size="7.2" text-anchor="middle" font-weight="normal" fill="#333">Gen19</text>
<text x="397" y="456.5" font-family='"Liberation Serif",serif' font-size="7.2" text-anchor="middle" font-weight="normal" fill="#333">Gen8</text>
<path d="M438,394 L435,400" fill="none" stroke="#333" stroke-width="0.6" stroke-linejoin="round"/>
<path d="M445,410 L441,413" fill="none" stroke="#333" stroke-width="0.6" stroke-linejoin="round"/>
<path d="M421,422 L429,414" fill="none" stroke="#333" stroke-width="0.6" stroke-linejoin="round"/>
<path d="M436,433 L444,425" fill="none" stroke="#333" stroke-width="0.6" stroke-linejoin="round"/>
<path d="M448,442 L458,435" fill="none" stroke="#333" stroke-width="0.6" stroke-linejoin="round"/>
<path d="M456,448 L460,437" fill="none" stroke="#333" stroke-width="0.6" stroke-linejoin="round"/>
<path d="M406,452 L413,446" fill="none" stroke="#333" stroke-width="0.6" stroke-linejoin="round"/>
<path d="M832.2,250 L832.2,355.4 L1004,355.4" fill="none" stroke="#555" stroke-width="0.9" stroke-linejoin="round"/>
<path d="M1003,353.4 L1007.5,355.4 L1003,357.4Z" fill="#555"/>
<path d="M830.4,252 L832.2,247.5 L834,252Z" fill="#555"/>
<text x="822" y="246.5" font-family='"Liberation Serif",serif' font-size="8.5" text-anchor="middle" font-weight="normal" fill="#222">sBTTC</text>
<text x="828.5" y="275.1" font-family='"Liberation Serif",serif' font-size="9.5" text-anchor="end" font-weight="normal" fill="#222">1.4</text>
<path d="M832.2,271.8 L834.2,271.8" fill="none" stroke="#555" stroke-width="0.8" stroke-linejoin="round"/>
<text x="828.5" y="299.1" font-family='"Liberation Serif",serif' font-size="9.5" text-anchor="end" font-weight="normal" fill="#222">1</text>
<path d="M832.2,295.8 L834.2,295.8" fill="none" stroke="#555" stroke-width="0.8" stroke-linejoin="round"/>
<text x="828.5" y="323.1" font-family='"Liberation Serif",serif' font-size="9.5" text-anchor="end" font-weight="normal" fill="#222">0.6</text>
<path d="M832.2,319.8 L834.2,319.8" fill="none" stroke="#555" stroke-width="0.8" stroke-linejoin="round"/>
<text x="828.5" y="347.1" font-family='"Liberation Serif",serif' font-size="9.5" text-anchor="end" font-weight="normal" fill="#222">0.2</text>
<path d="M832.2,343.8 L834.2,343.8" fill="none" stroke="#555" stroke-width="0.8" stroke-linejoin="round"/>
<text x="832.5" y="365" font-family='"Liberation Serif",serif' font-size="9.5" text-anchor="middle" font-weight="normal" fill="#222">0</text>
<text x="867.7" y="365" font-family='"Liberation Serif",serif' font-size="9.5" text-anchor="middle" font-weight="normal" fill="#222">2</text>
<path d="M867.7,355.4 L867.7,353.4" fill="none" stroke="#555" stroke-width="0.8" stroke-linejoin="round"/>
<text x="902.9" y="365" font-family='"Liberation Serif",serif' font-size="9.5" text-anchor="middle" font-weight="normal" fill="#222">4</text>
<path d="M902.9,355.4 L902.9,353.4" fill="none" stroke="#555" stroke-width="0.8" stroke-linejoin="round"/>
<text x="938.1" y="365" font-family='"Liberation Serif",serif' font-size="9.5" text-anchor="middle" font-weight="normal" fill="#222">6</text>
<path d="M938.1,355.4 L938.1,353.4" fill="none" stroke="#555" stroke-width="0.8" stroke-linejoin="round"/>
<text x="973.3" y="365" font-family='"Liberation Serif",serif' font-size="9.5" text-anchor="middle" font-weight="normal" fill="#222">8</text>
<path d="M973.3,355.4 L973.3,353.4" fill="none" stroke="#555" stroke-width="0.8" stroke-linejoin="round"/>
<text x="1004" y="368.5" font-family='"Liberation Serif",serif' font-size="7.5" text-anchor="start" font-weight="normal" fill="#222"><tspan font-style="italic">t</tspan>/s</text>
<text x="920" y="378" font-family='"Liberation Serif",serif' font-size="12.3" text-anchor="middle" font-weight="bold" fill="#111">Predicted value of system sBTTC</text>
<path d="M839.2,324.2 L843.9,316.7 L849.5,309.2 L857.1,290.3 L862.7,258.5 L866,260 L870,275 L876.9,294 L879.7,298 L885.4,300.5 L886,303 L882,310 L877,314 L873.1,302 L867,275 L862.7,261 L859.9,293 L847.6,327 L839.2,333Z" fill="#f3e6a6" fill-opacity="0.95"/>
<path d="M862.7,257.3 L865,258.5 L869.3,263.9 L871.2,271.4 L876.9,299.7 L879.7,301.6 L885.4,300.7 L888.2,301.6 L888.2,301.6 L886,303 L882,310 L877,314 L873.1,302 L867,275 L862.7,262Z" fill="#f3e6a6" fill-opacity="0.9"/>
<path d="M839.2,324.2 L843.9,316.7 L849.5,309.2 L857.1,290.3 L862.7,258.5 L866,260 L870,275 L876.9,294 L879.7,298 L885.4,300.5" fill="none" stroke="#8a8250" stroke-width="0.9" stroke-linejoin="round"/>
<path d="M839.2,329 L847.6,321.5 L859.9,287 L862.7,260 L867,272 L873,295 L877.8,309 L882,307 L885.4,302" fill="none" stroke="#d9b832" stroke-width="1.1" stroke-linejoin="round"/>
<path d="M839.2,333 L847.6,327 L859.9,293 L862.7,261 L867,275 L873.1,302 L877,314 L882,310 L886,303" fill="none" stroke="#8d8a3a" stroke-width="0.9" stroke-linejoin="round"/>
<path d="M839.2,345 L840,337.5 L842.9,333.7 L845.8,335.6 L848.6,328 L853.3,326 L858,318.6 L859.9,296 L862.7,262 L867.5,282.7 L873.1,307.3 L876.9,317.6 L879.7,316.7 L885.4,305.4 L888.2,301.6" fill="none" stroke="#6f6a55" stroke-width="0.9" stroke-linejoin="round"/>
<path d="M862.7,257.3 L865,258.5 L869.3,263.9 L871.2,271.4 L876.9,299.7 L879.7,301.6 L885.4,300.7 L888.2,301.6" fill="none" stroke="#7b6f5a" stroke-width="0.9" stroke-linejoin="round"/>
<path d="M875,316 L877,318.5 L880,317" fill="none" stroke="#5a8fd8" stroke-width="1.4" stroke-linejoin="round"/>
<path d="M832.5,295 L836,295 L837.3,300.7 L838.6,298.8 L839.2,300 L839.4,336" fill="none" stroke="#7a9ab8" stroke-width="1.0" stroke-linejoin="round"/>
<path d="M888.2,301.6 L895,302.5 L902.4,304.4 L904.2,302.5 L908,294 L910,294.6 L916,295 L1000,295" fill="none" stroke="#7a96a8" stroke-width="1.2" stroke-linejoin="round"/>
<path d="M888.2,300.5 L895,301.5 L902.4,303.4 L904.2,301.5 L908,293.5" fill="none" stroke="#a8a070" stroke-width="0.8" stroke-linejoin="round"/>
<path d="M603.9,384.6 L603.9,509.3 L788.2,509.3" fill="none" stroke="#555" stroke-width="0.9" stroke-linejoin="round"/>
<text x="599.5" y="404.1" font-family='"Liberation Serif",serif' font-size="10" text-anchor="end" font-weight="normal" fill="#222">1.4</text>
<path d="M603.9,400.6 L605.9,400.6" fill="none" stroke="#555" stroke-width="0.8" stroke-linejoin="round"/>
<text x="599.5" y="435.5" font-family='"Liberation Serif",serif' font-size="10" text-anchor="end" font-weight="normal" fill="#222">1</text>
<path d="M603.9,432 L605.9,432" fill="none" stroke="#555" stroke-width="0.8" stroke-linejoin="round"/>
<text x="599.5" y="466.9" font-family='"Liberation Serif",serif' font-size="10" text-anchor="end" font-weight="normal" fill="#222">0.6</text>
<path d="M603.9,463.4 L605.9,463.4" fill="none" stroke="#555" stroke-width="0.8" stroke-linejoin="round"/>
<text x="599.5" y="498.3" font-family='"Liberation Serif",serif' font-size="10" text-anchor="end" font-weight="normal" fill="#222">0.2</text>
<path d="M603.9,494.8 L605.9,494.8" fill="none" stroke="#555" stroke-width="0.8" stroke-linejoin="round"/>
<text x="605" y="519.5" font-family='"Liberation Serif",serif' font-size="10.5" text-anchor="middle" font-weight="normal" fill="#222">0</text>
<text x="640.8" y="519.5" font-family='"Liberation Serif",serif' font-size="10.5" text-anchor="middle" font-weight="normal" fill="#222">2</text>
<path d="M640.8,509.3 L640.8,507.3" fill="none" stroke="#555" stroke-width="0.8" stroke-linejoin="round"/>
<text x="677.6" y="519.5" font-family='"Liberation Serif",serif' font-size="10.5" text-anchor="middle" font-weight="normal" fill="#222">4</text>
<path d="M677.6,509.3 L677.6,507.3" fill="none" stroke="#555" stroke-width="0.8" stroke-linejoin="round"/>
<text x="714.3" y="519.5" font-family='"Liberation Serif",serif' font-size="10.5" text-anchor="middle" font-weight="normal" fill="#222">6</text>
<path d="M714.3,509.3 L714.3,507.3" fill="none" stroke="#555" stroke-width="0.8" stroke-linejoin="round"/>
<text x="751.1" y="519.5" font-family='"Liberation Serif",serif' font-size="10.5" text-anchor="middle" font-weight="normal" fill="#222">8</text>
<path d="M751.1,509.3 L751.1,507.3" fill="none" stroke="#555" stroke-width="0.8" stroke-linejoin="round"/>
<text x="787.9" y="519.5" font-family='"Liberation Serif",serif' font-size="10.5" text-anchor="middle" font-weight="normal" fill="#222">10</text>
<path d="M787.9,509.3 L787.9,507.3" fill="none" stroke="#555" stroke-width="0.8" stroke-linejoin="round"/>
<text x="700" y="526" font-family='"Liberation Serif",serif' font-size="8.5" text-anchor="middle" font-weight="normal" fill="#222"><tspan font-style="italic">t</tspan>/s</text>
<text x="690.6" y="539" font-family='"Liberation Serif",serif' font-size="15.8" text-anchor="middle" font-weight="bold" fill="#111">Voltage</text>
<path d="M604,429.2 L611.6,429.2" fill="none" stroke="#d08a30" stroke-width="1.3" stroke-linejoin="round"/>
<path d="M604,430.4 L611.6,430.4" fill="none" stroke="#5a8a5a" stroke-width="1.3" stroke-linejoin="round"/>
<path d="M612,449 L621.6,441 L636.5,400.5 L637,401 L645,415 L653.7,437 L658,436 L663.7,432" fill="none" stroke="#e07b2c" stroke-width="1.35" stroke-linejoin="round"/>
<path d="M612,451 L621.6,443.5 L636.5,401 L637,401.5 L645,417 L653.7,441 L658,439 L663.7,432" fill="none" stroke="#b04a30" stroke-width="1.35" stroke-linejoin="round"/>
<path d="M612,453 L621.6,446 L636.5,402 L637,402 L645,419 L653.7,444 L658,441 L664,432" fill="none" stroke="#8f6ab8" stroke-width="1.35" stroke-linejoin="round"/>
<path d="M612,455 L621.6,449 L636.5,403 L637,402.5 L645,421 L653.7,447 L659,442 L664,432" fill="none" stroke="#58a8dc" stroke-width="1.35" stroke-linejoin="round"/>
<path d="M612,456 L621.6,452 L636.5,404 L637,403 L645,423 L653.7,450 L659,444 L664.5,432" fill="none" stroke="#6a6a6a" stroke-width="1.35" stroke-linejoin="round"/>
<path d="M612,458 L621.6,455 L636.5,405 L637,404 L645,426 L653.7,455 L660,446 L665,433" fill="none" stroke="#e7c24a" stroke-width="1.35" stroke-linejoin="round"/>
<path d="M637,401 L644.2,389.5 L648,400 L652.6,417.7 L658,426 L663.7,432" fill="none" stroke="#6c6c5c" stroke-width="1.6" stroke-linejoin="round"/>
<path d="M612.3,504 L612.6,484 L616,478 L620,472 L625,470 L630.4,463 L634.9,453 L636,440 L637,402" fill="none" stroke="#6e7a3a" stroke-width="1.2" stroke-linejoin="round"/>
<path d="M613,486 L615,476 L617,480 L619,474 L621.6,487" fill="none" stroke="#3f9a6a" stroke-width="1.6" stroke-linejoin="round"/>
<path d="M613.5,484 L615.5,474 L617.5,478 L619.5,472 L621.6,484" fill="none" stroke="#5ab0d8" stroke-width="1.0" stroke-linejoin="round"/>
<path d="M611.6,430 L612,455" fill="none" stroke="#58a8dc" stroke-width="1.0" stroke-linejoin="round"/>
<path d="M663.7,432 L670,432.5 L680,434 L684,433 L687.4,425 L690,426.5 L695,427 L705,426.7 L787.7,426.7" fill="none" stroke="#8a8a6a" stroke-width="1.4" stroke-linejoin="round"/>
<path d="M663.7,431 L670,431.5 L680,433 L684,432 L687.4,424 L690,425.5 L695,426 L705,426" fill="none" stroke="#e08a30" stroke-width="1.0" stroke-linejoin="round"/>
<path d="M832.1,381.5 L832.1,507.7 L1009.3,507.7" fill="none" stroke="#555" stroke-width="0.9" stroke-linejoin="round"/>
<text x="827.5" y="400.6" font-family='"Liberation Serif",serif' font-size="10" text-anchor="end" font-weight="normal" fill="#222">40</text>
<path d="M832.1,397.1 L834.1,397.1" fill="none" stroke="#555" stroke-width="0.8" stroke-linejoin="round"/>
<text x="827.5" y="432.7" font-family='"Liberation Serif",serif' font-size="10" text-anchor="end" font-weight="normal" fill="#222">0</text>
<path d="M832.1,429.2 L834.1,429.2" fill="none" stroke="#555" stroke-width="0.8" stroke-linejoin="round"/>
<text x="827.5" y="464.8" font-family='"Liberation Serif",serif' font-size="10" text-anchor="end" font-weight="normal" fill="#222">-40</text>
<path d="M832.1,461.3 L834.1,461.3" fill="none" stroke="#555" stroke-width="0.8" stroke-linejoin="round"/>
<text x="827.5" y="496.9" font-family='"Liberation Serif",serif' font-size="10" text-anchor="end" font-weight="normal" fill="#222">-80</text>
<path d="M832.1,493.4 L834.1,493.4" fill="none" stroke="#555" stroke-width="0.8" stroke-linejoin="round"/>
<text x="830" y="518.5" font-family='"Liberation Serif",serif' font-size="10.5" text-anchor="middle" font-weight="normal" fill="#222">0</text>
<text x="867.4" y="518.5" font-family='"Liberation Serif",serif' font-size="10.5" text-anchor="middle" font-weight="normal" fill="#222">2</text>
<path d="M867.4,507.7 L867.4,505.7" fill="none" stroke="#555" stroke-width="0.8" stroke-linejoin="round"/>
<text x="902.8" y="518.5" font-family='"Liberation Serif",serif' font-size="10.5" text-anchor="middle" font-weight="normal" fill="#222">4</text>
<path d="M902.8,507.7 L902.8,505.7" fill="none" stroke="#555" stroke-width="0.8" stroke-linejoin="round"/>
<text x="938.2" y="518.5" font-family='"Liberation Serif",serif' font-size="10.5" text-anchor="middle" font-weight="normal" fill="#222">6</text>
<path d="M938.2,507.7 L938.2,505.7" fill="none" stroke="#555" stroke-width="0.8" stroke-linejoin="round"/>
<text x="973.6" y="518.5" font-family='"Liberation Serif",serif' font-size="10.5" text-anchor="middle" font-weight="normal" fill="#222">8</text>
<path d="M973.6,507.7 L973.6,505.7" fill="none" stroke="#555" stroke-width="0.8" stroke-linejoin="round"/>
<text x="1009" y="518.5" font-family='"Liberation Serif",serif' font-size="10.5" text-anchor="middle" font-weight="normal" fill="#222">10</text>
<path d="M1009,507.7 L1009,505.7" fill="none" stroke="#555" stroke-width="0.8" stroke-linejoin="round"/>
<text x="809" y="456" font-family='"Liberation Serif",serif' font-size="8" text-anchor="middle" font-weight="normal" fill="#222" transform="rotate(-90 809 456)" font-style="italic">δ /°</text>
<text x="926" y="525" font-family='"Liberation Serif",serif' font-size="8.5" text-anchor="middle" font-weight="normal" fill="#222"><tspan font-style="italic">t</tspan>/s</text>
<text x="915.4" y="539" font-family='"Liberation Serif",serif' font-size="15.8" text-anchor="middle" font-weight="bold" fill="#111">Power angle</text>
<path d="M832,429.2 L840.9,429.2" fill="none" stroke="#777" stroke-width="1.0" stroke-linejoin="round"/>
<path d="M832,433.2 L840.9,433.2" fill="none" stroke="#777" stroke-width="1.0" stroke-linejoin="round"/>
<path d="M832,430.8 L840.9,430.8" fill="none" stroke="#aaa" stroke-width="0.8" stroke-linejoin="round"/>
<path d="M832,418.1 L838.7,418.1 L840,408.3 L841.6,415.9 L843.9,412.6 L847,415.9 L858.2,421.5 L869.2,430.3 L872.5,433.6 L878,419.2 L886.9,411.5 L893.6,408.3 L902.4,413.7 L913.4,420.4 L925.8,423.2 L935,423.7 L955.9,423.9 L1009,423.7" fill="none" stroke="#84b84a" stroke-width="1.0" stroke-linejoin="round"/>
<path d="M864.7,432.4 L872.5,438 L878,421.5 L886.9,413.1 L893.6,409.3 L904.6,417.2 L913.4,421.5 L925.8,424 L935,424.5 L1009,424.2" fill="none" stroke="#8a6a2a" stroke-width="1.6" stroke-linejoin="round" stroke-dasharray="1.2,1.6"/>
<path d="M832,427.6 L838.7,427.6 L840.9,426 L844.4,428 L847.9,426.4 L853.2,427.6 L858.5,428.4 L862.6,434.7 L867,454.6 L871.5,476.5 L874.8,483.4 L879.3,484.6 L882.4,467.7 L889.2,436.9 L893.6,423.7 L898,420.4 L904.6,424.8 L913.4,430.3 L925.8,433.2 L935,433.6 L955.9,433.4 L1009,433.2" fill="none" stroke="#9a3a7a" stroke-width="1.1" stroke-linejoin="round"/>
<path d="M864.7,439.2 L869.2,452.5 L874.8,466.9 L880.3,456.9 L886.9,434.7 L891.5,426 L898,422.6 L904.6,425.2 L913.4,429.2 L925.8,431.2 L935,431.4 L1009,431.8" fill="none" stroke="#4fb0d8" stroke-width="1.2" stroke-linejoin="round" stroke-dasharray="2.2,1.4"/>
<path d="M860.3,446.9 L862.6,439.2 L869.2,414.8 L873.6,393.1 L876.2,384.3 L878.9,389.1 L881.4,399.5 L886.9,419.2 L891.5,430.3 L897.5,432.8 L904.9,433.7 L920.5,433.6 L1009,433.2" fill="none" stroke="#e8763a" stroke-width="1.1" stroke-linejoin="round"/>
<path d="M890.4,434 L897.5,436.4 L910.9,438 L929.4,438.8 L955,436.3 L1009,436.3" fill="none" stroke="#b5503a" stroke-width="1.1" stroke-linejoin="round"/>
<path d="M838.7,430.8 L839.6,461.3 L840.5,495 L841.9,453.3 L843.3,430 L845.1,461.3 L847,483.8 L848.5,453.3 L849.7,441.2 L850.8,451.7 L852,466.9 L853.2,446.9 L855,453.3 L856.6,463.7 L858.2,449.3 L860.3,446.9 L863,438.8 L864.7,433.2" fill="none" stroke="#3a78c0" stroke-width="1.1" stroke-linejoin="round"/>
<path d="M838.7,433.2 L840,469.3 L840.9,496.6 L842.3,445.2 L843.7,425.2 L845.5,449.3 L847.6,473.3 L849,441.2 L850.4,461.3 L851.8,443.6 L853.6,459.7 L855.4,445.2 L857.1,455.7 L858.9,443.6 L860.7,451.7 L862.4,440.4 L864.7,434" fill="none" stroke="#c84a2a" stroke-width="1.1" stroke-linejoin="round"/>
<path d="M840.3,495 L840.9,497.4" fill="none" stroke="#e0c040" stroke-width="2.0" stroke-linejoin="round"/>
<g>
<circle cx="34.5" cy="34.2" r="23.8" fill="#eef0f8" fill-opacity="0.5" stroke="#b03848" stroke-width="1.3"/>
<circle cx="34.5" cy="34.2" r="15.8" fill="none" stroke="#b03848" stroke-width="0.9"/>
<defs><path id="ringT" d="M15.5,34.2 A19,19 0 0 1 53.5,34.2"/><path id="ringB" d="M13.5,34.2 A21,21 0 0 0 55.5,34.2"/></defs>
<text font-family='"Noto Serif CJK SC",serif' font-size="5.5" font-weight="bold" fill="#a83848" letter-spacing="3"><textPath href="#ringT" startOffset="22%">四 川 大 学</textPath></text>
<text font-family='"Liberation Serif",serif' font-size="4.8" font-weight="bold" fill="#a83848" letter-spacing="0.3"><textPath href="#ringB" startOffset="8%">SICHUAN UNIVERSITY</textPath></text>
<path d="M31.5,22 L37.5,22 L37.5,25 L39,25 L39,28 L40.5,28 L40.5,40 L42.5,44.5 L26.5,44.5 L28.5,40 L28.5,28 L30,28 L30,25 L31.5,25 Z" fill="#c8303a"/>
<path d="M31,31 L31,42 M34.5,30 L34.5,43 M38,31 L38,42" stroke="#f3c8cc" stroke-width="0.9"/>
<text x="34.5" y="49.5" font-family='"Liberation Serif",serif' font-size="2.6" text-anchor="middle" fill="#b84050">1896</text>
</g>
<rect x="445" y="553" width="32.5" height="31.5" rx="3" fill="#fdf3f4" stroke="#cc2a33" stroke-width="1.8"/>
<text x="453.4" y="566.5" font-family='"Noto Serif CJK SC",serif' font-weight="bold" font-size="13.5" text-anchor="middle" fill="#cc2a33">論</text>
<text x="469.2" y="566.5" font-family='"Noto Serif CJK SC",serif' font-weight="bold" font-size="13.5" text-anchor="middle" fill="#cc2a33">新</text>
<text x="453.4" y="581.3" font-family='"Noto Serif CJK SC",serif' font-weight="bold" font-size="13.5" text-anchor="middle" fill="#cc2a33">電</text>
<text x="469.2" y="581.3" font-family='"Noto Serif CJK SC",serif' font-weight="bold" font-size="13.5" text-anchor="middle" fill="#cc2a33">宗</text>
<text transform="matrix(0.3476 0 0 0.1693 66.22 35.45)" font-family='"Noto Serif CJK SC",serif' font-weight="600" font-size="100" fill="#15151c" stroke="#15151c" stroke-width="2">四</text>
<text transform="matrix(0.2116 0 0 0.3067 111.65 39.24)" font-family='"Noto Serif CJK SC",serif' font-weight="600" font-size="100" fill="#15151c" stroke="#15151c" stroke-width="5">川</text>
<text transform="matrix(0.1817 0 0 0.2489 143.57 37.16)" font-family='"Noto Serif CJK SC",serif' font-weight="600" font-size="100" fill="#15151c" stroke="#15151c" stroke-width="5">大</text>
<text transform="matrix(0.1817 0 0 0.3170 172.25 37.15)" font-family='"Noto Serif CJK SC",serif' font-weight="600" font-size="100" fill="#15151c" stroke="#15151c" stroke-width="5">學</text>
<g stroke="#f3f4fb" fill="none" stroke-linecap="round">
<path d="M17,508 L15.5,545" stroke-width="1.6"/><path d="M17,508 L14.5,495 M17,508 L27,503 M17,508 L8,518" stroke-width="1.2"/>
<path d="M27,500 L31,497" stroke-width="1.2"/>
</g>
<g stroke="#dcdfee" fill="none" stroke-width="1.3" stroke-linejoin="round">
<path d="M515,533 L518,524 Q520,520.5 524,520.5 L541,520.5 Q545,520.5 547,524 L550,533"/>
<path d="M511,532 L554,532 L554,543 L511,543 Z"/>
<path d="M510,530 L514,530 M551,530 L555,530"/>
</g>
</svg>
<svg class="abs" style="left:0;top:0" width="1080" height="610" viewBox="0 0 1080 610"><defs><linearGradient id="bAL" x1="0" y1="0" x2="1" y2="0"><stop offset="0" stop-color="#a3a3a6"/><stop offset="1" stop-color="#e4e4e6"/></linearGradient><linearGradient id="bAR" x1="0" y1="0" x2="1" y2="0"><stop offset="0" stop-color="#a2a2a5"/><stop offset="1" stop-color="#7c7c80"/></linearGradient><linearGradient id="bAB" x1="0" y1="0" x2="0" y2="1"><stop offset="0" stop-color="#a0a0a2"/><stop offset="1" stop-color="#7a7a7d"/></linearGradient><linearGradient id="bAT" x1="0" y1="0" x2="0" y2="1"><stop offset="0" stop-color="#e4e4e6"/><stop offset="1" stop-color="#f8f8f8"/></linearGradient><filter id="bAblur" x="-10%" y="-10%" width="120%" height="140%"><feGaussianBlur stdDeviation="1"/></filter></defs><rect x="325" y="237.5" width="182" height="56" fill="#7a7a80" fill-opacity="0.35" filter="url(#bAblur)"/><rect x="332" y="239" width="168" height="48" fill="#f3f1ef"/><polygon points="324,236 506,236 500,239 332,239" fill="url(#bAT)"/><polygon points="324,236 332,239 332,287 324,292" fill="url(#bAL)"/><polygon points="500,239 506,236 506,292 500,287" fill="url(#bAR)"/><polygon points="332,287 500,287 506,292 324,292" fill="url(#bAB)"/><defs><linearGradient id="bBL" x1="0" y1="0" x2="1" y2="0"><stop offset="0" stop-color="#a3a3a6"/><stop offset="1" stop-color="#e4e4e6"/></linearGradient><linearGradient id="bBR" x1="0" y1="0" x2="1" y2="0"><stop offset="0" stop-color="#a2a2a5"/><stop offset="1" stop-color="#7c7c80"/></linearGradient><linearGradient id="bBB" x1="0" y1="0" x2="0" y2="1"><stop offset="0" stop-color="#a0a0a2"/><stop offset="1" stop-color="#7a7a7d"/></linearGradient><linearGradient id="bBT" x1="0" y1="0" x2="0" y2="1"><stop offset="0" stop-color="#e4e4e6"/><stop offset="1" stop-color="#f8f8f8"/></linearGradient><filter id="bBblur" x="-10%" y="-10%" width="120%" height="140%"><feGaussianBlur stdDeviation="1"/></filter></defs><rect x="562" y="238.5" width="170" height="56" fill="#7a7a80" fill-opacity="0.35" filter="url(#bBblur)"/><rect x="566" y="240" width="159" height="48" fill="#fdfdfd"/><polygon points="561,237 731,237 725,240 566,240" fill="url(#bBT)"/><polygon points="561,237 566,240 566,288 561,293" fill="url(#bBL)"/><polygon points="725,240 731,237 731,293 725,288" fill="url(#bBR)"/><polygon points="566,288 725,288 731,293 561,293" fill="url(#bBB)"/></svg>
<div id="boxA" class="bevel">System response<br>without applied control<br>measures</div>
<div id="boxB" class="bevel">System response after<br>applying control<br>measures</div>
<div id="fault" class="abs">A three-phase N-1 ground fault occurs at 50% of AC line<br>16–17 at 1.0 s and is cleared after 0.146 s by line tripping.</div>
<svg class="abs" style="left:511px;top:388px" width="40" height="26" viewBox="511 388 40 26">
  <defs><linearGradient id="ag" x1="0" y1="0" x2="0" y2="1"><stop offset="0" stop-color="#e6eefa"/><stop offset="1" stop-color="#a9c4e8"/></linearGradient></defs>
  <path d="M513.3,395.2 L536.5,395.2 L536.5,390.6 L547.7,400.9 L536.5,411.9 L536.5,406.8 L513.3,406.8 Z" fill="url(#ag)" stroke="#5f79a6" stroke-width="1"/>
</svg>
<!-- header -->
<div class="pg" style="left:62px;top:48px;font:bold 12.8px/1 'Liberation Serif',serif;color:#23232e;letter-spacing:-0.5px;word-spacing:3.6px">SICHUAN UNIVERSITY</div>
<div id="date">
  <span style="left:699px;top:38.5px">2025年8月16-17日</span>
  <span style="left:797.5px;top:38.5px">中国<i style="font-style:normal;font-family:'Liberation Sans',sans-serif;margin:0 1.5px">·</i>南京</span>
  <span style="left:855px;top:38.5px;font-family:'Noto Sans CJK SC',sans-serif">16<sup>th</sup>-17<sup>th</sup> August, 2025</span>
  <span style="left:969.7px;top:38.5px">Nanjing<i style="font-style:normal;font-family:'Liberation Sans',sans-serif;margin:0 1.2px">·</i>China</span>
</div>
<!-- footer -->
<div class="pg" style="left:487.5px;top:552.5px;font:bold 33.5px/1 'Liberation Sans',sans-serif;color:#232d6c;transform:scaleX(0.71);-webkit-text-stroke:0.45px #232d6c;transform-origin:0 0">2025</div>
<div class="abs" style="left:547.5px;top:554px;width:1.6px;height:28.5px;background:#232d6c"></div>
<div class="pg cjk" style="left:555px;top:554.5px;font-size:17px;font-weight:bold;color:#262f6e;letter-spacing:1.07px">中国工程院工程科技学术研讨会暨第十届紫金论电学术研讨会</div>
<div class="pg" style="left:555.5px;top:574.5px;font:bold 8.5px/1 'Liberation Sans',sans-serif;color:#2c3470;letter-spacing:0.09px">Engineering Technology Forum of CAE &amp; the 10<sup style="font-size:5px;vertical-align:3px">th</sup> Purple Mountain Forum</div>
<div class="pg" style="left:1026.3px;top:585.5px;font:12.3px/1 'Liberation Sans',sans-serif;color:#8c8d98">23</div>
</body></html>
